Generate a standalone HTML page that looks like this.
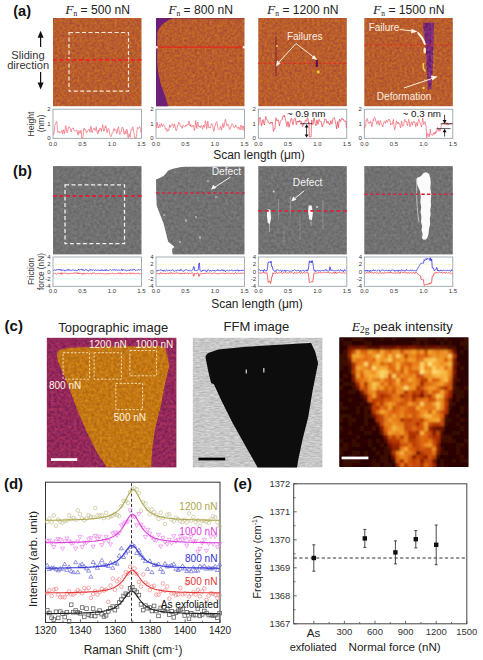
<!DOCTYPE html>
<html><head><meta charset="utf-8"><style>
html,body{margin:0;padding:0;background:#fff;width:483px;height:660px;overflow:hidden}
svg{display:block}
text{font-family:"Liberation Sans", sans-serif}
</style></head><body>
<svg width="483" height="660" viewBox="0 0 483 660">

<defs>
<filter id="nz" x="0" y="0" width="100%" height="100%" filterUnits="objectBoundingBox">
 <feTurbulence type="fractalNoise" baseFrequency="0.32" numOctaves="2" seed="4"/>
 <feColorMatrix type="matrix" values="0 0 0 0 0.55  0 0 0 0 0.12  0 0 0 0 0.2  2.4 0 0 0 -0.95"/>
 <feGaussianBlur stdDeviation="0.5"/>
</filter>
<filter id="nzY" x="0" y="0" width="100%" height="100%" filterUnits="objectBoundingBox">
 <feTurbulence type="fractalNoise" baseFrequency="0.3" numOctaves="2" seed="9"/>
 <feColorMatrix type="matrix" values="0 0 0 0 0.85  0 0 0 0 0.5  0 0 0 0 0.08  2.4 0 0 0 -0.95"/>
 <feGaussianBlur stdDeviation="0.5"/>
</filter>
<filter id="nzP" x="0" y="0" width="100%" height="100%" filterUnits="objectBoundingBox">
 <feTurbulence type="fractalNoise" baseFrequency="0.3" numOctaves="2" seed="13"/>
 <feColorMatrix type="matrix" values="0 0 0 0 0.75  0 0 0 0 0.2  0 0 0 0 0.45  2.4 0 0 0 -0.95"/>
 <feGaussianBlur stdDeviation="0.5"/>
</filter>
<filter id="nzG" x="0" y="0" width="100%" height="100%" filterUnits="objectBoundingBox">
 <feTurbulence type="fractalNoise" baseFrequency="0.35" numOctaves="2" seed="2"/>
 <feColorMatrix type="matrix" values="0 0 0 0 0.6  0 0 0 0 0.6  0 0 0 0 0.6  2 0 0 0 -0.8"/>
 <feGaussianBlur stdDeviation="0.6"/>
</filter>
<filter id="nzL" x="0" y="0" width="100%" height="100%" filterUnits="objectBoundingBox">
 <feTurbulence type="fractalNoise" baseFrequency="0.9 0.3" numOctaves="1" seed="5"/>
 <feColorMatrix type="matrix" values="0 0 0 0 0.55  0 0 0 0 0.55  0 0 0 0 0.55  1.6 0 0 0 -0.6"/>
</filter>
<filter id="bl"><feGaussianBlur stdDeviation="1.1"/></filter>
<filter id="afm" x="0" y="0" width="100%" height="100%" filterUnits="objectBoundingBox" color-interpolation-filters="sRGB"><feTurbulence type="fractalNoise" baseFrequency="0.4" numOctaves="2" seed="4"/><feColorMatrix type="matrix" values="-0.2306 0 0 0 0.8408  -0.2525 0 0 0 0.4910  0.1208 0 0 0 0.1161  0 0 0 0 1"/><feGaussianBlur stdDeviation="0.6"/><feComposite operator="in" in2="SourceGraphic"/></filter><filter id="gry" x="0" y="0" width="100%" height="100%" filterUnits="objectBoundingBox" color-interpolation-filters="sRGB"><feTurbulence type="fractalNoise" baseFrequency="0.35" numOctaves="2" seed="7"/><feColorMatrix type="matrix" values="0.1647 0 0 0 0.3608  0.1647 0 0 0 0.3608  0.1647 0 0 0 0.3608  0 0 0 0 1"/><feGaussianBlur stdDeviation="0.7"/><feComposite operator="in" in2="SourceGraphic"/></filter><filter id="mag" x="0" y="0" width="100%" height="100%" filterUnits="objectBoundingBox" color-interpolation-filters="sRGB"><feTurbulence type="fractalNoise" baseFrequency="0.35" numOctaves="2" seed="11"/><feColorMatrix type="matrix" values="-0.3529 0 0 0 0.7549  -0.1569 0 0 0 0.2353  -0.0784 0 0 0 0.3922  0 0 0 0 1"/><feGaussianBlur stdDeviation="0.5"/><feComposite operator="in" in2="SourceGraphic"/></filter><filter id="org" x="0" y="0" width="100%" height="100%" filterUnits="objectBoundingBox" color-interpolation-filters="sRGB"><feTurbulence type="fractalNoise" baseFrequency="0.35" numOctaves="2" seed="12"/><feColorMatrix type="matrix" values="-0.2353 0 0 0 0.8824  -0.2353 0 0 0 0.5882  -0.0784 0 0 0 0.1176  0 0 0 0 1"/><feGaussianBlur stdDeviation="0.5"/><feComposite operator="in" in2="SourceGraphic"/></filter><filter id="pur" x="0" y="0" width="100%" height="100%" filterUnits="objectBoundingBox" color-interpolation-filters="sRGB"><feTurbulence type="fractalNoise" baseFrequency="0.35" numOctaves="2" seed="17"/><feColorMatrix type="matrix" values="-0.3639 0 0 0 0.6565  -0.2384 0 0 0 0.2800  -0.2635 0 0 0 0.5984  0 0 0 0 1"/><feGaussianBlur stdDeviation="0.6"/><feComposite operator="in" in2="SourceGraphic"/></filter><filter id="lgr" x="0" y="0" width="100%" height="100%" filterUnits="objectBoundingBox" color-interpolation-filters="sRGB"><feTurbulence type="fractalNoise" baseFrequency="0.2 0.8" numOctaves="2" seed="5"/><feColorMatrix type="matrix" values="0.2667 0 0 0 0.6471  0.2667 0 0 0 0.6471  0.2667 0 0 0 0.6471  0 0 0 0 1"/><feGaussianBlur stdDeviation="0.4"/><feComposite operator="in" in2="SourceGraphic"/></filter>
<filter id="bl2"><feGaussianBlur stdDeviation="0.5"/></filter>
</defs>
<text x="13.2" y="15.6" font-size="14.6" font-weight="bold" fill="#111">(a)</text>
<text x="97.55" y="13.6" font-size="12.1" text-anchor="middle" fill="#222"><tspan font-family="Liberation Serif" font-style="italic" font-size="13.5">F</tspan><tspan font-family="Liberation Serif" font-size="7.5" dy="2.3">n</tspan><tspan dy="-2.3"> = 500 nN</tspan></text>
<rect x="53" y="18" width="88.5" height="88.2" fill="#b4582a" filter="url(#afm)"/>
<text x="200.55" y="13.6" font-size="12.1" text-anchor="middle" fill="#222"><tspan font-family="Liberation Serif" font-style="italic" font-size="13.5">F</tspan><tspan font-family="Liberation Serif" font-size="7.5" dy="2.3">n</tspan><tspan dy="-2.3"> = 800 nN</tspan></text>
<rect x="156" y="18" width="88.5" height="88.2" fill="#b4582a" filter="url(#afm)"/>
<text x="302.85" y="13.6" font-size="12.1" text-anchor="middle" fill="#222"><tspan font-family="Liberation Serif" font-style="italic" font-size="13.5">F</tspan><tspan font-family="Liberation Serif" font-size="7.5" dy="2.3">n</tspan><tspan dy="-2.3"> = 1200 nN</tspan></text>
<rect x="258.3" y="18" width="88.5" height="88.2" fill="#b4582a" filter="url(#afm)"/>
<text x="408.85" y="13.6" font-size="12.1" text-anchor="middle" fill="#222"><tspan font-family="Liberation Serif" font-style="italic" font-size="13.5">F</tspan><tspan font-family="Liberation Serif" font-size="7.5" dy="2.3">n</tspan><tspan dy="-2.3"> = 1500 nN</tspan></text>
<rect x="364.3" y="18" width="88.5" height="88.2" fill="#b4582a" filter="url(#afm)"/>
<rect x="69" y="32.5" width="59.5" height="58.7" fill="none" stroke="#f6ecdc" stroke-width="1.2" stroke-dasharray="4 2.5"/>
<line x1="53" y1="59.8" x2="141.5" y2="59.8" stroke="#ee2020" stroke-width="1.8" stroke-dasharray="4 2.5"/>
<rect x="156" y="18" width="88.5" height="1.2" fill="#8a3050" opacity="0.6"/>
<path d="M156,18 L173,18 C167,20.5 162,24 159.5,28 C158,30 157.5,32 157.3,34 L157.2,64 C158.5,76 161,86 163,90 C165,96 167,102 168,106.2 L156,106.2 Z" fill="#6c1e78"/>
<line x1="156" y1="47.2" x2="244.5" y2="47.2" stroke="#e8261a" stroke-width="1.2"/>
<circle cx="156.5" cy="47.2" r="1.3" fill="#fff"/><circle cx="244.0" cy="47.2" r="1.3" fill="#fff"/>
<line x1="258.3" y1="63.4" x2="346.8" y2="63.4" stroke="#e8261a" stroke-width="1.1" stroke-dasharray="3 2" opacity="0.85"/>
<line x1="276" y1="37" x2="276" y2="76" stroke="#7a2040" stroke-width="1.4" opacity="0.75"/>
<line x1="316.8" y1="60" x2="316.8" y2="67" stroke="#5a1050" stroke-width="2.2"/>
<circle cx="318.3" cy="72" r="1.4" fill="#f0d040"/><circle cx="277" cy="46" r="1" fill="#f0d040"/>
<text x="304.7" y="39.6" font-size="10" text-anchor="middle" fill="#fbeee0">Failures</text>
<path d="M296 43.5 L277.3 64 M296 43.5 L314.8 58" stroke="#fbeee0" stroke-width="1" fill="none"/>
<path d="M276 66.5 L277 60.5 L280.6 63.6 Z" fill="#fbeee0"/>
<path d="M317.3 60 L311.5 58.6 L314.2 55.2 Z" fill="#fbeee0"/>
<path d="M423.2 22.8 L434 22.5 L433.5 40 L433.5 54.4 L432.8 66 L432.3 78.6 L431 89.5 L428 89.5 L427.4 78.6 L426.5 66 L426.2 54.4 L425 42 L423.5 32 Z" fill="#74286f" filter="url(#pur)"/>
<line x1="364.3" y1="45" x2="452.8" y2="45" stroke="#e8261a" stroke-width="1.1" stroke-dasharray="3 2" opacity="0.9"/>
<path d="M417.8 31.5 C421.5 34.5 424.5 39 426 44.5 L424.3 45 C422.5 40 420 36.5 417.2 33.5 Z" fill="#fff8e0"/>
<ellipse cx="424.7" cy="50.5" rx="1.3" ry="3" fill="#fff2c0"/>
<path d="M423.5 63 C422.8 66 423 69 425.5 71.5" stroke="#f0d050" stroke-width="1.6" fill="none"/>
<circle cx="423.5" cy="88" r="1.2" fill="#f0d050"/><circle cx="424.8" cy="80" r="0.8" fill="#e8c040"/>
<path d="M433.5 50.7 C434.3 58 434.3 65 434 71.3" stroke="#d8b040" stroke-width="0.9" fill="none" stroke-dasharray="2 2.5" opacity="0.7"/>
<text x="368.7" y="30.6" font-size="10" fill="#fbeee0">Failure</text>
<path d="M399.5 29.5 L413 31" stroke="#fbeee0" stroke-width="1"/>
<path d="M417.5 31.5 L411.5 28.7 L411 33.5 Z" fill="#fbeee0"/>
<text x="404.1" y="99.9" font-size="10" text-anchor="middle" fill="#fbeee0">Deformation</text>
<path d="M404 88 L434 77.8" stroke="#fbeee0" stroke-width="1"/>
<path d="M437.7 76.6 L430.8 75.4 L432.4 80.4 Z" fill="#fbeee0"/>
<rect x="53" y="109.2" width="88.5" height="29.10000000000001" fill="#fff" stroke="#8e9aa0" stroke-width="0.8"/>
<text x="50.5" y="111.3" font-size="6" text-anchor="end" fill="#333" font-weight="normal" >2</text>
<text x="50.5" y="125.85" font-size="6" text-anchor="end" fill="#333" font-weight="normal" >1</text>
<text x="50.5" y="140.4" font-size="6" text-anchor="end" fill="#333" font-weight="normal" >0</text>
<text x="53.0" y="145.8" font-size="6" text-anchor="middle" fill="#333" font-weight="normal" >0.0</text>
<text x="82.5" y="145.8" font-size="6" text-anchor="middle" fill="#333" font-weight="normal" >0.5</text>
<text x="112.0" y="145.8" font-size="6" text-anchor="middle" fill="#333" font-weight="normal" >1.0</text>
<text x="141.5" y="145.8" font-size="6" text-anchor="middle" fill="#333" font-weight="normal" >1.5</text>
<polyline points="53.5,135.1 53.9,133.3 54.4,131.5 54.8,125.4 55.3,124.4 55.7,123.5 56.1,121.7 56.6,121.3 57.0,123.1 57.5,130.7 57.9,132.5 58.3,132.4 58.8,131.3 59.2,131.4 59.7,132.8 60.1,132.4 60.5,132.9 61.0,132.6 61.4,131.7 61.9,130.3 62.3,132.2 62.7,133.8 63.2,131.5 63.6,129.6 64.1,131.4 64.5,133.6 64.9,131.4 65.4,127.1 65.8,125.7 66.3,127.5 66.7,131.6 67.1,132.9 67.6,131.9 68.0,129.6 68.4,127.6 68.9,126.5 69.3,126.9 69.8,128.1 70.2,128.5 70.6,130.1 71.1,132.0 71.5,130.7 72.0,128.5 72.4,128.3 72.8,128.3 73.3,128.0 73.7,129.5 74.2,130.9 74.6,130.4 75.0,130.8 75.5,131.4 75.9,130.9 76.4,130.0 76.8,129.9 77.2,131.9 77.7,134.3 78.1,135.2 78.6,131.7 79.0,130.6 79.4,131.7 79.9,133.6 80.3,132.9 80.8,130.3 81.2,130.4 81.6,137.8 82.1,137.8 82.5,137.8 83.0,137.6 83.4,130.9 83.8,128.6 84.3,128.1 84.7,130.0 85.2,130.2 85.6,129.6 86.0,131.4 86.5,132.7 86.9,132.7 87.4,130.8 87.8,130.8 88.2,130.3 88.7,129.9 89.1,129.1 89.6,129.9 90.0,132.2 90.4,129.9 90.9,126.4 91.3,127.4 91.8,132.1 92.2,132.6 92.6,130.7 93.1,129.8 93.5,129.2 94.0,128.0 94.4,128.4 94.8,130.2 95.3,130.7 95.7,129.8 96.2,126.7 96.6,130.5 97.0,131.5 97.5,133.1 97.9,133.9 98.3,130.1 98.8,132.1 99.2,130.4 99.7,128.8 100.1,128.1 100.5,129.1 101.0,128.8 101.4,131.5 101.9,128.9 102.3,126.9 102.7,124.7 103.2,127.8 103.6,131.0 104.1,131.1 104.5,130.3 104.9,127.1 105.4,127.8 105.8,125.6 106.3,127.9 106.7,131.0 107.1,132.7 107.6,130.8 108.0,128.8 108.5,128.3 108.9,128.9 109.3,131.4 109.8,134.5 110.2,135.5 110.7,136.4 111.1,136.6 111.5,135.5 112.0,133.6 112.4,133.2 112.9,132.5 113.3,130.5 113.7,128.8 114.2,128.6 114.6,130.5 115.1,130.4 115.5,129.9 115.9,129.5 116.4,132.4 116.8,133.7 117.3,132.3 117.7,128.4 118.1,128.2 118.6,126.9 119.0,131.0 119.5,132.7 119.9,134.6 120.3,132.1 120.8,132.3 121.2,131.8 121.7,129.0 122.1,127.8 122.5,127.0 123.0,128.7 123.4,128.9 123.9,133.4 124.3,134.3 124.7,132.6 125.2,130.7 125.6,132.4 126.1,134.1 126.5,130.0 126.9,129.2 127.4,130.3 127.8,136.5 128.2,137.8 128.7,136.4 129.1,133.8 129.6,136.0 130.0,137.3 130.4,134.4 130.9,130.4 131.3,129.4 131.8,130.3 132.2,127.5 132.6,127.2 133.1,127.3 133.5,132.1 134.0,132.9 134.4,135.2 134.8,137.8 135.3,137.8 135.7,137.8 136.2,137.8 136.6,134.5 137.0,131.1 137.5,127.3 137.9,128.1 138.4,128.7 138.8,128.2 139.2,127.3 139.7,126.5 140.1,127.5 140.6,128.6 141.0,132.6" fill="none" stroke="#ee5a6a" stroke-width="0.65" stroke-linejoin="round"/>
<rect x="156" y="109.2" width="88.5" height="29.10000000000001" fill="#fff" stroke="#8e9aa0" stroke-width="0.8"/>
<text x="153.5" y="111.3" font-size="6" text-anchor="end" fill="#333" font-weight="normal" >2</text>
<text x="153.5" y="125.85" font-size="6" text-anchor="end" fill="#333" font-weight="normal" >1</text>
<text x="153.5" y="140.4" font-size="6" text-anchor="end" fill="#333" font-weight="normal" >0</text>
<text x="156.0" y="145.8" font-size="6" text-anchor="middle" fill="#333" font-weight="normal" >0.0</text>
<text x="185.5" y="145.8" font-size="6" text-anchor="middle" fill="#333" font-weight="normal" >0.5</text>
<text x="215.0" y="145.8" font-size="6" text-anchor="middle" fill="#333" font-weight="normal" >1.0</text>
<text x="244.5" y="145.8" font-size="6" text-anchor="middle" fill="#333" font-weight="normal" >1.5</text>
<polyline points="156.5,128.0 156.9,122.2 157.4,123.0 157.8,125.9 158.3,128.1 158.7,126.8 159.1,126.0 159.6,124.6 160.0,127.4 160.5,126.4 160.9,126.0 161.3,123.4 161.8,125.3 162.2,126.1 162.7,126.5 163.1,124.8 163.5,124.4 164.0,125.7 164.4,125.9 164.9,126.4 165.3,128.8 165.7,129.5 166.2,128.4 166.6,129.4 167.1,131.5 167.5,130.8 167.9,129.7 168.4,130.9 168.8,130.3 169.3,126.9 169.7,124.9 170.1,126.4 170.6,127.3 171.0,125.6 171.4,124.9 171.9,125.1 172.3,124.3 172.8,124.0 173.2,126.3 173.6,127.5 174.1,126.4 174.5,123.9 175.0,125.7 175.4,127.9 175.8,130.2 176.3,130.8 176.7,130.2 177.2,127.6 177.6,126.1 178.0,125.0 178.5,123.7 178.9,122.2 179.4,123.5 179.8,123.4 180.2,125.8 180.7,126.5 181.1,126.1 181.6,126.7 182.0,128.1 182.4,128.3 182.9,125.2 183.3,125.8 183.8,126.0 184.2,126.4 184.6,126.8 185.1,126.5 185.5,126.5 186.0,125.0 186.4,126.2 186.8,125.1 187.3,124.2 187.7,124.0 188.2,124.9 188.6,123.7 189.0,120.9 189.5,123.5 189.9,125.5 190.4,126.1 190.8,124.4 191.2,127.1 191.7,126.5 192.1,127.0 192.6,126.0 193.0,125.2 193.4,125.3 193.9,127.7 194.3,130.6 194.8,128.6 195.2,125.5 195.6,120.6 196.1,123.0 196.5,127.4 197.0,128.6 197.4,123.7 197.8,122.0 198.3,124.4 198.7,126.6 199.2,126.7 199.6,126.1 200.0,127.6 200.5,127.3 200.9,126.1 201.3,125.3 201.8,126.3 202.2,128.4 202.7,129.4 203.1,127.2 203.5,125.0 204.0,126.9 204.4,127.2 204.9,125.1 205.3,120.8 205.7,121.8 206.2,124.0 206.6,128.8 207.1,127.6 207.5,122.4 207.9,121.1 208.4,125.1 208.8,127.6 209.3,127.1 209.7,127.2 210.1,128.2 210.6,126.9 211.0,124.9 211.5,124.0 211.9,123.5 212.3,125.1 212.8,125.3 213.2,129.0 213.7,131.4 214.1,130.5 214.5,127.5 215.0,125.5 215.4,125.3 215.9,122.8 216.3,122.1 216.7,121.7 217.2,123.5 217.6,126.0 218.1,128.5 218.5,129.1 218.9,129.5 219.4,129.6 219.8,128.8 220.3,126.8 220.7,126.3 221.1,129.0 221.6,130.1 222.0,128.6 222.5,124.5 222.9,123.3 223.3,124.6 223.8,127.5 224.2,125.7 224.7,122.7 225.1,119.9 225.5,119.2 226.0,121.2 226.4,124.4 226.9,126.0 227.3,124.2 227.7,123.9 228.2,124.3 228.6,124.9 229.1,127.6 229.5,128.8 229.9,129.5 230.4,127.6 230.8,127.6 231.2,126.1 231.7,124.7 232.1,123.6 232.6,124.2 233.0,125.1 233.4,126.2 233.9,127.1 234.3,127.7 234.8,126.8 235.2,126.2 235.6,124.9 236.1,126.9 236.5,126.6 237.0,127.4 237.4,127.4 237.8,128.8 238.3,128.3 238.7,127.1 239.2,127.2 239.6,128.2 240.0,130.0 240.5,127.4 240.9,125.0 241.4,126.0 241.8,128.2 242.2,129.8 242.7,126.6 243.1,127.1 243.6,125.9 244.0,131.0" fill="none" stroke="#ec5868" stroke-width="0.65" stroke-linejoin="round"/>
<rect x="258.3" y="109.2" width="88.5" height="29.10000000000001" fill="#fff" stroke="#8e9aa0" stroke-width="0.8"/>
<text x="255.8" y="111.3" font-size="6" text-anchor="end" fill="#333" font-weight="normal" >2</text>
<text x="255.8" y="125.85" font-size="6" text-anchor="end" fill="#333" font-weight="normal" >1</text>
<text x="255.8" y="140.4" font-size="6" text-anchor="end" fill="#333" font-weight="normal" >0</text>
<text x="258.3" y="145.8" font-size="6" text-anchor="middle" fill="#333" font-weight="normal" >0.0</text>
<text x="287.8" y="145.8" font-size="6" text-anchor="middle" fill="#333" font-weight="normal" >0.5</text>
<text x="317.3" y="145.8" font-size="6" text-anchor="middle" fill="#333" font-weight="normal" >1.0</text>
<text x="346.8" y="145.8" font-size="6" text-anchor="middle" fill="#333" font-weight="normal" >1.5</text>
<polyline points="258.8,125.2 259.2,118.8 259.7,118.0 260.1,117.2 260.6,119.4 261.0,122.4 261.4,126.0 261.9,124.8 262.3,122.2 262.8,120.0 263.2,119.6 263.6,123.2 264.1,124.1 264.5,125.0 265.0,120.6 265.4,118.5 265.8,116.5 266.3,118.8 266.7,119.6 267.2,119.7 267.6,120.1 268.0,122.0 268.5,123.0 268.9,123.2 269.4,123.6 269.8,123.8 270.2,123.8 270.7,122.2 271.1,123.3 271.6,122.3 272.0,123.0 272.4,122.3 272.9,125.1 273.3,131.4 273.7,130.5 274.2,128.5 274.6,128.8 275.1,128.7 275.5,119.7 275.9,117.7 276.4,119.2 276.8,120.8 277.3,120.8 277.7,119.8 278.1,119.9 278.6,120.2 279.0,124.0 279.5,125.9 279.9,124.0 280.3,121.6 280.8,120.9 281.2,120.0 281.7,120.0 282.1,119.6 282.5,118.0 283.0,115.7 283.4,116.0 283.9,116.7 284.3,115.2 284.7,116.0 285.2,118.3 285.6,120.5 286.1,121.7 286.5,124.4 286.9,126.6 287.4,124.7 287.8,121.5 288.3,122.3 288.7,126.1 289.1,127.3 289.6,124.8 290.0,122.4 290.5,121.0 290.9,118.9 291.3,118.2 291.8,118.8 292.2,121.6 292.7,124.2 293.1,124.7 293.5,121.8 294.0,119.1 294.4,118.7 294.9,118.6 295.3,118.4 295.7,121.4 296.2,124.5 296.6,124.5 297.1,121.0 297.5,121.9 297.9,121.9 298.4,122.1 298.8,121.1 299.3,122.2 299.7,120.4 300.1,121.8 300.6,121.8 301.0,121.6 301.5,121.1 301.9,123.2 302.3,125.9 302.8,126.6 303.2,125.3 303.6,123.0 304.1,123.0 304.5,123.3 305.0,122.2 305.4,120.3 305.8,119.8 306.3,120.6 306.7,121.3 307.2,118.2 307.6,117.7 308.0,118.8 308.5,123.2 308.9,121.9 309.4,136.8 309.8,136.8 310.2,136.8 310.7,136.8 311.1,136.8 311.6,120.4 312.0,120.2 312.4,124.0 312.9,124.7 313.3,122.9 313.8,117.9 314.2,118.0 314.6,119.9 315.1,123.4 315.5,124.6 316.0,125.8 316.4,123.1 316.8,120.0 317.3,120.4 317.7,124.5 318.2,123.8 318.6,121.4 319.0,119.3 319.5,120.8 319.9,121.5 320.4,121.0 320.8,121.4 321.2,121.4 321.7,124.1 322.1,126.1 322.6,127.0 323.0,123.9 323.4,123.7 323.9,123.3 324.3,121.1 324.8,118.7 325.2,119.1 325.6,119.5 326.1,119.3 326.5,121.3 327.0,123.3 327.4,121.7 327.8,121.1 328.3,121.8 328.7,123.5 329.2,123.3 329.6,125.0 330.0,124.4 330.5,122.3 330.9,120.5 331.4,122.5 331.8,124.1 332.2,123.5 332.7,120.1 333.1,118.6 333.5,118.1 334.0,117.8 334.4,117.5 334.9,119.8 335.3,121.8 335.7,123.5 336.2,125.9 336.6,128.9 337.1,124.9 337.5,121.6 337.9,123.7 338.4,127.7 338.8,123.5 339.3,119.7 339.7,119.1 340.1,121.3 340.6,121.6 341.0,120.4 341.5,118.4 341.9,118.6 342.3,119.5 342.8,118.7 343.2,118.8 343.7,120.2 344.1,121.1 344.5,121.6 345.0,120.9 345.4,120.7 345.9,121.2 346.3,127.9" fill="none" stroke="#e43848" stroke-width="0.65" stroke-linejoin="round"/>
<rect x="364.3" y="109.2" width="88.5" height="29.10000000000001" fill="#fff" stroke="#8e9aa0" stroke-width="0.8"/>
<text x="361.8" y="111.3" font-size="6" text-anchor="end" fill="#333" font-weight="normal" >2</text>
<text x="361.8" y="125.85" font-size="6" text-anchor="end" fill="#333" font-weight="normal" >1</text>
<text x="361.8" y="140.4" font-size="6" text-anchor="end" fill="#333" font-weight="normal" >0</text>
<text x="364.3" y="145.8" font-size="6" text-anchor="middle" fill="#333" font-weight="normal" >0.0</text>
<text x="393.8" y="145.8" font-size="6" text-anchor="middle" fill="#333" font-weight="normal" >0.5</text>
<text x="423.3" y="145.8" font-size="6" text-anchor="middle" fill="#333" font-weight="normal" >1.0</text>
<text x="452.8" y="145.8" font-size="6" text-anchor="middle" fill="#333" font-weight="normal" >1.5</text>
<polyline points="364.8,128.5 365.2,124.9 365.7,125.4 366.1,120.1 366.6,120.3 367.0,118.4 367.4,119.4 367.9,121.4 368.3,123.3 368.8,122.3 369.2,122.1 369.6,123.5 370.1,123.1 370.5,121.3 371.0,121.6 371.4,123.6 371.8,126.8 372.3,124.6 372.7,122.9 373.2,119.6 373.6,120.6 374.0,118.1 374.5,117.2 374.9,117.5 375.4,118.7 375.8,121.4 376.2,121.2 376.7,124.2 377.1,123.7 377.6,123.1 378.0,120.6 378.4,121.9 378.9,124.6 379.3,125.5 379.7,123.4 380.2,120.6 380.6,120.6 381.1,124.1 381.5,124.8 381.9,125.5 382.4,125.5 382.8,127.0 383.3,124.2 383.7,122.5 384.1,121.2 384.6,121.7 385.0,123.0 385.5,123.3 385.9,121.3 386.3,120.0 386.8,120.6 387.2,122.3 387.7,121.2 388.1,120.7 388.5,119.5 389.0,120.3 389.4,119.3 389.9,120.3 390.3,122.1 390.7,125.0 391.2,123.8 391.6,123.7 392.1,124.3 392.5,124.2 392.9,121.2 393.4,119.4 393.8,124.2 394.3,128.3 394.7,129.8 395.1,127.9 395.6,127.2 396.0,123.1 396.5,120.9 396.9,122.3 397.3,123.9 397.8,122.8 398.2,122.0 398.7,123.8 399.1,124.2 399.5,123.5 400.0,124.9 400.4,128.0 400.9,127.1 401.3,122.3 401.7,120.9 402.2,124.3 402.6,125.9 403.1,126.4 403.5,125.9 403.9,123.2 404.4,120.6 404.8,119.2 405.3,121.3 405.7,121.5 406.1,121.0 406.6,122.0 407.0,124.1 407.5,125.7 407.9,123.5 408.3,120.8 408.8,119.2 409.2,121.9 409.6,125.2 410.1,126.8 410.5,126.3 411.0,123.3 411.4,122.2 411.8,122.1 412.3,125.1 412.7,123.0 413.2,122.1 413.6,121.3 414.0,122.6 414.5,121.6 414.9,122.5 415.4,124.3 415.8,127.1 416.2,124.3 416.7,122.7 417.1,123.3 417.6,125.9 418.0,122.0 418.4,119.5 418.9,119.0 419.3,121.2 419.8,121.3 420.2,123.5 420.6,124.8 421.1,125.1 421.5,127.1 422.0,124.1 422.4,120.3 422.8,118.0 423.3,122.0 423.7,124.4 424.2,123.6 424.6,122.8 425.0,121.6 425.5,124.4 425.9,124.5 426.4,131.0 426.8,137.7 427.2,133.3 427.7,134.8 428.1,134.6 428.6,134.2 429.0,136.9 429.4,134.3 429.9,135.2 430.3,129.1 430.8,133.6 431.2,134.4 431.6,134.3 432.1,134.9 432.5,135.5 433.0,134.5 433.4,133.2 433.8,134.3 434.3,132.5 434.7,134.2 435.2,133.9 435.6,131.7 436.0,133.1 436.5,130.0 436.9,129.5 437.4,127.3 437.8,128.5 438.2,131.2 438.7,129.3 439.1,130.0 439.5,129.1 440.0,131.2 440.4,129.0 440.9,129.0 441.3,124.5 441.7,124.9 442.2,124.0 442.6,123.4 443.1,122.8 443.5,123.7 443.9,124.2 444.4,124.4 444.8,123.1 445.3,122.3 445.7,123.5 446.1,124.8 446.6,124.6 447.0,122.4 447.5,123.6 447.9,125.3 448.3,123.8 448.8,124.8 449.2,124.3 449.7,124.2 450.1,124.4 450.5,123.3 451.0,123.8 451.4,124.3 451.9,123.4 452.3,123.0" fill="none" stroke="#ec5868" stroke-width="0.65" stroke-linejoin="round"/>
<text x="306.2" y="116.8" font-size="9.8" text-anchor="middle" fill="#111" font-weight="normal" >~ 0.9 nm</text>
<line x1="300" y1="123.7" x2="312" y2="123.7" stroke="#111" stroke-width="0.7"/>
<line x1="306.6" y1="126" x2="306.6" y2="136" stroke="#111" stroke-width="0.8"/>
<path d="M306.6 124.2 l-2 3.2 h4 Z M306.6 137.6 l-2 -3.2 h4 Z" fill="#111"/>
<text x="421.8" y="116.8" font-size="9.8" text-anchor="middle" fill="#111" font-weight="normal" >~ 0.3 nm</text>
<line x1="440.7" y1="123.7" x2="452.5" y2="123.7" stroke="#111" stroke-width="0.7"/>
<line x1="436.8" y1="128.6" x2="450.5" y2="128.6" stroke="#111" stroke-width="0.7"/>
<path d="M444.6 123.5 l-2 -3.4 h4 Z M444.6 128.8 l-2 3.4 h4 Z" fill="#111"/>
<line x1="444.6" y1="114.8" x2="444.6" y2="121" stroke="#111" stroke-width="0.8"/><line x1="444.6" y1="131.5" x2="444.6" y2="136.5" stroke="#111" stroke-width="0.8"/>
<text x="0" y="0" font-size="8.6" text-anchor="middle" fill="#333" transform="translate(33.6,124) rotate(-90)">Height</text>
<text x="0" y="0" font-size="8.6" text-anchor="middle" fill="#333" transform="translate(43.6,123.5) rotate(-90)">(nm)</text>
<path d="M40.6 30.8 l-3 7 h6 Z" fill="#111"/><line x1="40.6" y1="36" x2="40.6" y2="47" stroke="#111" stroke-width="1.2"/>
<path d="M40.6 89.4 l-3 -7 h6 Z" fill="#111"/><line x1="40.6" y1="72" x2="40.6" y2="84" stroke="#111" stroke-width="1.2"/>
<text x="28" y="58.5" font-size="11.1" text-anchor="middle" fill="#333" font-weight="normal" >Sliding</text>
<text x="28.1" y="69.3" font-size="11.1" text-anchor="middle" fill="#333" font-weight="normal" >direction</text>
<text x="259" y="158.8" font-size="12" text-anchor="middle" fill="#222" font-weight="normal" >Scan length (μm)</text>
<text x="13" y="175.8" font-size="14.8" font-weight="bold" fill="#111">(b)</text>
<rect x="53" y="166.1" width="88.5" height="88.3" fill="#707070" filter="url(#gry)"/>
<rect x="156" y="166.1" width="88.5" height="88.3" fill="#707070" filter="url(#gry)"/>
<rect x="258.3" y="166.1" width="88.5" height="88.3" fill="#707070" filter="url(#gry)"/>
<rect x="364.3" y="166.1" width="88.5" height="88.3" fill="#707070" filter="url(#gry)"/>
<rect x="65" y="184.8" width="59.5" height="58.9" fill="none" stroke="#f2f2f2" stroke-width="1.3" stroke-dasharray="4 2.5"/>
<line x1="53" y1="196" x2="141.5" y2="196" stroke="#4f8a84" stroke-width="2.6" opacity="0.45"/>
<line x1="53" y1="196" x2="141.5" y2="196" stroke="#e0203a" stroke-width="1.8" stroke-dasharray="4 2.5"/>
<path d="M155.5,165.5 L245,165.5 L245,166.6 L185,166.7 C180,167 175,168 170.7,169.5 C168.5,170.3 167.5,171.3 166.6,172.4 C165,174.5 164,175.5 162.4,176.6 C160,178 158,179 155.5,179.7 Z" fill="#fff"/>
<path d="M155.5,179.7 L156,180 L156.3,195 L156.6,205 L158.3,210 L161,217 L163.6,223.6 L166,233 L168.2,241.8 L171,244 L174.5,247 L172,249 L172.7,255 L155.5,255 Z" fill="#fff"/>
<line x1="156" y1="193" x2="244.5" y2="193" stroke="#4f8a84" stroke-width="2.6" opacity="0.45"/>
<line x1="156" y1="193" x2="244.5" y2="193" stroke="#e0203a" stroke-width="1.6" stroke-dasharray="3.5 2.2"/>
<text x="226.4" y="175.3" font-size="10.2" text-anchor="middle" fill="#f4f4f4" font-weight="normal" >Defect</text>
<path d="M230.5 177 L213.5 188" stroke="#f4f4f4" stroke-width="1"/><path d="M211 189.8 l2.2 -5 l3.2 3.3 Z" fill="#f4f4f4"/>
<line x1="186" y1="219.1" x2="186" y2="222.1" stroke="#ddd" stroke-width="1"/>
<line x1="200" y1="236.1" x2="200" y2="239.1" stroke="#ddd" stroke-width="1"/>
<line x1="164" y1="214.1" x2="164" y2="216.1" stroke="#ddd" stroke-width="1"/>
<line x1="180" y1="241.1" x2="180" y2="243.1" stroke="#ddd" stroke-width="1"/>
<line x1="216" y1="196.1" x2="216" y2="198.1" stroke="#ddd" stroke-width="1"/>
<line x1="196" y1="216.1" x2="196" y2="218.1" stroke="#ddd" stroke-width="1"/>
<line x1="208" y1="180.1" x2="208" y2="182.1" stroke="#ddd" stroke-width="1"/>
<line x1="258.3" y1="210.9" x2="346.8" y2="210.9" stroke="#4f8a84" stroke-width="2.6" opacity="0.45"/>
<text x="307.6" y="186.2" font-size="10.2" text-anchor="middle" fill="#f4f4f4" font-weight="normal" >Defect</text>
<path d="M304.3 190.7 L293.5 199.5" stroke="#f4f4f4" stroke-width="1"/><path d="M291.2 201.6 l2 -5 l3.2 3.2 Z" fill="#f4f4f4"/>
<path d="M267.3 209.5 L270.3 209.5 L271.1 218 L269.8 224 L267.8 223 L266.90000000000003 216 Z" fill="#fafafa" filter="url(#bl2)"/>
<path d="M308.6 205.5 L311.6 205.5 L312.90000000000003 213 L311.90000000000003 220 L309.3 219.5 L308.1 212 Z" fill="#fafafa" filter="url(#bl2)"/>
<line x1="258.3" y1="210.9" x2="346.8" y2="210.9" stroke="#e0203a" stroke-width="1.8" stroke-dasharray="4 2.5"/>
<circle cx="273.7" cy="191.5" r="0.9" fill="#ddd"/><circle cx="317" cy="207" r="0.9" fill="#ddd"/>
<line x1="269.5" y1="222" x2="269.5" y2="232" stroke="#e8e8e8" stroke-width="0.9" opacity="0.5"/>
<line x1="311" y1="218" x2="311" y2="226" stroke="#e8e8e8" stroke-width="0.9" opacity="0.5"/>
<line x1="278.6" y1="199" x2="278.6" y2="219" stroke="#e8e8e8" stroke-width="0.9" opacity="0.3"/>
<line x1="323" y1="200" x2="323" y2="230" stroke="#e8e8e8" stroke-width="0.9" opacity="0.3"/>
<line x1="290.4" y1="196" x2="290.4" y2="214" stroke="#e8e8e8" stroke-width="0.9" opacity="0.3"/>
<line x1="300" y1="215" x2="300" y2="240" stroke="#e8e8e8" stroke-width="0.9" opacity="0.2"/>
<line x1="284" y1="225" x2="284" y2="245" stroke="#e8e8e8" stroke-width="0.9" opacity="0.2"/>
<line x1="364.3" y1="194.2" x2="452.8" y2="194.2" stroke="#4f8a84" stroke-width="2.6" opacity="0.45"/>
<path d="M425.2 172.3 L427.5 172.8 L429 174 L430.3 178 L430.8 183 L430.3 188 L431.3 194 L430.8 200 L431 206 L430.2 210 L430.7 214.5 L429.8 219 L430.2 224 L429 229 L428.5 234 L427.5 237.5 L426 239.5 L423.5 239.8 L422 238 L422.6 234 L421.5 230 L422.2 226 L421 222 L421.4 217 L420.6 212 L421.2 207 L420.3 202 L420.8 197 L420.2 192 L419.2 189 L417.6 186 L416.6 183 L416.4 179 L417.5 177.5 L419.5 177 L421.5 175.5 L423 173.5 Z" fill="#fbfbfb" filter="url(#bl2)"/>
<path d="M417 180 C416 195 417 210 419 222" stroke="#cfcfcf" stroke-width="0.8" fill="none"/>
<line x1="364.3" y1="194.2" x2="452.8" y2="194.2" stroke="#e0203a" stroke-width="1.6" stroke-dasharray="3.5 2.2"/>
<rect x="53" y="257.0" width="88.5" height="29.30000000000001" fill="#fff" stroke="#8e9aa0" stroke-width="0.8"/>
<text x="50.7" y="259.1" font-size="6" text-anchor="end" fill="#333" font-weight="normal" >4</text>
<text x="50.7" y="266.425" font-size="6" text-anchor="end" fill="#333" font-weight="normal" >2</text>
<text x="50.7" y="273.75" font-size="6" text-anchor="end" fill="#333" font-weight="normal" >0</text>
<text x="50.7" y="281.07500000000005" font-size="6" text-anchor="end" fill="#333" font-weight="normal" >-2</text>
<text x="50.7" y="288.40000000000003" font-size="6" text-anchor="end" fill="#333" font-weight="normal" >-4</text>
<text x="53.0" y="292.9" font-size="6" text-anchor="middle" fill="#333" font-weight="normal" >0.0</text>
<text x="82.5" y="292.9" font-size="6" text-anchor="middle" fill="#333" font-weight="normal" >0.5</text>
<text x="112.0" y="292.9" font-size="6" text-anchor="middle" fill="#333" font-weight="normal" >1.0</text>
<text x="141.5" y="292.9" font-size="6" text-anchor="middle" fill="#333" font-weight="normal" >1.5</text>
<line x1="53" y1="264.325" x2="141.5" y2="264.325" stroke="#f4f0b0" stroke-width="0.6"/>
<line x1="53" y1="278.97499999999997" x2="141.5" y2="278.97499999999997" stroke="#c8f0f0" stroke-width="0.6"/>
<polyline points="53.5,273.7 54.1,273.7 54.7,272.9 55.3,273.5 55.8,273.7 56.4,274.2 57.0,273.9 57.6,273.4 58.2,273.3 58.8,272.9 59.4,273.7 60.0,273.3 60.5,273.0 61.1,274.3 61.7,272.6 62.3,273.9 62.9,273.9 63.5,273.1 64.1,273.3 64.7,273.0 65.2,273.2 65.8,273.4 66.4,273.5 67.0,273.8 67.6,273.3 68.2,274.2 68.8,273.5 69.4,273.2 69.9,273.9 70.5,273.2 71.1,273.1 71.7,273.5 72.3,273.5 72.9,273.3 73.5,273.2 74.1,273.6 74.6,272.7 75.2,272.9 75.8,273.1 76.4,273.0 77.0,273.0 77.6,274.0 78.2,272.5 78.8,274.0 79.3,273.4 79.9,273.9 80.5,273.2 81.1,273.3 81.7,273.4 82.3,274.5 82.9,273.2 83.4,273.4 84.0,274.2 84.6,272.9 85.2,273.5 85.8,273.8 86.4,273.3 87.0,273.7 87.6,273.3 88.1,273.6 88.7,273.8 89.3,273.9 89.9,273.2 90.5,273.4 91.1,273.8 91.7,273.7 92.3,273.8 92.8,272.7 93.4,273.3 94.0,273.4 94.6,272.9 95.2,273.7 95.8,273.9 96.4,273.7 97.0,273.4 97.5,273.6 98.1,273.6 98.7,273.4 99.3,273.6 99.9,273.9 100.5,273.2 101.1,273.6 101.7,273.6 102.2,273.3 102.8,273.3 103.4,273.9 104.0,273.8 104.6,274.0 105.2,273.9 105.8,273.4 106.4,273.7 106.9,273.8 107.5,274.0 108.1,273.0 108.7,273.6 109.3,273.4 109.9,273.5 110.5,273.8 111.1,273.3 111.6,273.5 112.2,273.0 112.8,273.3 113.4,274.0 114.0,273.5 114.6,273.5 115.2,273.5 115.7,274.0 116.3,274.1 116.9,273.5 117.5,273.4 118.1,273.9 118.7,272.8 119.3,273.3 119.9,273.7 120.4,272.7 121.0,274.1 121.6,273.9 122.2,273.9 122.8,273.1 123.4,273.8 124.0,273.2 124.6,273.4 125.1,273.7 125.7,273.5 126.3,273.9 126.9,273.2 127.5,273.9 128.1,273.8 128.7,273.2 129.3,273.7 129.8,272.8 130.4,273.0 131.0,274.1 131.6,273.4 132.2,273.5 132.8,272.7 133.4,273.7 134.0,273.7 134.5,273.6 135.1,273.6 135.7,273.8 136.3,273.4 136.9,273.7 137.5,273.8 138.1,272.9 138.7,273.4 139.2,273.9 139.8,274.0 140.4,273.6 141.0,273.9" fill="none" stroke="#f03838" stroke-width="0.75" stroke-linejoin="round"/>
<polyline points="53.5,270.7 54.1,270.0 54.7,269.7 55.3,269.9 55.8,270.6 56.4,269.6 57.0,269.8 57.6,269.8 58.2,269.8 58.8,269.6 59.4,269.0 60.0,270.4 60.5,270.1 61.1,269.3 61.7,270.7 62.3,270.0 62.9,270.4 63.5,270.1 64.1,269.9 64.7,271.0 65.2,270.6 65.8,270.8 66.4,270.2 67.0,270.4 67.6,269.4 68.2,270.4 68.8,269.3 69.4,270.3 69.9,270.0 70.5,270.1 71.1,270.1 71.7,270.6 72.3,270.0 72.9,269.9 73.5,270.0 74.1,269.8 74.6,270.5 75.2,270.3 75.8,270.4 76.4,270.9 77.0,269.9 77.6,270.4 78.2,270.1 78.8,269.0 79.3,270.0 79.9,270.1 80.5,269.6 81.1,269.5 81.7,269.2 82.3,270.4 82.9,269.3 83.4,270.2 84.0,270.7 84.6,270.6 85.2,269.6 85.8,269.7 86.4,269.5 87.0,270.6 87.6,270.3 88.1,270.7 88.7,271.1 89.3,270.1 89.9,269.4 90.5,269.6 91.1,270.5 91.7,269.6 92.3,270.4 92.8,270.0 93.4,269.7 94.0,270.3 94.6,270.5 95.2,269.8 95.8,270.2 96.4,270.4 97.0,269.8 97.5,270.2 98.1,269.9 98.7,270.6 99.3,269.8 99.9,270.6 100.5,270.3 101.1,271.0 101.7,269.6 102.2,270.1 102.8,269.9 103.4,270.9 104.0,270.0 104.6,270.3 105.2,269.5 105.8,270.9 106.4,269.9 106.9,269.6 107.5,270.7 108.1,270.1 108.7,270.6 109.3,270.1 109.9,270.0 110.5,269.5 111.1,270.0 111.6,270.4 112.2,269.8 112.8,270.1 113.4,269.6 114.0,270.4 114.6,269.5 115.2,270.0 115.7,270.0 116.3,269.6 116.9,270.4 117.5,270.4 118.1,269.9 118.7,270.2 119.3,270.1 119.9,270.3 120.4,270.3 121.0,269.7 121.6,269.2 122.2,270.8 122.8,269.4 123.4,269.8 124.0,269.5 124.6,270.0 125.1,270.5 125.7,270.2 126.3,270.6 126.9,270.9 127.5,270.1 128.1,270.0 128.7,270.2 129.3,270.0 129.8,270.8 130.4,269.6 131.0,270.2 131.6,270.1 132.2,269.8 132.8,270.4 133.4,268.9 134.0,269.5 134.5,269.5 135.1,270.0 135.7,270.5 136.3,269.9 136.9,270.5 137.5,270.0 138.1,270.0 138.7,269.5 139.2,269.9 139.8,270.0 140.4,269.5 141.0,270.2" fill="none" stroke="#2a2ae8" stroke-width="0.75" stroke-linejoin="round"/>
<rect x="156" y="257.0" width="88.5" height="29.30000000000001" fill="#fff" stroke="#8e9aa0" stroke-width="0.8"/>
<text x="153.7" y="259.1" font-size="6" text-anchor="end" fill="#333" font-weight="normal" >4</text>
<text x="153.7" y="266.425" font-size="6" text-anchor="end" fill="#333" font-weight="normal" >2</text>
<text x="153.7" y="273.75" font-size="6" text-anchor="end" fill="#333" font-weight="normal" >0</text>
<text x="153.7" y="281.07500000000005" font-size="6" text-anchor="end" fill="#333" font-weight="normal" >-2</text>
<text x="153.7" y="288.40000000000003" font-size="6" text-anchor="end" fill="#333" font-weight="normal" >-4</text>
<text x="156.0" y="292.9" font-size="6" text-anchor="middle" fill="#333" font-weight="normal" >0.0</text>
<text x="185.5" y="292.9" font-size="6" text-anchor="middle" fill="#333" font-weight="normal" >0.5</text>
<text x="215.0" y="292.9" font-size="6" text-anchor="middle" fill="#333" font-weight="normal" >1.0</text>
<text x="244.5" y="292.9" font-size="6" text-anchor="middle" fill="#333" font-weight="normal" >1.5</text>
<line x1="156" y1="264.325" x2="244.5" y2="264.325" stroke="#f4f0b0" stroke-width="0.6"/>
<line x1="156" y1="278.97499999999997" x2="244.5" y2="278.97499999999997" stroke="#c8f0f0" stroke-width="0.6"/>
<polyline points="156.5,273.4 157.1,273.2 157.7,273.9 158.3,273.6 158.8,273.8 159.4,274.1 160.0,272.9 160.6,272.8 161.2,272.9 161.8,274.0 162.4,273.2 163.0,273.0 163.5,273.5 164.1,273.0 164.7,273.7 165.3,273.7 165.9,273.6 166.5,273.6 167.1,273.7 167.7,272.9 168.2,273.7 168.8,273.5 169.4,273.5 170.0,272.5 170.6,273.6 171.2,273.1 171.8,272.6 172.4,273.7 172.9,273.6 173.5,273.4 174.1,273.8 174.7,272.8 175.3,273.5 175.9,272.9 176.5,273.1 177.1,273.3 177.6,272.9 178.2,273.4 178.8,272.9 179.4,273.8 180.0,273.6 180.6,272.9 181.2,274.1 181.8,273.1 182.3,273.5 182.9,273.5 183.5,273.6 184.1,272.8 184.7,273.9 185.3,273.0 185.9,273.1 186.4,273.5 187.0,273.3 187.6,273.0 188.2,273.5 188.8,273.9 189.4,273.2 190.0,273.6 190.6,273.4 191.1,273.3 191.7,273.0 192.3,272.6 192.9,273.2 193.5,276.2 194.1,275.9 194.7,273.2 195.3,273.9 195.8,273.5 196.4,273.8 197.0,273.0 197.6,272.8 198.2,273.2 198.8,276.6 199.4,275.9 200.0,273.7 200.5,273.2 201.1,273.7 201.7,273.8 202.3,273.8 202.9,273.3 203.5,273.5 204.1,273.1 204.7,273.8 205.2,273.1 205.8,273.5 206.4,272.8 207.0,272.9 207.6,273.4 208.2,273.3 208.8,273.2 209.4,273.1 209.9,273.4 210.5,272.9 211.1,273.5 211.7,274.0 212.3,273.2 212.9,273.3 213.5,273.0 214.1,273.1 214.6,273.3 215.2,273.3 215.8,273.3 216.4,273.5 217.0,273.7 217.6,273.6 218.2,273.3 218.7,274.1 219.3,273.5 219.9,273.7 220.5,273.3 221.1,273.6 221.7,273.3 222.3,273.4 222.9,272.8 223.4,273.4 224.0,273.4 224.6,273.3 225.2,274.0 225.8,273.7 226.4,272.8 227.0,273.1 227.6,273.3 228.1,272.9 228.7,273.4 229.3,273.4 229.9,273.4 230.5,273.9 231.1,273.0 231.7,273.4 232.3,273.3 232.8,273.4 233.4,273.5 234.0,274.1 234.6,273.2 235.2,272.5 235.8,272.9 236.4,273.4 237.0,273.6 237.5,273.3 238.1,273.2 238.7,273.3 239.3,273.0 239.9,273.6 240.5,272.9 241.1,273.2 241.7,273.5 242.2,273.4 242.8,273.2 243.4,273.0 244.0,273.3" fill="none" stroke="#f03838" stroke-width="0.75" stroke-linejoin="round"/>
<polyline points="156.5,270.9 157.1,271.4 157.7,270.2 158.3,270.1 158.8,270.6 159.4,270.3 160.0,269.7 160.6,270.0 161.2,270.1 161.8,270.2 162.4,270.9 163.0,270.0 163.5,271.3 164.1,270.6 164.7,270.7 165.3,271.3 165.9,270.5 166.5,269.7 167.1,270.6 167.7,271.1 168.2,270.5 168.8,270.1 169.4,270.4 170.0,270.5 170.6,271.1 171.2,270.2 171.8,270.2 172.4,269.8 172.9,269.8 173.5,270.2 174.1,271.3 174.7,271.2 175.3,271.0 175.9,270.3 176.5,270.9 177.1,269.9 177.6,270.4 178.2,270.3 178.8,270.1 179.4,270.3 180.0,271.1 180.6,269.3 181.2,269.8 181.8,269.8 182.3,270.8 182.9,271.4 183.5,271.2 184.1,271.0 184.7,270.1 185.3,270.0 185.9,269.8 186.4,269.5 187.0,270.2 187.6,270.3 188.2,270.7 188.8,270.6 189.4,271.0 190.0,270.2 190.6,270.3 191.1,270.7 191.7,270.9 192.3,270.3 192.9,269.9 193.5,266.8 194.1,266.7 194.7,270.7 195.3,270.6 195.8,270.6 196.4,270.6 197.0,270.8 197.6,270.3 198.2,269.9 198.8,264.0 199.4,262.9 200.0,270.7 200.5,270.7 201.1,271.5 201.7,271.6 202.3,270.1 202.9,271.0 203.5,270.1 204.1,270.5 204.7,270.4 205.2,269.8 205.8,270.5 206.4,272.0 207.0,271.3 207.6,270.0 208.2,269.5 208.8,270.5 209.4,270.8 209.9,271.1 210.5,270.2 211.1,271.3 211.7,271.1 212.3,270.4 212.9,270.4 213.5,270.6 214.1,270.0 214.6,271.1 215.2,271.0 215.8,270.7 216.4,270.4 217.0,270.6 217.6,269.5 218.2,270.8 218.7,270.2 219.3,270.8 219.9,270.3 220.5,270.7 221.1,270.7 221.7,269.7 222.3,270.6 222.9,269.7 223.4,270.8 224.0,270.7 224.6,269.9 225.2,271.7 225.8,271.3 226.4,270.5 227.0,270.3 227.6,270.2 228.1,270.6 228.7,271.2 229.3,270.1 229.9,270.3 230.5,271.0 231.1,270.4 231.7,269.6 232.3,270.4 232.8,271.1 233.4,270.7 234.0,270.7 234.6,270.3 235.2,270.0 235.8,270.9 236.4,270.8 237.0,270.0 237.5,270.1 238.1,269.8 238.7,271.2 239.3,270.9 239.9,270.0 240.5,270.9 241.1,270.3 241.7,270.5 242.2,270.8 242.8,269.8 243.4,270.5 244.0,270.7" fill="none" stroke="#2a2ae8" stroke-width="0.75" stroke-linejoin="round"/>
<rect x="258.3" y="257.0" width="88.5" height="29.30000000000001" fill="#fff" stroke="#8e9aa0" stroke-width="0.8"/>
<text x="256.0" y="259.1" font-size="6" text-anchor="end" fill="#333" font-weight="normal" >4</text>
<text x="256.0" y="266.425" font-size="6" text-anchor="end" fill="#333" font-weight="normal" >2</text>
<text x="256.0" y="273.75" font-size="6" text-anchor="end" fill="#333" font-weight="normal" >0</text>
<text x="256.0" y="281.07500000000005" font-size="6" text-anchor="end" fill="#333" font-weight="normal" >-2</text>
<text x="256.0" y="288.40000000000003" font-size="6" text-anchor="end" fill="#333" font-weight="normal" >-4</text>
<text x="258.3" y="292.9" font-size="6" text-anchor="middle" fill="#333" font-weight="normal" >0.0</text>
<text x="287.8" y="292.9" font-size="6" text-anchor="middle" fill="#333" font-weight="normal" >0.5</text>
<text x="317.3" y="292.9" font-size="6" text-anchor="middle" fill="#333" font-weight="normal" >1.0</text>
<text x="346.8" y="292.9" font-size="6" text-anchor="middle" fill="#333" font-weight="normal" >1.5</text>
<line x1="258.3" y1="264.325" x2="346.8" y2="264.325" stroke="#f4f0b0" stroke-width="0.6"/>
<line x1="258.3" y1="278.97499999999997" x2="346.8" y2="278.97499999999997" stroke="#c8f0f0" stroke-width="0.6"/>
<polyline points="258.8,273.0 259.4,273.0 260.0,272.7 260.6,273.4 261.1,272.6 261.7,273.3 262.3,272.8 262.9,272.5 263.5,272.2 264.1,273.1 264.7,272.7 265.3,272.7 265.8,273.5 266.4,272.9 267.0,272.7 267.6,276.8 268.2,282.5 268.8,282.1 269.4,281.1 270.0,281.3 270.5,283.4 271.1,281.8 271.7,276.8 272.3,276.8 272.9,272.8 273.5,273.7 274.1,273.5 274.7,272.8 275.2,273.6 275.8,272.7 276.4,272.3 277.0,273.2 277.6,273.1 278.2,272.8 278.8,273.0 279.4,272.9 279.9,273.1 280.5,272.5 281.1,272.7 281.7,272.9 282.3,273.7 282.9,273.1 283.5,272.8 284.1,272.6 284.6,273.1 285.2,272.6 285.8,272.5 286.4,273.1 287.0,272.6 287.6,272.9 288.2,273.3 288.7,272.9 289.3,272.3 289.9,272.7 290.5,272.8 291.1,272.5 291.7,272.6 292.3,272.8 292.9,273.5 293.4,273.8 294.0,273.5 294.6,272.2 295.2,272.6 295.8,273.4 296.4,272.6 297.0,273.4 297.6,272.8 298.1,272.5 298.7,272.9 299.3,272.6 299.9,272.5 300.5,273.5 301.1,272.9 301.7,272.7 302.3,273.1 302.8,273.4 303.4,272.3 304.0,272.8 304.6,273.1 305.2,273.2 305.8,272.9 306.4,272.4 307.0,273.1 307.5,272.7 308.1,272.8 308.7,276.8 309.3,282.5 309.9,282.4 310.5,282.3 311.1,281.5 311.7,281.7 312.2,281.9 312.8,281.9 313.4,276.8 314.0,272.9 314.6,273.1 315.2,273.4 315.8,273.2 316.4,273.1 316.9,272.7 317.5,273.3 318.1,272.4 318.7,272.9 319.3,272.4 319.9,272.5 320.5,272.8 321.0,272.8 321.6,272.7 322.2,272.7 322.8,272.6 323.4,272.2 324.0,272.6 324.6,272.3 325.2,272.5 325.7,273.0 326.3,272.7 326.9,272.6 327.5,272.5 328.1,273.0 328.7,272.4 329.3,273.1 329.9,272.9 330.4,272.6 331.0,272.8 331.6,273.2 332.2,273.3 332.8,273.0 333.4,273.1 334.0,272.1 334.6,273.2 335.1,273.4 335.7,272.0 336.3,273.5 336.9,273.1 337.5,272.7 338.1,272.8 338.7,272.7 339.3,272.3 339.8,272.0 340.4,272.8 341.0,272.7 341.6,273.0 342.2,273.0 342.8,273.0 343.4,272.8 344.0,273.0 344.5,272.8 345.1,273.0 345.7,273.3 346.3,273.0" fill="none" stroke="#f03838" stroke-width="0.75" stroke-linejoin="round"/>
<polyline points="258.8,270.3 259.4,269.5 260.0,270.1 260.6,271.1 261.1,270.8 261.7,270.1 262.3,270.6 262.9,270.0 263.5,271.5 264.1,269.5 264.7,269.7 265.3,271.2 265.8,270.7 266.4,270.8 267.0,270.7 267.6,266.5 268.2,262.1 268.8,262.2 269.4,262.2 270.0,261.5 270.5,262.8 271.1,261.2 271.7,266.5 272.3,266.5 272.9,269.4 273.5,270.2 274.1,270.5 274.7,271.5 275.2,270.7 275.8,271.5 276.4,270.1 277.0,269.6 277.6,269.8 278.2,270.4 278.8,270.3 279.4,270.8 279.9,270.4 280.5,270.4 281.1,270.5 281.7,271.8 282.3,270.4 282.9,270.3 283.5,270.9 284.1,270.3 284.6,270.1 285.2,271.6 285.8,270.1 286.4,270.8 287.0,271.1 287.6,270.5 288.2,271.0 288.7,270.8 289.3,271.1 289.9,270.9 290.5,271.2 291.1,270.9 291.7,271.1 292.3,271.2 292.9,270.1 293.4,270.6 294.0,270.4 294.6,269.7 295.2,270.2 295.8,270.6 296.4,271.1 297.0,270.2 297.6,270.3 298.1,270.1 298.7,270.6 299.3,270.7 299.9,271.6 300.5,270.3 301.1,271.3 301.7,270.8 302.3,270.3 302.8,270.5 303.4,270.6 304.0,270.4 304.6,271.5 305.2,270.6 305.8,270.0 306.4,270.0 307.0,271.3 307.5,270.1 308.1,270.4 308.7,266.5 309.3,260.9 309.9,262.6 310.5,262.2 311.1,260.9 311.7,262.8 312.2,260.6 312.8,262.9 313.4,266.5 314.0,270.8 314.6,270.4 315.2,271.6 315.8,270.4 316.4,271.3 316.9,270.6 317.5,270.4 318.1,270.7 318.7,271.0 319.3,270.8 319.9,270.2 320.5,271.3 321.0,271.0 321.6,270.4 322.2,270.2 322.8,270.6 323.4,270.8 324.0,270.2 324.6,270.8 325.2,269.6 325.7,269.9 326.3,269.6 326.9,271.1 327.5,270.8 328.1,270.7 328.7,271.2 329.3,270.8 329.9,266.8 330.4,267.8 331.0,270.7 331.6,269.8 332.2,270.4 332.8,270.3 333.4,270.6 334.0,270.9 334.6,270.8 335.1,270.4 335.7,270.9 336.3,270.6 336.9,270.8 337.5,270.6 338.1,269.8 338.7,270.3 339.3,271.2 339.8,270.7 340.4,269.7 341.0,269.7 341.6,271.1 342.2,270.4 342.8,270.6 343.4,271.8 344.0,270.4 344.5,269.6 345.1,270.9 345.7,270.7 346.3,270.1" fill="none" stroke="#2a2ae8" stroke-width="0.75" stroke-linejoin="round"/>
<rect x="364.3" y="257.0" width="88.5" height="29.30000000000001" fill="#fff" stroke="#8e9aa0" stroke-width="0.8"/>
<text x="362.0" y="259.1" font-size="6" text-anchor="end" fill="#333" font-weight="normal" >4</text>
<text x="362.0" y="266.425" font-size="6" text-anchor="end" fill="#333" font-weight="normal" >2</text>
<text x="362.0" y="273.75" font-size="6" text-anchor="end" fill="#333" font-weight="normal" >0</text>
<text x="362.0" y="281.07500000000005" font-size="6" text-anchor="end" fill="#333" font-weight="normal" >-2</text>
<text x="362.0" y="288.40000000000003" font-size="6" text-anchor="end" fill="#333" font-weight="normal" >-4</text>
<text x="364.3" y="292.9" font-size="6" text-anchor="middle" fill="#333" font-weight="normal" >0.0</text>
<text x="393.8" y="292.9" font-size="6" text-anchor="middle" fill="#333" font-weight="normal" >0.5</text>
<text x="423.3" y="292.9" font-size="6" text-anchor="middle" fill="#333" font-weight="normal" >1.0</text>
<text x="452.8" y="292.9" font-size="6" text-anchor="middle" fill="#333" font-weight="normal" >1.5</text>
<line x1="364.3" y1="264.325" x2="452.8" y2="264.325" stroke="#f4f0b0" stroke-width="0.6"/>
<line x1="364.3" y1="278.97499999999997" x2="452.8" y2="278.97499999999997" stroke="#c8f0f0" stroke-width="0.6"/>
<polyline points="364.8,272.5 365.4,273.5 366.0,272.9 366.6,272.7 367.1,273.0 367.7,272.4 368.3,272.9 368.9,272.8 369.5,272.4 370.1,272.2 370.7,272.7 371.3,272.9 371.8,272.9 372.4,272.3 373.0,273.2 373.6,273.2 374.2,273.1 374.8,272.4 375.4,272.6 376.0,273.1 376.5,273.1 377.1,272.8 377.7,273.0 378.3,273.2 378.9,273.1 379.5,272.9 380.1,273.0 380.7,272.8 381.2,272.9 381.8,273.1 382.4,272.7 383.0,272.6 383.6,273.5 384.2,272.7 384.8,273.0 385.4,273.2 385.9,272.5 386.5,272.7 387.1,272.6 387.7,273.0 388.3,272.2 388.9,272.6 389.5,273.0 390.1,272.1 390.6,273.1 391.2,272.3 391.8,272.9 392.4,273.0 393.0,273.1 393.6,273.2 394.2,273.2 394.7,272.7 395.3,272.9 395.9,273.4 396.5,272.7 397.1,273.4 397.7,272.6 398.3,273.0 398.9,272.9 399.4,272.4 400.0,273.6 400.6,272.0 401.2,271.7 401.8,272.4 402.4,272.6 403.0,273.1 403.6,272.4 404.1,272.9 404.7,272.9 405.3,273.1 405.9,272.3 406.5,272.5 407.1,273.4 407.7,272.9 408.3,273.3 408.8,272.5 409.4,273.2 410.0,272.8 410.6,272.6 411.2,272.9 411.8,273.3 412.4,273.0 413.0,273.3 413.5,272.3 414.1,272.5 414.7,273.5 415.3,273.3 415.9,272.0 416.5,272.6 417.1,273.5 417.7,273.9 418.2,274.3 418.8,274.8 419.4,275.2 420.0,275.6 420.6,276.0 421.2,279.7 421.8,279.7 422.4,279.7 422.9,279.7 423.5,279.7 424.1,285.4 424.7,285.2 425.3,284.4 425.9,284.7 426.5,284.4 427.0,284.1 427.6,284.5 428.2,283.5 428.8,284.3 429.4,282.9 430.0,284.1 430.6,282.8 431.2,283.2 431.7,281.5 432.3,276.0 432.9,276.0 433.5,276.0 434.1,273.3 434.7,273.3 435.3,272.5 435.9,273.3 436.4,272.4 437.0,272.3 437.6,273.0 438.2,272.7 438.8,272.8 439.4,272.3 440.0,272.0 440.6,272.5 441.1,272.5 441.7,272.4 442.3,273.2 442.9,272.8 443.5,272.5 444.1,273.0 444.7,272.2 445.3,273.2 445.8,272.9 446.4,272.8 447.0,272.6 447.6,273.2 448.2,273.0 448.8,272.7 449.4,272.8 450.0,272.6 450.5,273.1 451.1,273.2 451.7,273.9 452.3,273.3" fill="none" stroke="#f03838" stroke-width="0.75" stroke-linejoin="round"/>
<polyline points="364.8,270.0 365.4,271.2 366.0,270.2 366.6,271.1 367.1,270.0 367.7,271.3 368.3,270.9 368.9,270.8 369.5,271.6 370.1,270.1 370.7,271.3 371.3,271.2 371.8,270.8 372.4,270.2 373.0,270.9 373.6,269.6 374.2,270.6 374.8,270.7 375.4,270.3 376.0,270.6 376.5,271.1 377.1,270.8 377.7,270.5 378.3,269.8 378.9,270.4 379.5,270.3 380.1,271.6 380.7,270.7 381.2,270.6 381.8,269.7 382.4,269.8 383.0,270.5 383.6,270.3 384.2,270.6 384.8,270.9 385.4,270.5 385.9,270.7 386.5,270.4 387.1,270.2 387.7,270.6 388.3,270.0 388.9,271.1 389.5,270.5 390.1,270.5 390.6,271.4 391.2,270.3 391.8,270.2 392.4,269.7 393.0,270.6 393.6,270.3 394.2,270.2 394.7,271.3 395.3,270.4 395.9,271.2 396.5,270.4 397.1,270.2 397.7,270.4 398.3,271.5 398.9,269.9 399.4,270.4 400.0,270.1 400.6,270.9 401.2,270.7 401.8,269.6 402.4,270.6 403.0,270.8 403.6,270.7 404.1,270.1 404.7,271.3 405.3,270.7 405.9,271.0 406.5,269.4 407.1,270.0 407.7,270.5 408.3,270.4 408.8,270.7 409.4,270.8 410.0,270.6 410.6,269.7 411.2,270.7 411.8,270.7 412.4,270.4 413.0,269.8 413.5,270.3 414.1,271.1 414.7,270.5 415.3,270.5 415.9,271.2 416.5,270.9 417.1,269.5 417.7,268.5 418.2,267.5 418.8,266.5 419.4,265.5 420.0,264.6 420.6,263.6 421.2,263.2 421.8,263.2 422.4,263.2 422.9,263.2 423.5,263.2 424.1,259.7 424.7,260.7 425.3,259.7 425.9,258.5 426.5,259.8 427.0,258.5 427.6,258.6 428.2,259.3 428.8,258.7 429.4,258.5 430.0,260.6 430.6,257.8 431.2,260.9 431.7,259.1 432.3,268.0 432.9,268.0 433.5,268.0 434.1,270.6 434.7,270.5 435.3,269.9 435.9,269.9 436.4,267.6 437.0,267.6 437.6,270.8 438.2,270.1 438.8,271.0 439.4,270.7 440.0,271.1 440.6,269.9 441.1,270.7 441.7,270.1 442.3,271.1 442.9,270.4 443.5,270.1 444.1,270.5 444.7,270.4 445.3,270.4 445.8,270.5 446.4,270.7 447.0,270.9 447.6,270.0 448.2,270.5 448.8,270.5 449.4,270.3 450.0,271.1 450.5,271.2 451.1,271.1 451.7,269.6 452.3,270.6" fill="none" stroke="#2a2ae8" stroke-width="0.75" stroke-linejoin="round"/>
<text x="0" y="0" font-size="8.3" text-anchor="middle" fill="#333" transform="translate(33.8,271.5) rotate(-90)">Friction</text>
<text x="0" y="0" font-size="8.3" text-anchor="middle" fill="#333" transform="translate(43.6,271.5) rotate(-90)">force (nN)</text>
<text x="257" y="307.6" font-size="12" text-anchor="middle" fill="#222" font-weight="normal" >Scan length (μm)</text>
<text x="4.6" y="331.2" font-size="15" font-weight="bold" fill="#111">(c)</text>
<text x="113.2" y="331.5" font-size="13" text-anchor="middle" fill="#222" font-weight="normal" >Topographic image</text>
<clipPath id="ctopo"><rect x="46.8" y="337.8" width="129.6" height="129.6"/></clipPath>
<rect x="46.8" y="337.8" width="129.6" height="129.6" fill="#962a5c" filter="url(#mag)"/>
<clipPath id="cfl"><path d="M56.7,354.7 C57.5,351.5 59,350 60.9,349.6 L69.3,347.7 L100.3,346.8 L128.5,346.3 L162.3,346.3 L165.1,347.7 L167.9,357.5 L169.3,366 L165.1,382.9 L160.9,405.4 L155.2,427.9 L152.4,447.6 L151,468 L107.4,468 L97.5,453.3 L86.2,430.8 L77.8,411 L69.3,388.5 L63.7,374.4 L58.1,361.8 Z"/></clipPath>
<g clip-path="url(#ctopo)"><rect x="46.8" y="337.8" width="129.6" height="129.6" fill="#c47a12" filter="url(#org)" clip-path="url(#cfl)"/></g>
<rect x="63.1" y="352.7" width="26.5" height="26.5" fill="none" stroke="#f8e4b8" stroke-width="0.9" stroke-dasharray="2.2 1.6"/>
<rect x="94.1" y="352.7" width="27.3" height="26.5" fill="none" stroke="#f8e4b8" stroke-width="0.9" stroke-dasharray="2.2 1.6"/>
<rect x="129.9" y="350.5" width="26.7" height="25.3" fill="none" stroke="#f8e4b8" stroke-width="0.9" stroke-dasharray="2.2 1.6"/>
<rect x="115.8" y="383.4" width="26.8" height="26.2" fill="none" stroke="#f8e4b8" stroke-width="0.9" stroke-dasharray="2.2 1.6"/>
<text x="49" y="388.5" font-size="10" text-anchor="start" fill="#fff3e0" font-weight="normal" >800 nN</text>
<text x="89" y="347.7" font-size="10" text-anchor="start" fill="#fff3e0" font-weight="normal" >1200 nN</text>
<text x="135.5" y="347.7" font-size="10" text-anchor="start" fill="#fff3e0" font-weight="normal" >1000 nN</text>
<text x="113.8" y="420.9" font-size="10" text-anchor="start" fill="#fff3e0" font-weight="normal" >500 nN</text>
<rect x="51" y="458.2" width="26.2" height="2.7" fill="#fff"/>
<text x="256.4" y="331.2" font-size="13" text-anchor="middle" fill="#222" font-weight="normal" >FFM image</text>
<rect x="192.8" y="337.8" width="129.6" height="129.6" fill="#c8c8c8" filter="url(#lgr)"/>
<path d="M205.5,357.5 C205.5,355 207,353.5 209.7,352.5 L218.2,349.6 L246.3,346.8 L274.5,344.9 L309.7,342.9 L311.1,342.9 L315.3,351.9 L318.1,363.2 L315.3,377.2 L312.5,391.3 L308.3,416.7 L302.6,439.2 L298.4,458.9 L297,467.4 L257.6,467.4 L246.3,447.6 L232.2,422.3 L221,399.8 L213.9,384.3 L211.1,382.9 L208.3,371.6 Z" fill="#0d0d0d"/>
<line x1="246.3" y1="369.5" x2="246.3" y2="373.5" stroke="#ccc" stroke-width="1.3"/><line x1="263.8" y1="368" x2="263.8" y2="372.5" stroke="#ccc" stroke-width="1.3"/>
<rect x="198.4" y="457.6" width="26.8" height="2.8" fill="#000"/>
<text x="402.3" y="331" font-size="13" text-anchor="middle" fill="#222"><tspan font-family="Liberation Serif" font-style="italic" font-size="13.5">E</tspan><tspan font-family="Liberation Serif" font-size="9.5" dy="2">2g</tspan><tspan dy="-2"> peak intensity</tspan></text>
<clipPath id="cram"><rect x="339.4" y="337.4" width="129.0" height="129.5"/></clipPath>
<rect x="339.4" y="337.4" width="129.0" height="129.5" fill="#1c0300"/>
<g clip-path="url(#cram)"><g filter="url(#bl)" shape-rendering="crispEdges"><rect x="339.4" y="337.4" width="4.6" height="4.6" fill="#340700"/><rect x="343.4" y="337.4" width="4.6" height="4.6" fill="#290500"/><rect x="347.5" y="337.4" width="4.6" height="4.6" fill="#280500"/><rect x="351.5" y="337.4" width="4.6" height="4.6" fill="#370700"/><rect x="355.5" y="337.4" width="4.6" height="4.6" fill="#370700"/><rect x="359.6" y="337.4" width="4.6" height="4.6" fill="#3b0800"/><rect x="363.6" y="337.4" width="4.6" height="4.6" fill="#280500"/><rect x="367.6" y="337.4" width="4.6" height="4.6" fill="#2a0500"/><rect x="371.6" y="337.4" width="4.6" height="4.6" fill="#280500"/><rect x="375.7" y="337.4" width="4.6" height="4.6" fill="#2a0500"/><rect x="379.7" y="337.4" width="4.6" height="4.6" fill="#360700"/><rect x="383.7" y="337.4" width="4.6" height="4.6" fill="#320600"/><rect x="387.8" y="337.4" width="4.6" height="4.6" fill="#2c0500"/><rect x="391.8" y="337.4" width="4.6" height="4.6" fill="#3c0800"/><rect x="395.8" y="337.4" width="4.6" height="4.6" fill="#2a0500"/><rect x="399.9" y="337.4" width="4.6" height="4.6" fill="#290500"/><rect x="403.9" y="337.4" width="4.6" height="4.6" fill="#270500"/><rect x="407.9" y="337.4" width="4.6" height="4.6" fill="#270500"/><rect x="412.0" y="337.4" width="4.6" height="4.6" fill="#270500"/><rect x="416.0" y="337.4" width="4.6" height="4.6" fill="#3d0800"/><rect x="420.0" y="337.4" width="4.6" height="4.6" fill="#370700"/><rect x="424.1" y="337.4" width="4.6" height="4.6" fill="#390800"/><rect x="428.1" y="337.4" width="4.6" height="4.6" fill="#2f0600"/><rect x="432.1" y="337.4" width="4.6" height="4.6" fill="#270500"/><rect x="436.1" y="337.4" width="4.6" height="4.6" fill="#3c0800"/><rect x="440.2" y="337.4" width="4.6" height="4.6" fill="#2f0600"/><rect x="444.2" y="337.4" width="4.6" height="4.6" fill="#340700"/><rect x="448.2" y="337.4" width="4.6" height="4.6" fill="#2f0600"/><rect x="452.3" y="337.4" width="4.6" height="4.6" fill="#270500"/><rect x="456.3" y="337.4" width="4.6" height="4.6" fill="#2c0500"/><rect x="460.3" y="337.4" width="4.6" height="4.6" fill="#2e0600"/><rect x="464.4" y="337.4" width="4.6" height="4.6" fill="#3f0900"/><rect x="339.4" y="341.4" width="4.6" height="4.6" fill="#2e0600"/><rect x="343.4" y="341.4" width="4.6" height="4.6" fill="#350700"/><rect x="347.5" y="341.4" width="4.6" height="4.6" fill="#3e0900"/><rect x="351.5" y="341.4" width="4.6" height="4.6" fill="#2a0500"/><rect x="355.5" y="341.4" width="4.6" height="4.6" fill="#280500"/><rect x="359.6" y="341.4" width="4.6" height="4.6" fill="#300600"/><rect x="363.6" y="341.4" width="4.6" height="4.6" fill="#3f0900"/><rect x="367.6" y="341.4" width="4.6" height="4.6" fill="#3b0800"/><rect x="371.6" y="341.4" width="4.6" height="4.6" fill="#270500"/><rect x="375.7" y="341.4" width="4.6" height="4.6" fill="#300600"/><rect x="379.7" y="341.4" width="4.6" height="4.6" fill="#2a0500"/><rect x="383.7" y="341.4" width="4.6" height="4.6" fill="#2c0500"/><rect x="387.8" y="341.4" width="4.6" height="4.6" fill="#290500"/><rect x="391.8" y="341.4" width="4.6" height="4.6" fill="#2d0600"/><rect x="395.8" y="341.4" width="4.6" height="4.6" fill="#2a0500"/><rect x="399.9" y="341.4" width="4.6" height="4.6" fill="#2f0600"/><rect x="403.9" y="341.4" width="4.6" height="4.6" fill="#300600"/><rect x="407.9" y="341.4" width="4.6" height="4.6" fill="#2b0500"/><rect x="412.0" y="341.4" width="4.6" height="4.6" fill="#360700"/><rect x="416.0" y="341.4" width="4.6" height="4.6" fill="#400900"/><rect x="420.0" y="341.4" width="4.6" height="4.6" fill="#2d0500"/><rect x="424.1" y="341.4" width="4.6" height="4.6" fill="#350700"/><rect x="428.1" y="341.4" width="4.6" height="4.6" fill="#310600"/><rect x="432.1" y="341.4" width="4.6" height="4.6" fill="#290500"/><rect x="436.1" y="341.4" width="4.6" height="4.6" fill="#270500"/><rect x="440.2" y="341.4" width="4.6" height="4.6" fill="#340700"/><rect x="444.2" y="341.4" width="4.6" height="4.6" fill="#310600"/><rect x="448.2" y="341.4" width="4.6" height="4.6" fill="#390800"/><rect x="452.3" y="341.4" width="4.6" height="4.6" fill="#2d0500"/><rect x="456.3" y="341.4" width="4.6" height="4.6" fill="#2a0500"/><rect x="460.3" y="341.4" width="4.6" height="4.6" fill="#3f0900"/><rect x="464.4" y="341.4" width="4.6" height="4.6" fill="#3a0800"/><rect x="339.4" y="345.5" width="4.6" height="4.6" fill="#280500"/><rect x="343.4" y="345.5" width="4.6" height="4.6" fill="#2e0600"/><rect x="347.5" y="345.5" width="4.6" height="4.6" fill="#721700"/><rect x="351.5" y="345.5" width="4.6" height="4.6" fill="#791900"/><rect x="355.5" y="345.5" width="4.6" height="4.6" fill="#741800"/><rect x="359.6" y="345.5" width="4.6" height="4.6" fill="#7d1a00"/><rect x="363.6" y="345.5" width="4.6" height="4.6" fill="#711700"/><rect x="367.6" y="345.5" width="4.6" height="4.6" fill="#560e00"/><rect x="371.6" y="345.5" width="4.6" height="4.6" fill="#5f1100"/><rect x="375.7" y="345.5" width="4.6" height="4.6" fill="#4d0b00"/><rect x="379.7" y="345.5" width="4.6" height="4.6" fill="#7b1a00"/><rect x="383.7" y="345.5" width="4.6" height="4.6" fill="#6f1600"/><rect x="387.8" y="345.5" width="4.6" height="4.6" fill="#701600"/><rect x="391.8" y="345.5" width="4.6" height="4.6" fill="#6e1600"/><rect x="395.8" y="345.5" width="4.6" height="4.6" fill="#8e2000"/><rect x="399.9" y="345.5" width="4.6" height="4.6" fill="#741700"/><rect x="403.9" y="345.5" width="4.6" height="4.6" fill="#771900"/><rect x="407.9" y="345.5" width="4.6" height="4.6" fill="#881e00"/><rect x="412.0" y="345.5" width="4.6" height="4.6" fill="#8c1f00"/><rect x="416.0" y="345.5" width="4.6" height="4.6" fill="#751800"/><rect x="420.0" y="345.5" width="4.6" height="4.6" fill="#681400"/><rect x="424.1" y="345.5" width="4.6" height="4.6" fill="#6b1500"/><rect x="428.1" y="345.5" width="4.6" height="4.6" fill="#6e1500"/><rect x="432.1" y="345.5" width="4.6" height="4.6" fill="#771800"/><rect x="436.1" y="345.5" width="4.6" height="4.6" fill="#7b1a00"/><rect x="440.2" y="345.5" width="4.6" height="4.6" fill="#631200"/><rect x="444.2" y="345.5" width="4.6" height="4.6" fill="#671300"/><rect x="448.2" y="345.5" width="4.6" height="4.6" fill="#4b0b00"/><rect x="452.3" y="345.5" width="4.6" height="4.6" fill="#500c00"/><rect x="456.3" y="345.5" width="4.6" height="4.6" fill="#280500"/><rect x="460.3" y="345.5" width="4.6" height="4.6" fill="#310600"/><rect x="464.4" y="345.5" width="4.6" height="4.6" fill="#330700"/><rect x="339.4" y="349.5" width="4.6" height="4.6" fill="#2a0500"/><rect x="343.4" y="349.5" width="4.6" height="4.6" fill="#3e0800"/><rect x="347.5" y="349.5" width="4.6" height="4.6" fill="#942200"/><rect x="351.5" y="349.5" width="4.6" height="4.6" fill="#c94e09"/><rect x="355.5" y="349.5" width="4.6" height="4.6" fill="#f2a02a"/><rect x="359.6" y="349.5" width="4.6" height="4.6" fill="#de6610"/><rect x="363.6" y="349.5" width="4.6" height="4.6" fill="#dd630e"/><rect x="367.6" y="349.5" width="4.6" height="4.6" fill="#f19e29"/><rect x="371.6" y="349.5" width="4.6" height="4.6" fill="#e9841e"/><rect x="375.7" y="349.5" width="4.6" height="4.6" fill="#de6610"/><rect x="379.7" y="349.5" width="4.6" height="4.6" fill="#f4a932"/><rect x="383.7" y="349.5" width="4.6" height="4.6" fill="#e67c1a"/><rect x="387.8" y="349.5" width="4.6" height="4.6" fill="#de650f"/><rect x="391.8" y="349.5" width="4.6" height="4.6" fill="#eb8c21"/><rect x="395.8" y="349.5" width="4.6" height="4.6" fill="#ee9425"/><rect x="399.9" y="349.5" width="4.6" height="4.6" fill="#d1560b"/><rect x="403.9" y="349.5" width="4.6" height="4.6" fill="#eb8b21"/><rect x="407.9" y="349.5" width="4.6" height="4.6" fill="#eb8b21"/><rect x="412.0" y="349.5" width="4.6" height="4.6" fill="#f3a42c"/><rect x="416.0" y="349.5" width="4.6" height="4.6" fill="#e37517"/><rect x="420.0" y="349.5" width="4.6" height="4.6" fill="#ef9626"/><rect x="424.1" y="349.5" width="4.6" height="4.6" fill="#c84d09"/><rect x="428.1" y="349.5" width="4.6" height="4.6" fill="#f4a62f"/><rect x="432.1" y="349.5" width="4.6" height="4.6" fill="#ec8d22"/><rect x="436.1" y="349.5" width="4.6" height="4.6" fill="#e47818"/><rect x="440.2" y="349.5" width="4.6" height="4.6" fill="#ec8f23"/><rect x="444.2" y="349.5" width="4.6" height="4.6" fill="#ee9425"/><rect x="448.2" y="349.5" width="4.6" height="4.6" fill="#d3580c"/><rect x="452.3" y="349.5" width="4.6" height="4.6" fill="#741700"/><rect x="456.3" y="349.5" width="4.6" height="4.6" fill="#270500"/><rect x="460.3" y="349.5" width="4.6" height="4.6" fill="#350700"/><rect x="464.4" y="349.5" width="4.6" height="4.6" fill="#270500"/><rect x="339.4" y="353.6" width="4.6" height="4.6" fill="#3a0800"/><rect x="343.4" y="353.6" width="4.6" height="4.6" fill="#3a0800"/><rect x="347.5" y="353.6" width="4.6" height="4.6" fill="#a52800"/><rect x="351.5" y="353.6" width="4.6" height="4.6" fill="#f3a42c"/><rect x="355.5" y="353.6" width="4.6" height="4.6" fill="#f4a72f"/><rect x="359.6" y="353.6" width="4.6" height="4.6" fill="#ed9124"/><rect x="363.6" y="353.6" width="4.6" height="4.6" fill="#e27115"/><rect x="367.6" y="353.6" width="4.6" height="4.6" fill="#e67d1a"/><rect x="371.6" y="353.6" width="4.6" height="4.6" fill="#f09a28"/><rect x="375.7" y="353.6" width="4.6" height="4.6" fill="#fbcd60"/><rect x="379.7" y="353.6" width="4.6" height="4.6" fill="#f3a22b"/><rect x="383.7" y="353.6" width="4.6" height="4.6" fill="#e57a19"/><rect x="387.8" y="353.6" width="4.6" height="4.6" fill="#f6b541"/><rect x="391.8" y="353.6" width="4.6" height="4.6" fill="#e7801c"/><rect x="395.8" y="353.6" width="4.6" height="4.6" fill="#fbcd60"/><rect x="399.9" y="353.6" width="4.6" height="4.6" fill="#ef9726"/><rect x="403.9" y="353.6" width="4.6" height="4.6" fill="#bd4106"/><rect x="407.9" y="353.6" width="4.6" height="4.6" fill="#e9861e"/><rect x="412.0" y="353.6" width="4.6" height="4.6" fill="#e9851e"/><rect x="416.0" y="353.6" width="4.6" height="4.6" fill="#d95f0d"/><rect x="420.0" y="353.6" width="4.6" height="4.6" fill="#e16d13"/><rect x="424.1" y="353.6" width="4.6" height="4.6" fill="#d4590c"/><rect x="428.1" y="353.6" width="4.6" height="4.6" fill="#e8841d"/><rect x="432.1" y="353.6" width="4.6" height="4.6" fill="#ef9827"/><rect x="436.1" y="353.6" width="4.6" height="4.6" fill="#e9861f"/><rect x="440.2" y="353.6" width="4.6" height="4.6" fill="#ee9525"/><rect x="444.2" y="353.6" width="4.6" height="4.6" fill="#ec8e22"/><rect x="448.2" y="353.6" width="4.6" height="4.6" fill="#f9c657"/><rect x="452.3" y="353.6" width="4.6" height="4.6" fill="#b93d05"/><rect x="456.3" y="353.6" width="4.6" height="4.6" fill="#2a0500"/><rect x="460.3" y="353.6" width="4.6" height="4.6" fill="#290500"/><rect x="464.4" y="353.6" width="4.6" height="4.6" fill="#270500"/><rect x="339.4" y="357.6" width="4.6" height="4.6" fill="#370700"/><rect x="343.4" y="357.6" width="4.6" height="4.6" fill="#370700"/><rect x="347.5" y="357.6" width="4.6" height="4.6" fill="#711700"/><rect x="351.5" y="357.6" width="4.6" height="4.6" fill="#ea8920"/><rect x="355.5" y="357.6" width="4.6" height="4.6" fill="#e27115"/><rect x="359.6" y="357.6" width="4.6" height="4.6" fill="#e57b19"/><rect x="363.6" y="357.6" width="4.6" height="4.6" fill="#e16d13"/><rect x="367.6" y="357.6" width="4.6" height="4.6" fill="#e77f1b"/><rect x="371.6" y="357.6" width="4.6" height="4.6" fill="#dd630e"/><rect x="375.7" y="357.6" width="4.6" height="4.6" fill="#f6b23e"/><rect x="379.7" y="357.6" width="4.6" height="4.6" fill="#ed9324"/><rect x="383.7" y="357.6" width="4.6" height="4.6" fill="#f4a62e"/><rect x="387.8" y="357.6" width="4.6" height="4.6" fill="#facc5e"/><rect x="391.8" y="357.6" width="4.6" height="4.6" fill="#e57b19"/><rect x="395.8" y="357.6" width="4.6" height="4.6" fill="#ea881f"/><rect x="399.9" y="357.6" width="4.6" height="4.6" fill="#ee9626"/><rect x="403.9" y="357.6" width="4.6" height="4.6" fill="#e47818"/><rect x="407.9" y="357.6" width="4.6" height="4.6" fill="#f19c29"/><rect x="412.0" y="357.6" width="4.6" height="4.6" fill="#ef9827"/><rect x="416.0" y="357.6" width="4.6" height="4.6" fill="#e06a12"/><rect x="420.0" y="357.6" width="4.6" height="4.6" fill="#e57a19"/><rect x="424.1" y="357.6" width="4.6" height="4.6" fill="#f7b946"/><rect x="428.1" y="357.6" width="4.6" height="4.6" fill="#f8c050"/><rect x="432.1" y="357.6" width="4.6" height="4.6" fill="#fac85a"/><rect x="436.1" y="357.6" width="4.6" height="4.6" fill="#f3a22c"/><rect x="440.2" y="357.6" width="4.6" height="4.6" fill="#f09927"/><rect x="444.2" y="357.6" width="4.6" height="4.6" fill="#da600e"/><rect x="448.2" y="357.6" width="4.6" height="4.6" fill="#f09a28"/><rect x="452.3" y="357.6" width="4.6" height="4.6" fill="#8b1f00"/><rect x="456.3" y="357.6" width="4.6" height="4.6" fill="#280500"/><rect x="460.3" y="357.6" width="4.6" height="4.6" fill="#300600"/><rect x="464.4" y="357.6" width="4.6" height="4.6" fill="#290500"/><rect x="339.4" y="361.7" width="4.6" height="4.6" fill="#380700"/><rect x="343.4" y="361.7" width="4.6" height="4.6" fill="#3e0800"/><rect x="347.5" y="361.7" width="4.6" height="4.6" fill="#520c00"/><rect x="351.5" y="361.7" width="4.6" height="4.6" fill="#b13403"/><rect x="355.5" y="361.7" width="4.6" height="4.6" fill="#e57918"/><rect x="359.6" y="361.7" width="4.6" height="4.6" fill="#e9841e"/><rect x="363.6" y="361.7" width="4.6" height="4.6" fill="#fcd569"/><rect x="367.6" y="361.7" width="4.6" height="4.6" fill="#e37517"/><rect x="371.6" y="361.7" width="4.6" height="4.6" fill="#ee9525"/><rect x="375.7" y="361.7" width="4.6" height="4.6" fill="#f3a32c"/><rect x="379.7" y="361.7" width="4.6" height="4.6" fill="#d85e0d"/><rect x="383.7" y="361.7" width="4.6" height="4.6" fill="#e57918"/><rect x="387.8" y="361.7" width="4.6" height="4.6" fill="#dc620e"/><rect x="391.8" y="361.7" width="4.6" height="4.6" fill="#e7801c"/><rect x="395.8" y="361.7" width="4.6" height="4.6" fill="#f5ad37"/><rect x="399.9" y="361.7" width="4.6" height="4.6" fill="#e47718"/><rect x="403.9" y="361.7" width="4.6" height="4.6" fill="#d85e0d"/><rect x="407.9" y="361.7" width="4.6" height="4.6" fill="#d4590c"/><rect x="412.0" y="361.7" width="4.6" height="4.6" fill="#e77f1b"/><rect x="416.0" y="361.7" width="4.6" height="4.6" fill="#e67d1a"/><rect x="420.0" y="361.7" width="4.6" height="4.6" fill="#fbd063"/><rect x="424.1" y="361.7" width="4.6" height="4.6" fill="#f19d29"/><rect x="428.1" y="361.7" width="4.6" height="4.6" fill="#ffe47d"/><rect x="432.1" y="361.7" width="4.6" height="4.6" fill="#f4aa34"/><rect x="436.1" y="361.7" width="4.6" height="4.6" fill="#f4a52d"/><rect x="440.2" y="361.7" width="4.6" height="4.6" fill="#ec8f22"/><rect x="444.2" y="361.7" width="4.6" height="4.6" fill="#f29f2a"/><rect x="448.2" y="361.7" width="4.6" height="4.6" fill="#f7b643"/><rect x="452.3" y="361.7" width="4.6" height="4.6" fill="#8b1f00"/><rect x="456.3" y="361.7" width="4.6" height="4.6" fill="#3f0900"/><rect x="460.3" y="361.7" width="4.6" height="4.6" fill="#2b0500"/><rect x="464.4" y="361.7" width="4.6" height="4.6" fill="#2c0500"/><rect x="339.4" y="365.7" width="4.6" height="4.6" fill="#390800"/><rect x="343.4" y="365.7" width="4.6" height="4.6" fill="#290500"/><rect x="347.5" y="365.7" width="4.6" height="4.6" fill="#400900"/><rect x="351.5" y="365.7" width="4.6" height="4.6" fill="#ac3002"/><rect x="355.5" y="365.7" width="4.6" height="4.6" fill="#f4a52d"/><rect x="359.6" y="365.7" width="4.6" height="4.6" fill="#ef9827"/><rect x="363.6" y="365.7" width="4.6" height="4.6" fill="#ea881f"/><rect x="367.6" y="365.7" width="4.6" height="4.6" fill="#e27014"/><rect x="371.6" y="365.7" width="4.6" height="4.6" fill="#fcd76c"/><rect x="375.7" y="365.7" width="4.6" height="4.6" fill="#f2a12b"/><rect x="379.7" y="365.7" width="4.6" height="4.6" fill="#f5ab34"/><rect x="383.7" y="365.7" width="4.6" height="4.6" fill="#f4a52e"/><rect x="387.8" y="365.7" width="4.6" height="4.6" fill="#df6811"/><rect x="391.8" y="365.7" width="4.6" height="4.6" fill="#e06a12"/><rect x="395.8" y="365.7" width="4.6" height="4.6" fill="#f6b441"/><rect x="399.9" y="365.7" width="4.6" height="4.6" fill="#d85e0d"/><rect x="403.9" y="365.7" width="4.6" height="4.6" fill="#ed9023"/><rect x="407.9" y="365.7" width="4.6" height="4.6" fill="#df6810"/><rect x="412.0" y="365.7" width="4.6" height="4.6" fill="#ec9023"/><rect x="416.0" y="365.7" width="4.6" height="4.6" fill="#ed9123"/><rect x="420.0" y="365.7" width="4.6" height="4.6" fill="#fcd368"/><rect x="424.1" y="365.7" width="4.6" height="4.6" fill="#ea8920"/><rect x="428.1" y="365.7" width="4.6" height="4.6" fill="#ef9726"/><rect x="432.1" y="365.7" width="4.6" height="4.6" fill="#facb5d"/><rect x="436.1" y="365.7" width="4.6" height="4.6" fill="#f4a52d"/><rect x="440.2" y="365.7" width="4.6" height="4.6" fill="#f6b33f"/><rect x="444.2" y="365.7" width="4.6" height="4.6" fill="#e27215"/><rect x="448.2" y="365.7" width="4.6" height="4.6" fill="#f09927"/><rect x="452.3" y="365.7" width="4.6" height="4.6" fill="#781900"/><rect x="456.3" y="365.7" width="4.6" height="4.6" fill="#270500"/><rect x="460.3" y="365.7" width="4.6" height="4.6" fill="#3b0800"/><rect x="464.4" y="365.7" width="4.6" height="4.6" fill="#2a0500"/><rect x="339.4" y="369.8" width="4.6" height="4.6" fill="#280500"/><rect x="343.4" y="369.8" width="4.6" height="4.6" fill="#300600"/><rect x="347.5" y="369.8" width="4.6" height="4.6" fill="#360700"/><rect x="351.5" y="369.8" width="4.6" height="4.6" fill="#b93d05"/><rect x="355.5" y="369.8" width="4.6" height="4.6" fill="#eb8c21"/><rect x="359.6" y="369.8" width="4.6" height="4.6" fill="#e16e13"/><rect x="363.6" y="369.8" width="4.6" height="4.6" fill="#f5ad38"/><rect x="367.6" y="369.8" width="4.6" height="4.6" fill="#f2a02a"/><rect x="371.6" y="369.8" width="4.6" height="4.6" fill="#ec8f22"/><rect x="375.7" y="369.8" width="4.6" height="4.6" fill="#f7b846"/><rect x="379.7" y="369.8" width="4.6" height="4.6" fill="#fbd165"/><rect x="383.7" y="369.8" width="4.6" height="4.6" fill="#facb5d"/><rect x="387.8" y="369.8" width="4.6" height="4.6" fill="#ed9224"/><rect x="391.8" y="369.8" width="4.6" height="4.6" fill="#df6811"/><rect x="395.8" y="369.8" width="4.6" height="4.6" fill="#e7801b"/><rect x="399.9" y="369.8" width="4.6" height="4.6" fill="#d3590c"/><rect x="403.9" y="369.8" width="4.6" height="4.6" fill="#f19e29"/><rect x="407.9" y="369.8" width="4.6" height="4.6" fill="#e06911"/><rect x="412.0" y="369.8" width="4.6" height="4.6" fill="#dd620e"/><rect x="416.0" y="369.8" width="4.6" height="4.6" fill="#db600e"/><rect x="420.0" y="369.8" width="4.6" height="4.6" fill="#ffe47d"/><rect x="424.1" y="369.8" width="4.6" height="4.6" fill="#f5ae39"/><rect x="428.1" y="369.8" width="4.6" height="4.6" fill="#ef9827"/><rect x="432.1" y="369.8" width="4.6" height="4.6" fill="#fdda71"/><rect x="436.1" y="369.8" width="4.6" height="4.6" fill="#fbd063"/><rect x="440.2" y="369.8" width="4.6" height="4.6" fill="#f8c151"/><rect x="444.2" y="369.8" width="4.6" height="4.6" fill="#f6b23e"/><rect x="448.2" y="369.8" width="4.6" height="4.6" fill="#ea881f"/><rect x="452.3" y="369.8" width="4.6" height="4.6" fill="#861d00"/><rect x="456.3" y="369.8" width="4.6" height="4.6" fill="#300600"/><rect x="460.3" y="369.8" width="4.6" height="4.6" fill="#310600"/><rect x="464.4" y="369.8" width="4.6" height="4.6" fill="#2c0500"/><rect x="339.4" y="373.8" width="4.6" height="4.6" fill="#280500"/><rect x="343.4" y="373.8" width="4.6" height="4.6" fill="#3b0800"/><rect x="347.5" y="373.8" width="4.6" height="4.6" fill="#2a0500"/><rect x="351.5" y="373.8" width="4.6" height="4.6" fill="#811c00"/><rect x="355.5" y="373.8" width="4.6" height="4.6" fill="#f29f2a"/><rect x="359.6" y="373.8" width="4.6" height="4.6" fill="#d85d0d"/><rect x="363.6" y="373.8" width="4.6" height="4.6" fill="#f09a28"/><rect x="367.6" y="373.8" width="4.6" height="4.6" fill="#f5ae38"/><rect x="371.6" y="373.8" width="4.6" height="4.6" fill="#f4a52d"/><rect x="375.7" y="373.8" width="4.6" height="4.6" fill="#f6b340"/><rect x="379.7" y="373.8" width="4.6" height="4.6" fill="#fcd66c"/><rect x="383.7" y="373.8" width="4.6" height="4.6" fill="#f7bb49"/><rect x="387.8" y="373.8" width="4.6" height="4.6" fill="#ca4e09"/><rect x="391.8" y="373.8" width="4.6" height="4.6" fill="#fbce61"/><rect x="395.8" y="373.8" width="4.6" height="4.6" fill="#e06a11"/><rect x="399.9" y="373.8" width="4.6" height="4.6" fill="#ec8e22"/><rect x="403.9" y="373.8" width="4.6" height="4.6" fill="#e67c1a"/><rect x="407.9" y="373.8" width="4.6" height="4.6" fill="#e67c1a"/><rect x="412.0" y="373.8" width="4.6" height="4.6" fill="#ec8f23"/><rect x="416.0" y="373.8" width="4.6" height="4.6" fill="#c64b08"/><rect x="420.0" y="373.8" width="4.6" height="4.6" fill="#d1560b"/><rect x="424.1" y="373.8" width="4.6" height="4.6" fill="#eb8c21"/><rect x="428.1" y="373.8" width="4.6" height="4.6" fill="#ed9224"/><rect x="432.1" y="373.8" width="4.6" height="4.6" fill="#f5ab34"/><rect x="436.1" y="373.8" width="4.6" height="4.6" fill="#f7b845"/><rect x="440.2" y="373.8" width="4.6" height="4.6" fill="#f6b13c"/><rect x="444.2" y="373.8" width="4.6" height="4.6" fill="#f6b541"/><rect x="448.2" y="373.8" width="4.6" height="4.6" fill="#e8811c"/><rect x="452.3" y="373.8" width="4.6" height="4.6" fill="#711700"/><rect x="456.3" y="373.8" width="4.6" height="4.6" fill="#310600"/><rect x="460.3" y="373.8" width="4.6" height="4.6" fill="#290500"/><rect x="464.4" y="373.8" width="4.6" height="4.6" fill="#2b0500"/><rect x="339.4" y="377.9" width="4.6" height="4.6" fill="#330700"/><rect x="343.4" y="377.9" width="4.6" height="4.6" fill="#2e0600"/><rect x="347.5" y="377.9" width="4.6" height="4.6" fill="#270500"/><rect x="351.5" y="377.9" width="4.6" height="4.6" fill="#7d1b00"/><rect x="355.5" y="377.9" width="4.6" height="4.6" fill="#db610e"/><rect x="359.6" y="377.9" width="4.6" height="4.6" fill="#e57918"/><rect x="363.6" y="377.9" width="4.6" height="4.6" fill="#e7801c"/><rect x="367.6" y="377.9" width="4.6" height="4.6" fill="#f4a62f"/><rect x="371.6" y="377.9" width="4.6" height="4.6" fill="#e7811c"/><rect x="375.7" y="377.9" width="4.6" height="4.6" fill="#e37516"/><rect x="379.7" y="377.9" width="4.6" height="4.6" fill="#f09a28"/><rect x="383.7" y="377.9" width="4.6" height="4.6" fill="#de6610"/><rect x="387.8" y="377.9" width="4.6" height="4.6" fill="#d65b0c"/><rect x="391.8" y="377.9" width="4.6" height="4.6" fill="#e16e13"/><rect x="395.8" y="377.9" width="4.6" height="4.6" fill="#f6b541"/><rect x="399.9" y="377.9" width="4.6" height="4.6" fill="#d1560b"/><rect x="403.9" y="377.9" width="4.6" height="4.6" fill="#e37416"/><rect x="407.9" y="377.9" width="4.6" height="4.6" fill="#f4a932"/><rect x="412.0" y="377.9" width="4.6" height="4.6" fill="#ec8e22"/><rect x="416.0" y="377.9" width="4.6" height="4.6" fill="#e27014"/><rect x="420.0" y="377.9" width="4.6" height="4.6" fill="#bb3f05"/><rect x="424.1" y="377.9" width="4.6" height="4.6" fill="#ba3e05"/><rect x="428.1" y="377.9" width="4.6" height="4.6" fill="#ef9827"/><rect x="432.1" y="377.9" width="4.6" height="4.6" fill="#d75d0d"/><rect x="436.1" y="377.9" width="4.6" height="4.6" fill="#df6811"/><rect x="440.2" y="377.9" width="4.6" height="4.6" fill="#f2a02a"/><rect x="444.2" y="377.9" width="4.6" height="4.6" fill="#f8bd4c"/><rect x="448.2" y="377.9" width="4.6" height="4.6" fill="#df6710"/><rect x="452.3" y="377.9" width="4.6" height="4.6" fill="#4f0b00"/><rect x="456.3" y="377.9" width="4.6" height="4.6" fill="#3c0800"/><rect x="460.3" y="377.9" width="4.6" height="4.6" fill="#2a0500"/><rect x="464.4" y="377.9" width="4.6" height="4.6" fill="#310600"/><rect x="339.4" y="381.9" width="4.6" height="4.6" fill="#290500"/><rect x="343.4" y="381.9" width="4.6" height="4.6" fill="#3b0800"/><rect x="347.5" y="381.9" width="4.6" height="4.6" fill="#330700"/><rect x="351.5" y="381.9" width="4.6" height="4.6" fill="#420900"/><rect x="355.5" y="381.9" width="4.6" height="4.6" fill="#a72a00"/><rect x="359.6" y="381.9" width="4.6" height="4.6" fill="#e67c1a"/><rect x="363.6" y="381.9" width="4.6" height="4.6" fill="#b33703"/><rect x="367.6" y="381.9" width="4.6" height="4.6" fill="#ed9023"/><rect x="371.6" y="381.9" width="4.6" height="4.6" fill="#f9c353"/><rect x="375.7" y="381.9" width="4.6" height="4.6" fill="#f6b03b"/><rect x="379.7" y="381.9" width="4.6" height="4.6" fill="#e06b12"/><rect x="383.7" y="381.9" width="4.6" height="4.6" fill="#eb8c21"/><rect x="387.8" y="381.9" width="4.6" height="4.6" fill="#d0550b"/><rect x="391.8" y="381.9" width="4.6" height="4.6" fill="#e37416"/><rect x="395.8" y="381.9" width="4.6" height="4.6" fill="#f2a12b"/><rect x="399.9" y="381.9" width="4.6" height="4.6" fill="#e37517"/><rect x="403.9" y="381.9" width="4.6" height="4.6" fill="#e7801c"/><rect x="407.9" y="381.9" width="4.6" height="4.6" fill="#e47617"/><rect x="412.0" y="381.9" width="4.6" height="4.6" fill="#eb8c21"/><rect x="416.0" y="381.9" width="4.6" height="4.6" fill="#e37316"/><rect x="420.0" y="381.9" width="4.6" height="4.6" fill="#a02600"/><rect x="424.1" y="381.9" width="4.6" height="4.6" fill="#de650f"/><rect x="428.1" y="381.9" width="4.6" height="4.6" fill="#e16d13"/><rect x="432.1" y="381.9" width="4.6" height="4.6" fill="#e77f1b"/><rect x="436.1" y="381.9" width="4.6" height="4.6" fill="#ef9726"/><rect x="440.2" y="381.9" width="4.6" height="4.6" fill="#f19d29"/><rect x="444.2" y="381.9" width="4.6" height="4.6" fill="#e27115"/><rect x="448.2" y="381.9" width="4.6" height="4.6" fill="#d4590c"/><rect x="452.3" y="381.9" width="4.6" height="4.6" fill="#480a00"/><rect x="456.3" y="381.9" width="4.6" height="4.6" fill="#2c0500"/><rect x="460.3" y="381.9" width="4.6" height="4.6" fill="#280500"/><rect x="464.4" y="381.9" width="4.6" height="4.6" fill="#300600"/><rect x="339.4" y="386.0" width="4.6" height="4.6" fill="#3d0800"/><rect x="343.4" y="386.0" width="4.6" height="4.6" fill="#280500"/><rect x="347.5" y="386.0" width="4.6" height="4.6" fill="#270500"/><rect x="351.5" y="386.0" width="4.6" height="4.6" fill="#3c0800"/><rect x="355.5" y="386.0" width="4.6" height="4.6" fill="#751800"/><rect x="359.6" y="386.0" width="4.6" height="4.6" fill="#dc620e"/><rect x="363.6" y="386.0" width="4.6" height="4.6" fill="#c54a08"/><rect x="367.6" y="386.0" width="4.6" height="4.6" fill="#ed9123"/><rect x="371.6" y="386.0" width="4.6" height="4.6" fill="#f8c150"/><rect x="375.7" y="386.0" width="4.6" height="4.6" fill="#eb8a20"/><rect x="379.7" y="386.0" width="4.6" height="4.6" fill="#f2a02a"/><rect x="383.7" y="386.0" width="4.6" height="4.6" fill="#db610e"/><rect x="387.8" y="386.0" width="4.6" height="4.6" fill="#e57b19"/><rect x="391.8" y="386.0" width="4.6" height="4.6" fill="#db610e"/><rect x="395.8" y="386.0" width="4.6" height="4.6" fill="#e8811c"/><rect x="399.9" y="386.0" width="4.6" height="4.6" fill="#ef9626"/><rect x="403.9" y="386.0" width="4.6" height="4.6" fill="#fdda70"/><rect x="407.9" y="386.0" width="4.6" height="4.6" fill="#ee9425"/><rect x="412.0" y="386.0" width="4.6" height="4.6" fill="#ed9224"/><rect x="416.0" y="386.0" width="4.6" height="4.6" fill="#b23603"/><rect x="420.0" y="386.0" width="4.6" height="4.6" fill="#d2570b"/><rect x="424.1" y="386.0" width="4.6" height="4.6" fill="#e77f1b"/><rect x="428.1" y="386.0" width="4.6" height="4.6" fill="#ef9827"/><rect x="432.1" y="386.0" width="4.6" height="4.6" fill="#f09927"/><rect x="436.1" y="386.0" width="4.6" height="4.6" fill="#e16f14"/><rect x="440.2" y="386.0" width="4.6" height="4.6" fill="#bc4006"/><rect x="444.2" y="386.0" width="4.6" height="4.6" fill="#ac3002"/><rect x="448.2" y="386.0" width="4.6" height="4.6" fill="#d75c0d"/><rect x="452.3" y="386.0" width="4.6" height="4.6" fill="#4f0b00"/><rect x="456.3" y="386.0" width="4.6" height="4.6" fill="#340700"/><rect x="460.3" y="386.0" width="4.6" height="4.6" fill="#2e0600"/><rect x="464.4" y="386.0" width="4.6" height="4.6" fill="#3e0800"/><rect x="339.4" y="390.0" width="4.6" height="4.6" fill="#270500"/><rect x="343.4" y="390.0" width="4.6" height="4.6" fill="#320600"/><rect x="347.5" y="390.0" width="4.6" height="4.6" fill="#3d0800"/><rect x="351.5" y="390.0" width="4.6" height="4.6" fill="#350700"/><rect x="355.5" y="390.0" width="4.6" height="4.6" fill="#280500"/><rect x="359.6" y="390.0" width="4.6" height="4.6" fill="#741700"/><rect x="363.6" y="390.0" width="4.6" height="4.6" fill="#c64b08"/><rect x="367.6" y="390.0" width="4.6" height="4.6" fill="#e9871f"/><rect x="371.6" y="390.0" width="4.6" height="4.6" fill="#eb8b21"/><rect x="375.7" y="390.0" width="4.6" height="4.6" fill="#c94d09"/><rect x="379.7" y="390.0" width="4.6" height="4.6" fill="#cb500a"/><rect x="383.7" y="390.0" width="4.6" height="4.6" fill="#d0550b"/><rect x="387.8" y="390.0" width="4.6" height="4.6" fill="#e16d13"/><rect x="391.8" y="390.0" width="4.6" height="4.6" fill="#ca4f09"/><rect x="395.8" y="390.0" width="4.6" height="4.6" fill="#eb8c21"/><rect x="399.9" y="390.0" width="4.6" height="4.6" fill="#e8841d"/><rect x="403.9" y="390.0" width="4.6" height="4.6" fill="#b13403"/><rect x="407.9" y="390.0" width="4.6" height="4.6" fill="#dd630e"/><rect x="412.0" y="390.0" width="4.6" height="4.6" fill="#b93e05"/><rect x="416.0" y="390.0" width="4.6" height="4.6" fill="#c84d09"/><rect x="420.0" y="390.0" width="4.6" height="4.6" fill="#a32700"/><rect x="424.1" y="390.0" width="4.6" height="4.6" fill="#d1560b"/><rect x="428.1" y="390.0" width="4.6" height="4.6" fill="#eb8c21"/><rect x="432.1" y="390.0" width="4.6" height="4.6" fill="#d75c0d"/><rect x="436.1" y="390.0" width="4.6" height="4.6" fill="#df6710"/><rect x="440.2" y="390.0" width="4.6" height="4.6" fill="#f4a52d"/><rect x="444.2" y="390.0" width="4.6" height="4.6" fill="#d95f0d"/><rect x="448.2" y="390.0" width="4.6" height="4.6" fill="#a02600"/><rect x="452.3" y="390.0" width="4.6" height="4.6" fill="#390800"/><rect x="456.3" y="390.0" width="4.6" height="4.6" fill="#390800"/><rect x="460.3" y="390.0" width="4.6" height="4.6" fill="#370700"/><rect x="464.4" y="390.0" width="4.6" height="4.6" fill="#320600"/><rect x="339.4" y="394.1" width="4.6" height="4.6" fill="#320600"/><rect x="343.4" y="394.1" width="4.6" height="4.6" fill="#2d0600"/><rect x="347.5" y="394.1" width="4.6" height="4.6" fill="#280500"/><rect x="351.5" y="394.1" width="4.6" height="4.6" fill="#2a0500"/><rect x="355.5" y="394.1" width="4.6" height="4.6" fill="#280500"/><rect x="359.6" y="394.1" width="4.6" height="4.6" fill="#420900"/><rect x="363.6" y="394.1" width="4.6" height="4.6" fill="#781900"/><rect x="367.6" y="394.1" width="4.6" height="4.6" fill="#da5f0d"/><rect x="371.6" y="394.1" width="4.6" height="4.6" fill="#f19d29"/><rect x="375.7" y="394.1" width="4.6" height="4.6" fill="#c84d09"/><rect x="379.7" y="394.1" width="4.6" height="4.6" fill="#a72a00"/><rect x="383.7" y="394.1" width="4.6" height="4.6" fill="#b93d05"/><rect x="387.8" y="394.1" width="4.6" height="4.6" fill="#c24607"/><rect x="391.8" y="394.1" width="4.6" height="4.6" fill="#e57918"/><rect x="395.8" y="394.1" width="4.6" height="4.6" fill="#e47517"/><rect x="399.9" y="394.1" width="4.6" height="4.6" fill="#9f2600"/><rect x="403.9" y="394.1" width="4.6" height="4.6" fill="#c74c09"/><rect x="407.9" y="394.1" width="4.6" height="4.6" fill="#d2570b"/><rect x="412.0" y="394.1" width="4.6" height="4.6" fill="#a12700"/><rect x="416.0" y="394.1" width="4.6" height="4.6" fill="#ae3202"/><rect x="420.0" y="394.1" width="4.6" height="4.6" fill="#761800"/><rect x="424.1" y="394.1" width="4.6" height="4.6" fill="#c74c09"/><rect x="428.1" y="394.1" width="4.6" height="4.6" fill="#b03403"/><rect x="432.1" y="394.1" width="4.6" height="4.6" fill="#e37517"/><rect x="436.1" y="394.1" width="4.6" height="4.6" fill="#faca5c"/><rect x="440.2" y="394.1" width="4.6" height="4.6" fill="#f5aa34"/><rect x="444.2" y="394.1" width="4.6" height="4.6" fill="#c64a08"/><rect x="448.2" y="394.1" width="4.6" height="4.6" fill="#992400"/><rect x="452.3" y="394.1" width="4.6" height="4.6" fill="#2d0500"/><rect x="456.3" y="394.1" width="4.6" height="4.6" fill="#3d0800"/><rect x="460.3" y="394.1" width="4.6" height="4.6" fill="#390800"/><rect x="464.4" y="394.1" width="4.6" height="4.6" fill="#290500"/><rect x="339.4" y="398.1" width="4.6" height="4.6" fill="#270500"/><rect x="343.4" y="398.1" width="4.6" height="4.6" fill="#270500"/><rect x="347.5" y="398.1" width="4.6" height="4.6" fill="#3d0800"/><rect x="351.5" y="398.1" width="4.6" height="4.6" fill="#290500"/><rect x="355.5" y="398.1" width="4.6" height="4.6" fill="#290500"/><rect x="359.6" y="398.1" width="4.6" height="4.6" fill="#2b0500"/><rect x="363.6" y="398.1" width="4.6" height="4.6" fill="#580e00"/><rect x="367.6" y="398.1" width="4.6" height="4.6" fill="#dc610e"/><rect x="371.6" y="398.1" width="4.6" height="4.6" fill="#ba3e05"/><rect x="375.7" y="398.1" width="4.6" height="4.6" fill="#be4306"/><rect x="379.7" y="398.1" width="4.6" height="4.6" fill="#bc4106"/><rect x="383.7" y="398.1" width="4.6" height="4.6" fill="#d65c0d"/><rect x="387.8" y="398.1" width="4.6" height="4.6" fill="#d3590c"/><rect x="391.8" y="398.1" width="4.6" height="4.6" fill="#e37517"/><rect x="395.8" y="398.1" width="4.6" height="4.6" fill="#e77f1b"/><rect x="399.9" y="398.1" width="4.6" height="4.6" fill="#e16d13"/><rect x="403.9" y="398.1" width="4.6" height="4.6" fill="#cb500a"/><rect x="407.9" y="398.1" width="4.6" height="4.6" fill="#df6911"/><rect x="412.0" y="398.1" width="4.6" height="4.6" fill="#ae3102"/><rect x="416.0" y="398.1" width="4.6" height="4.6" fill="#df6710"/><rect x="420.0" y="398.1" width="4.6" height="4.6" fill="#e27014"/><rect x="424.1" y="398.1" width="4.6" height="4.6" fill="#e57a19"/><rect x="428.1" y="398.1" width="4.6" height="4.6" fill="#c94e09"/><rect x="432.1" y="398.1" width="4.6" height="4.6" fill="#ce530a"/><rect x="436.1" y="398.1" width="4.6" height="4.6" fill="#ef9726"/><rect x="440.2" y="398.1" width="4.6" height="4.6" fill="#e8841d"/><rect x="444.2" y="398.1" width="4.6" height="4.6" fill="#b23603"/><rect x="448.2" y="398.1" width="4.6" height="4.6" fill="#560e00"/><rect x="452.3" y="398.1" width="4.6" height="4.6" fill="#290500"/><rect x="456.3" y="398.1" width="4.6" height="4.6" fill="#3a0800"/><rect x="460.3" y="398.1" width="4.6" height="4.6" fill="#270500"/><rect x="464.4" y="398.1" width="4.6" height="4.6" fill="#280500"/><rect x="339.4" y="402.1" width="4.6" height="4.6" fill="#3d0800"/><rect x="343.4" y="402.1" width="4.6" height="4.6" fill="#280500"/><rect x="347.5" y="402.1" width="4.6" height="4.6" fill="#280500"/><rect x="351.5" y="402.1" width="4.6" height="4.6" fill="#2e0600"/><rect x="355.5" y="402.1" width="4.6" height="4.6" fill="#2c0500"/><rect x="359.6" y="402.1" width="4.6" height="4.6" fill="#390800"/><rect x="363.6" y="402.1" width="4.6" height="4.6" fill="#2e0600"/><rect x="367.6" y="402.1" width="4.6" height="4.6" fill="#4c0b00"/><rect x="371.6" y="402.1" width="4.6" height="4.6" fill="#ae3102"/><rect x="375.7" y="402.1" width="4.6" height="4.6" fill="#de640f"/><rect x="379.7" y="402.1" width="4.6" height="4.6" fill="#bc4006"/><rect x="383.7" y="402.1" width="4.6" height="4.6" fill="#e77f1b"/><rect x="387.8" y="402.1" width="4.6" height="4.6" fill="#f19d29"/><rect x="391.8" y="402.1" width="4.6" height="4.6" fill="#ea881f"/><rect x="395.8" y="402.1" width="4.6" height="4.6" fill="#d55b0c"/><rect x="399.9" y="402.1" width="4.6" height="4.6" fill="#c74c09"/><rect x="403.9" y="402.1" width="4.6" height="4.6" fill="#dd630e"/><rect x="407.9" y="402.1" width="4.6" height="4.6" fill="#ef9827"/><rect x="412.0" y="402.1" width="4.6" height="4.6" fill="#e67c1a"/><rect x="416.0" y="402.1" width="4.6" height="4.6" fill="#e06a12"/><rect x="420.0" y="402.1" width="4.6" height="4.6" fill="#facb5d"/><rect x="424.1" y="402.1" width="4.6" height="4.6" fill="#e47717"/><rect x="428.1" y="402.1" width="4.6" height="4.6" fill="#e27215"/><rect x="432.1" y="402.1" width="4.6" height="4.6" fill="#f09b28"/><rect x="436.1" y="402.1" width="4.6" height="4.6" fill="#faca5c"/><rect x="440.2" y="402.1" width="4.6" height="4.6" fill="#ec8d22"/><rect x="444.2" y="402.1" width="4.6" height="4.6" fill="#bc4006"/><rect x="448.2" y="402.1" width="4.6" height="4.6" fill="#500c00"/><rect x="452.3" y="402.1" width="4.6" height="4.6" fill="#3b0800"/><rect x="456.3" y="402.1" width="4.6" height="4.6" fill="#2a0500"/><rect x="460.3" y="402.1" width="4.6" height="4.6" fill="#270500"/><rect x="464.4" y="402.1" width="4.6" height="4.6" fill="#2f0600"/><rect x="339.4" y="406.2" width="4.6" height="4.6" fill="#350700"/><rect x="343.4" y="406.2" width="4.6" height="4.6" fill="#350700"/><rect x="347.5" y="406.2" width="4.6" height="4.6" fill="#2e0600"/><rect x="351.5" y="406.2" width="4.6" height="4.6" fill="#270500"/><rect x="355.5" y="406.2" width="4.6" height="4.6" fill="#370700"/><rect x="359.6" y="406.2" width="4.6" height="4.6" fill="#2e0600"/><rect x="363.6" y="406.2" width="4.6" height="4.6" fill="#330700"/><rect x="367.6" y="406.2" width="4.6" height="4.6" fill="#540d00"/><rect x="371.6" y="406.2" width="4.6" height="4.6" fill="#bb3f05"/><rect x="375.7" y="406.2" width="4.6" height="4.6" fill="#b23603"/><rect x="379.7" y="406.2" width="4.6" height="4.6" fill="#e16f14"/><rect x="383.7" y="406.2" width="4.6" height="4.6" fill="#d65c0d"/><rect x="387.8" y="406.2" width="4.6" height="4.6" fill="#f19e29"/><rect x="391.8" y="406.2" width="4.6" height="4.6" fill="#cc510a"/><rect x="395.8" y="406.2" width="4.6" height="4.6" fill="#de640f"/><rect x="399.9" y="406.2" width="4.6" height="4.6" fill="#e67d1a"/><rect x="403.9" y="406.2" width="4.6" height="4.6" fill="#e16e13"/><rect x="407.9" y="406.2" width="4.6" height="4.6" fill="#d45a0c"/><rect x="412.0" y="406.2" width="4.6" height="4.6" fill="#d2570b"/><rect x="416.0" y="406.2" width="4.6" height="4.6" fill="#f4a62f"/><rect x="420.0" y="406.2" width="4.6" height="4.6" fill="#e9851e"/><rect x="424.1" y="406.2" width="4.6" height="4.6" fill="#e37316"/><rect x="428.1" y="406.2" width="4.6" height="4.6" fill="#e47717"/><rect x="432.1" y="406.2" width="4.6" height="4.6" fill="#e57a19"/><rect x="436.1" y="406.2" width="4.6" height="4.6" fill="#f7b845"/><rect x="440.2" y="406.2" width="4.6" height="4.6" fill="#ea8920"/><rect x="444.2" y="406.2" width="4.6" height="4.6" fill="#b33603"/><rect x="448.2" y="406.2" width="4.6" height="4.6" fill="#330700"/><rect x="452.3" y="406.2" width="4.6" height="4.6" fill="#280500"/><rect x="456.3" y="406.2" width="4.6" height="4.6" fill="#280500"/><rect x="460.3" y="406.2" width="4.6" height="4.6" fill="#3b0800"/><rect x="464.4" y="406.2" width="4.6" height="4.6" fill="#310600"/><rect x="339.4" y="410.2" width="4.6" height="4.6" fill="#2f0600"/><rect x="343.4" y="410.2" width="4.6" height="4.6" fill="#280500"/><rect x="347.5" y="410.2" width="4.6" height="4.6" fill="#270500"/><rect x="351.5" y="410.2" width="4.6" height="4.6" fill="#290500"/><rect x="355.5" y="410.2" width="4.6" height="4.6" fill="#3d0800"/><rect x="359.6" y="410.2" width="4.6" height="4.6" fill="#270500"/><rect x="363.6" y="410.2" width="4.6" height="4.6" fill="#3f0900"/><rect x="367.6" y="410.2" width="4.6" height="4.6" fill="#2a0500"/><rect x="371.6" y="410.2" width="4.6" height="4.6" fill="#ae3202"/><rect x="375.7" y="410.2" width="4.6" height="4.6" fill="#e16d13"/><rect x="379.7" y="410.2" width="4.6" height="4.6" fill="#f4a52d"/><rect x="383.7" y="410.2" width="4.6" height="4.6" fill="#ec8f23"/><rect x="387.8" y="410.2" width="4.6" height="4.6" fill="#e27014"/><rect x="391.8" y="410.2" width="4.6" height="4.6" fill="#d95f0d"/><rect x="395.8" y="410.2" width="4.6" height="4.6" fill="#e16f14"/><rect x="399.9" y="410.2" width="4.6" height="4.6" fill="#e8811c"/><rect x="403.9" y="410.2" width="4.6" height="4.6" fill="#de640f"/><rect x="407.9" y="410.2" width="4.6" height="4.6" fill="#d65c0d"/><rect x="412.0" y="410.2" width="4.6" height="4.6" fill="#cf540b"/><rect x="416.0" y="410.2" width="4.6" height="4.6" fill="#de6610"/><rect x="420.0" y="410.2" width="4.6" height="4.6" fill="#ec8e22"/><rect x="424.1" y="410.2" width="4.6" height="4.6" fill="#f09c28"/><rect x="428.1" y="410.2" width="4.6" height="4.6" fill="#d4590c"/><rect x="432.1" y="410.2" width="4.6" height="4.6" fill="#f4a831"/><rect x="436.1" y="410.2" width="4.6" height="4.6" fill="#e27115"/><rect x="440.2" y="410.2" width="4.6" height="4.6" fill="#cb500a"/><rect x="444.2" y="410.2" width="4.6" height="4.6" fill="#ae3102"/><rect x="448.2" y="410.2" width="4.6" height="4.6" fill="#2b0500"/><rect x="452.3" y="410.2" width="4.6" height="4.6" fill="#2e0600"/><rect x="456.3" y="410.2" width="4.6" height="4.6" fill="#280500"/><rect x="460.3" y="410.2" width="4.6" height="4.6" fill="#330700"/><rect x="464.4" y="410.2" width="4.6" height="4.6" fill="#280500"/><rect x="339.4" y="414.3" width="4.6" height="4.6" fill="#3c0800"/><rect x="343.4" y="414.3" width="4.6" height="4.6" fill="#380700"/><rect x="347.5" y="414.3" width="4.6" height="4.6" fill="#330700"/><rect x="351.5" y="414.3" width="4.6" height="4.6" fill="#270500"/><rect x="355.5" y="414.3" width="4.6" height="4.6" fill="#2b0500"/><rect x="359.6" y="414.3" width="4.6" height="4.6" fill="#2c0500"/><rect x="363.6" y="414.3" width="4.6" height="4.6" fill="#380700"/><rect x="367.6" y="414.3" width="4.6" height="4.6" fill="#3f0900"/><rect x="371.6" y="414.3" width="4.6" height="4.6" fill="#6b1500"/><rect x="375.7" y="414.3" width="4.6" height="4.6" fill="#ad3102"/><rect x="379.7" y="414.3" width="4.6" height="4.6" fill="#c44908"/><rect x="383.7" y="414.3" width="4.6" height="4.6" fill="#e77e1b"/><rect x="387.8" y="414.3" width="4.6" height="4.6" fill="#e16e13"/><rect x="391.8" y="414.3" width="4.6" height="4.6" fill="#ee9626"/><rect x="395.8" y="414.3" width="4.6" height="4.6" fill="#e37215"/><rect x="399.9" y="414.3" width="4.6" height="4.6" fill="#eb8b21"/><rect x="403.9" y="414.3" width="4.6" height="4.6" fill="#de660f"/><rect x="407.9" y="414.3" width="4.6" height="4.6" fill="#e7801c"/><rect x="412.0" y="414.3" width="4.6" height="4.6" fill="#ce530a"/><rect x="416.0" y="414.3" width="4.6" height="4.6" fill="#e06c12"/><rect x="420.0" y="414.3" width="4.6" height="4.6" fill="#ed9124"/><rect x="424.1" y="414.3" width="4.6" height="4.6" fill="#f7b845"/><rect x="428.1" y="414.3" width="4.6" height="4.6" fill="#f7b642"/><rect x="432.1" y="414.3" width="4.6" height="4.6" fill="#ec8e22"/><rect x="436.1" y="414.3" width="4.6" height="4.6" fill="#ea881f"/><rect x="440.2" y="414.3" width="4.6" height="4.6" fill="#dc620e"/><rect x="444.2" y="414.3" width="4.6" height="4.6" fill="#510c00"/><rect x="448.2" y="414.3" width="4.6" height="4.6" fill="#290500"/><rect x="452.3" y="414.3" width="4.6" height="4.6" fill="#300600"/><rect x="456.3" y="414.3" width="4.6" height="4.6" fill="#350700"/><rect x="460.3" y="414.3" width="4.6" height="4.6" fill="#270500"/><rect x="464.4" y="414.3" width="4.6" height="4.6" fill="#280500"/><rect x="339.4" y="418.3" width="4.6" height="4.6" fill="#3b0800"/><rect x="343.4" y="418.3" width="4.6" height="4.6" fill="#2b0500"/><rect x="347.5" y="418.3" width="4.6" height="4.6" fill="#390800"/><rect x="351.5" y="418.3" width="4.6" height="4.6" fill="#3c0800"/><rect x="355.5" y="418.3" width="4.6" height="4.6" fill="#2b0500"/><rect x="359.6" y="418.3" width="4.6" height="4.6" fill="#290500"/><rect x="363.6" y="418.3" width="4.6" height="4.6" fill="#380700"/><rect x="367.6" y="418.3" width="4.6" height="4.6" fill="#280500"/><rect x="371.6" y="418.3" width="4.6" height="4.6" fill="#2d0600"/><rect x="375.7" y="418.3" width="4.6" height="4.6" fill="#ad3102"/><rect x="379.7" y="418.3" width="4.6" height="4.6" fill="#c24707"/><rect x="383.7" y="418.3" width="4.6" height="4.6" fill="#e27215"/><rect x="387.8" y="418.3" width="4.6" height="4.6" fill="#f19c29"/><rect x="391.8" y="418.3" width="4.6" height="4.6" fill="#e77f1b"/><rect x="395.8" y="418.3" width="4.6" height="4.6" fill="#e67b19"/><rect x="399.9" y="418.3" width="4.6" height="4.6" fill="#ab2f01"/><rect x="403.9" y="418.3" width="4.6" height="4.6" fill="#c44908"/><rect x="407.9" y="418.3" width="4.6" height="4.6" fill="#bd4106"/><rect x="412.0" y="418.3" width="4.6" height="4.6" fill="#cf540b"/><rect x="416.0" y="418.3" width="4.6" height="4.6" fill="#cf540b"/><rect x="420.0" y="418.3" width="4.6" height="4.6" fill="#bd4106"/><rect x="424.1" y="418.3" width="4.6" height="4.6" fill="#e47718"/><rect x="428.1" y="418.3" width="4.6" height="4.6" fill="#f09927"/><rect x="432.1" y="418.3" width="4.6" height="4.6" fill="#f2a12b"/><rect x="436.1" y="418.3" width="4.6" height="4.6" fill="#f4a932"/><rect x="440.2" y="418.3" width="4.6" height="4.6" fill="#c64b08"/><rect x="444.2" y="418.3" width="4.6" height="4.6" fill="#3f0900"/><rect x="448.2" y="418.3" width="4.6" height="4.6" fill="#330700"/><rect x="452.3" y="418.3" width="4.6" height="4.6" fill="#2f0600"/><rect x="456.3" y="418.3" width="4.6" height="4.6" fill="#2f0600"/><rect x="460.3" y="418.3" width="4.6" height="4.6" fill="#380700"/><rect x="464.4" y="418.3" width="4.6" height="4.6" fill="#320600"/><rect x="339.4" y="422.4" width="4.6" height="4.6" fill="#2d0600"/><rect x="343.4" y="422.4" width="4.6" height="4.6" fill="#280500"/><rect x="347.5" y="422.4" width="4.6" height="4.6" fill="#330700"/><rect x="351.5" y="422.4" width="4.6" height="4.6" fill="#290500"/><rect x="355.5" y="422.4" width="4.6" height="4.6" fill="#270500"/><rect x="359.6" y="422.4" width="4.6" height="4.6" fill="#270500"/><rect x="363.6" y="422.4" width="4.6" height="4.6" fill="#400900"/><rect x="367.6" y="422.4" width="4.6" height="4.6" fill="#2c0500"/><rect x="371.6" y="422.4" width="4.6" height="4.6" fill="#320600"/><rect x="375.7" y="422.4" width="4.6" height="4.6" fill="#550d00"/><rect x="379.7" y="422.4" width="4.6" height="4.6" fill="#bf4407"/><rect x="383.7" y="422.4" width="4.6" height="4.6" fill="#e8821d"/><rect x="387.8" y="422.4" width="4.6" height="4.6" fill="#e57918"/><rect x="391.8" y="422.4" width="4.6" height="4.6" fill="#ef9726"/><rect x="395.8" y="422.4" width="4.6" height="4.6" fill="#e8831d"/><rect x="399.9" y="422.4" width="4.6" height="4.6" fill="#e77e1b"/><rect x="403.9" y="422.4" width="4.6" height="4.6" fill="#c44908"/><rect x="407.9" y="422.4" width="4.6" height="4.6" fill="#cf540b"/><rect x="412.0" y="422.4" width="4.6" height="4.6" fill="#cf540b"/><rect x="416.0" y="422.4" width="4.6" height="4.6" fill="#a92c01"/><rect x="420.0" y="422.4" width="4.6" height="4.6" fill="#d95f0d"/><rect x="424.1" y="422.4" width="4.6" height="4.6" fill="#f4a62f"/><rect x="428.1" y="422.4" width="4.6" height="4.6" fill="#cc510a"/><rect x="432.1" y="422.4" width="4.6" height="4.6" fill="#b83c05"/><rect x="436.1" y="422.4" width="4.6" height="4.6" fill="#b63904"/><rect x="440.2" y="422.4" width="4.6" height="4.6" fill="#c54908"/><rect x="444.2" y="422.4" width="4.6" height="4.6" fill="#380800"/><rect x="448.2" y="422.4" width="4.6" height="4.6" fill="#300600"/><rect x="452.3" y="422.4" width="4.6" height="4.6" fill="#2b0500"/><rect x="456.3" y="422.4" width="4.6" height="4.6" fill="#340700"/><rect x="460.3" y="422.4" width="4.6" height="4.6" fill="#2c0500"/><rect x="464.4" y="422.4" width="4.6" height="4.6" fill="#2a0500"/><rect x="339.4" y="426.4" width="4.6" height="4.6" fill="#3c0800"/><rect x="343.4" y="426.4" width="4.6" height="4.6" fill="#2a0500"/><rect x="347.5" y="426.4" width="4.6" height="4.6" fill="#300600"/><rect x="351.5" y="426.4" width="4.6" height="4.6" fill="#280500"/><rect x="355.5" y="426.4" width="4.6" height="4.6" fill="#2d0600"/><rect x="359.6" y="426.4" width="4.6" height="4.6" fill="#370700"/><rect x="363.6" y="426.4" width="4.6" height="4.6" fill="#2c0500"/><rect x="367.6" y="426.4" width="4.6" height="4.6" fill="#300600"/><rect x="371.6" y="426.4" width="4.6" height="4.6" fill="#400900"/><rect x="375.7" y="426.4" width="4.6" height="4.6" fill="#2e0600"/><rect x="379.7" y="426.4" width="4.6" height="4.6" fill="#861e00"/><rect x="383.7" y="426.4" width="4.6" height="4.6" fill="#de650f"/><rect x="387.8" y="426.4" width="4.6" height="4.6" fill="#e9861e"/><rect x="391.8" y="426.4" width="4.6" height="4.6" fill="#f6b23e"/><rect x="395.8" y="426.4" width="4.6" height="4.6" fill="#f09b28"/><rect x="399.9" y="426.4" width="4.6" height="4.6" fill="#eb8d21"/><rect x="403.9" y="426.4" width="4.6" height="4.6" fill="#c64b08"/><rect x="407.9" y="426.4" width="4.6" height="4.6" fill="#c84d09"/><rect x="412.0" y="426.4" width="4.6" height="4.6" fill="#e16c13"/><rect x="416.0" y="426.4" width="4.6" height="4.6" fill="#ce530a"/><rect x="420.0" y="426.4" width="4.6" height="4.6" fill="#d2570b"/><rect x="424.1" y="426.4" width="4.6" height="4.6" fill="#f09a28"/><rect x="428.1" y="426.4" width="4.6" height="4.6" fill="#9f2600"/><rect x="432.1" y="426.4" width="4.6" height="4.6" fill="#771900"/><rect x="436.1" y="426.4" width="4.6" height="4.6" fill="#661300"/><rect x="440.2" y="426.4" width="4.6" height="4.6" fill="#711700"/><rect x="444.2" y="426.4" width="4.6" height="4.6" fill="#2a0500"/><rect x="448.2" y="426.4" width="4.6" height="4.6" fill="#2c0500"/><rect x="452.3" y="426.4" width="4.6" height="4.6" fill="#2c0500"/><rect x="456.3" y="426.4" width="4.6" height="4.6" fill="#2d0500"/><rect x="460.3" y="426.4" width="4.6" height="4.6" fill="#370700"/><rect x="464.4" y="426.4" width="4.6" height="4.6" fill="#2d0600"/><rect x="339.4" y="430.5" width="4.6" height="4.6" fill="#2c0500"/><rect x="343.4" y="430.5" width="4.6" height="4.6" fill="#270500"/><rect x="347.5" y="430.5" width="4.6" height="4.6" fill="#3f0900"/><rect x="351.5" y="430.5" width="4.6" height="4.6" fill="#290500"/><rect x="355.5" y="430.5" width="4.6" height="4.6" fill="#2d0500"/><rect x="359.6" y="430.5" width="4.6" height="4.6" fill="#280500"/><rect x="363.6" y="430.5" width="4.6" height="4.6" fill="#370700"/><rect x="367.6" y="430.5" width="4.6" height="4.6" fill="#390800"/><rect x="371.6" y="430.5" width="4.6" height="4.6" fill="#2e0600"/><rect x="375.7" y="430.5" width="4.6" height="4.6" fill="#2b0500"/><rect x="379.7" y="430.5" width="4.6" height="4.6" fill="#651300"/><rect x="383.7" y="430.5" width="4.6" height="4.6" fill="#cd520a"/><rect x="387.8" y="430.5" width="4.6" height="4.6" fill="#f2a12b"/><rect x="391.8" y="430.5" width="4.6" height="4.6" fill="#eb8a20"/><rect x="395.8" y="430.5" width="4.6" height="4.6" fill="#e9851e"/><rect x="399.9" y="430.5" width="4.6" height="4.6" fill="#f09927"/><rect x="403.9" y="430.5" width="4.6" height="4.6" fill="#de660f"/><rect x="407.9" y="430.5" width="4.6" height="4.6" fill="#af3202"/><rect x="412.0" y="430.5" width="4.6" height="4.6" fill="#b43804"/><rect x="416.0" y="430.5" width="4.6" height="4.6" fill="#b13403"/><rect x="420.0" y="430.5" width="4.6" height="4.6" fill="#f6b33e"/><rect x="424.1" y="430.5" width="4.6" height="4.6" fill="#de650f"/><rect x="428.1" y="430.5" width="4.6" height="4.6" fill="#c64b08"/><rect x="432.1" y="430.5" width="4.6" height="4.6" fill="#801c00"/><rect x="436.1" y="430.5" width="4.6" height="4.6" fill="#c14507"/><rect x="440.2" y="430.5" width="4.6" height="4.6" fill="#4a0a00"/><rect x="444.2" y="430.5" width="4.6" height="4.6" fill="#2c0500"/><rect x="448.2" y="430.5" width="4.6" height="4.6" fill="#2b0500"/><rect x="452.3" y="430.5" width="4.6" height="4.6" fill="#340700"/><rect x="456.3" y="430.5" width="4.6" height="4.6" fill="#390800"/><rect x="460.3" y="430.5" width="4.6" height="4.6" fill="#2b0500"/><rect x="464.4" y="430.5" width="4.6" height="4.6" fill="#2e0600"/><rect x="339.4" y="434.5" width="4.6" height="4.6" fill="#270500"/><rect x="343.4" y="434.5" width="4.6" height="4.6" fill="#2f0600"/><rect x="347.5" y="434.5" width="4.6" height="4.6" fill="#2a0500"/><rect x="351.5" y="434.5" width="4.6" height="4.6" fill="#270500"/><rect x="355.5" y="434.5" width="4.6" height="4.6" fill="#3a0800"/><rect x="359.6" y="434.5" width="4.6" height="4.6" fill="#270500"/><rect x="363.6" y="434.5" width="4.6" height="4.6" fill="#270500"/><rect x="367.6" y="434.5" width="4.6" height="4.6" fill="#280500"/><rect x="371.6" y="434.5" width="4.6" height="4.6" fill="#280500"/><rect x="375.7" y="434.5" width="4.6" height="4.6" fill="#2c0500"/><rect x="379.7" y="434.5" width="4.6" height="4.6" fill="#2b0500"/><rect x="383.7" y="434.5" width="4.6" height="4.6" fill="#751800"/><rect x="387.8" y="434.5" width="4.6" height="4.6" fill="#d2570b"/><rect x="391.8" y="434.5" width="4.6" height="4.6" fill="#bd4106"/><rect x="395.8" y="434.5" width="4.6" height="4.6" fill="#e06a12"/><rect x="399.9" y="434.5" width="4.6" height="4.6" fill="#b13503"/><rect x="403.9" y="434.5" width="4.6" height="4.6" fill="#e67d1a"/><rect x="407.9" y="434.5" width="4.6" height="4.6" fill="#af3202"/><rect x="412.0" y="434.5" width="4.6" height="4.6" fill="#a82b00"/><rect x="416.0" y="434.5" width="4.6" height="4.6" fill="#ce530a"/><rect x="420.0" y="434.5" width="4.6" height="4.6" fill="#e06b12"/><rect x="424.1" y="434.5" width="4.6" height="4.6" fill="#dd630e"/><rect x="428.1" y="434.5" width="4.6" height="4.6" fill="#c24707"/><rect x="432.1" y="434.5" width="4.6" height="4.6" fill="#aa2d01"/><rect x="436.1" y="434.5" width="4.6" height="4.6" fill="#ac3002"/><rect x="440.2" y="434.5" width="4.6" height="4.6" fill="#540d00"/><rect x="444.2" y="434.5" width="4.6" height="4.6" fill="#3d0800"/><rect x="448.2" y="434.5" width="4.6" height="4.6" fill="#3f0900"/><rect x="452.3" y="434.5" width="4.6" height="4.6" fill="#270500"/><rect x="456.3" y="434.5" width="4.6" height="4.6" fill="#290500"/><rect x="460.3" y="434.5" width="4.6" height="4.6" fill="#270500"/><rect x="464.4" y="434.5" width="4.6" height="4.6" fill="#2d0500"/><rect x="339.4" y="438.6" width="4.6" height="4.6" fill="#340700"/><rect x="343.4" y="438.6" width="4.6" height="4.6" fill="#270500"/><rect x="347.5" y="438.6" width="4.6" height="4.6" fill="#270500"/><rect x="351.5" y="438.6" width="4.6" height="4.6" fill="#3e0800"/><rect x="355.5" y="438.6" width="4.6" height="4.6" fill="#270500"/><rect x="359.6" y="438.6" width="4.6" height="4.6" fill="#2b0500"/><rect x="363.6" y="438.6" width="4.6" height="4.6" fill="#2d0600"/><rect x="367.6" y="438.6" width="4.6" height="4.6" fill="#350700"/><rect x="371.6" y="438.6" width="4.6" height="4.6" fill="#290500"/><rect x="375.7" y="438.6" width="4.6" height="4.6" fill="#380700"/><rect x="379.7" y="438.6" width="4.6" height="4.6" fill="#320600"/><rect x="383.7" y="438.6" width="4.6" height="4.6" fill="#4e0b00"/><rect x="387.8" y="438.6" width="4.6" height="4.6" fill="#a72a00"/><rect x="391.8" y="438.6" width="4.6" height="4.6" fill="#b83c05"/><rect x="395.8" y="438.6" width="4.6" height="4.6" fill="#b53904"/><rect x="399.9" y="438.6" width="4.6" height="4.6" fill="#df6710"/><rect x="403.9" y="438.6" width="4.6" height="4.6" fill="#e67d1a"/><rect x="407.9" y="438.6" width="4.6" height="4.6" fill="#b83c05"/><rect x="412.0" y="438.6" width="4.6" height="4.6" fill="#bb3f05"/><rect x="416.0" y="438.6" width="4.6" height="4.6" fill="#cb500a"/><rect x="420.0" y="438.6" width="4.6" height="4.6" fill="#df6911"/><rect x="424.1" y="438.6" width="4.6" height="4.6" fill="#d95f0d"/><rect x="428.1" y="438.6" width="4.6" height="4.6" fill="#e47818"/><rect x="432.1" y="438.6" width="4.6" height="4.6" fill="#c24707"/><rect x="436.1" y="438.6" width="4.6" height="4.6" fill="#a82b00"/><rect x="440.2" y="438.6" width="4.6" height="4.6" fill="#340700"/><rect x="444.2" y="438.6" width="4.6" height="4.6" fill="#3c0800"/><rect x="448.2" y="438.6" width="4.6" height="4.6" fill="#3f0900"/><rect x="452.3" y="438.6" width="4.6" height="4.6" fill="#340700"/><rect x="456.3" y="438.6" width="4.6" height="4.6" fill="#270500"/><rect x="460.3" y="438.6" width="4.6" height="4.6" fill="#290500"/><rect x="464.4" y="438.6" width="4.6" height="4.6" fill="#370700"/><rect x="339.4" y="442.6" width="4.6" height="4.6" fill="#2b0500"/><rect x="343.4" y="442.6" width="4.6" height="4.6" fill="#370700"/><rect x="347.5" y="442.6" width="4.6" height="4.6" fill="#310600"/><rect x="351.5" y="442.6" width="4.6" height="4.6" fill="#330700"/><rect x="355.5" y="442.6" width="4.6" height="4.6" fill="#3e0800"/><rect x="359.6" y="442.6" width="4.6" height="4.6" fill="#2c0500"/><rect x="363.6" y="442.6" width="4.6" height="4.6" fill="#280500"/><rect x="367.6" y="442.6" width="4.6" height="4.6" fill="#380700"/><rect x="371.6" y="442.6" width="4.6" height="4.6" fill="#290500"/><rect x="375.7" y="442.6" width="4.6" height="4.6" fill="#280500"/><rect x="379.7" y="442.6" width="4.6" height="4.6" fill="#3e0900"/><rect x="383.7" y="442.6" width="4.6" height="4.6" fill="#290500"/><rect x="387.8" y="442.6" width="4.6" height="4.6" fill="#771800"/><rect x="391.8" y="442.6" width="4.6" height="4.6" fill="#9d2500"/><rect x="395.8" y="442.6" width="4.6" height="4.6" fill="#9e2500"/><rect x="399.9" y="442.6" width="4.6" height="4.6" fill="#ca4f09"/><rect x="403.9" y="442.6" width="4.6" height="4.6" fill="#cf540b"/><rect x="407.9" y="442.6" width="4.6" height="4.6" fill="#e16f14"/><rect x="412.0" y="442.6" width="4.6" height="4.6" fill="#b83d05"/><rect x="416.0" y="442.6" width="4.6" height="4.6" fill="#c94e09"/><rect x="420.0" y="442.6" width="4.6" height="4.6" fill="#de640f"/><rect x="424.1" y="442.6" width="4.6" height="4.6" fill="#eb8b21"/><rect x="428.1" y="442.6" width="4.6" height="4.6" fill="#f09b28"/><rect x="432.1" y="442.6" width="4.6" height="4.6" fill="#cd520a"/><rect x="436.1" y="442.6" width="4.6" height="4.6" fill="#851d00"/><rect x="440.2" y="442.6" width="4.6" height="4.6" fill="#2a0500"/><rect x="444.2" y="442.6" width="4.6" height="4.6" fill="#2b0500"/><rect x="448.2" y="442.6" width="4.6" height="4.6" fill="#320600"/><rect x="452.3" y="442.6" width="4.6" height="4.6" fill="#2d0600"/><rect x="456.3" y="442.6" width="4.6" height="4.6" fill="#340700"/><rect x="460.3" y="442.6" width="4.6" height="4.6" fill="#3e0800"/><rect x="464.4" y="442.6" width="4.6" height="4.6" fill="#310600"/><rect x="339.4" y="446.7" width="4.6" height="4.6" fill="#380800"/><rect x="343.4" y="446.7" width="4.6" height="4.6" fill="#340700"/><rect x="347.5" y="446.7" width="4.6" height="4.6" fill="#2f0600"/><rect x="351.5" y="446.7" width="4.6" height="4.6" fill="#270500"/><rect x="355.5" y="446.7" width="4.6" height="4.6" fill="#290500"/><rect x="359.6" y="446.7" width="4.6" height="4.6" fill="#280500"/><rect x="363.6" y="446.7" width="4.6" height="4.6" fill="#270500"/><rect x="367.6" y="446.7" width="4.6" height="4.6" fill="#280500"/><rect x="371.6" y="446.7" width="4.6" height="4.6" fill="#380800"/><rect x="375.7" y="446.7" width="4.6" height="4.6" fill="#270500"/><rect x="379.7" y="446.7" width="4.6" height="4.6" fill="#310600"/><rect x="383.7" y="446.7" width="4.6" height="4.6" fill="#370700"/><rect x="387.8" y="446.7" width="4.6" height="4.6" fill="#580e00"/><rect x="391.8" y="446.7" width="4.6" height="4.6" fill="#922100"/><rect x="395.8" y="446.7" width="4.6" height="4.6" fill="#8d2000"/><rect x="399.9" y="446.7" width="4.6" height="4.6" fill="#e77e1b"/><rect x="403.9" y="446.7" width="4.6" height="4.6" fill="#f4a932"/><rect x="407.9" y="446.7" width="4.6" height="4.6" fill="#de640f"/><rect x="412.0" y="446.7" width="4.6" height="4.6" fill="#d0550b"/><rect x="416.0" y="446.7" width="4.6" height="4.6" fill="#c24707"/><rect x="420.0" y="446.7" width="4.6" height="4.6" fill="#d4590c"/><rect x="424.1" y="446.7" width="4.6" height="4.6" fill="#ca4f09"/><rect x="428.1" y="446.7" width="4.6" height="4.6" fill="#c84d09"/><rect x="432.1" y="446.7" width="4.6" height="4.6" fill="#ec8f23"/><rect x="436.1" y="446.7" width="4.6" height="4.6" fill="#8c1f00"/><rect x="440.2" y="446.7" width="4.6" height="4.6" fill="#3f0900"/><rect x="444.2" y="446.7" width="4.6" height="4.6" fill="#280500"/><rect x="448.2" y="446.7" width="4.6" height="4.6" fill="#2d0600"/><rect x="452.3" y="446.7" width="4.6" height="4.6" fill="#290500"/><rect x="456.3" y="446.7" width="4.6" height="4.6" fill="#380700"/><rect x="460.3" y="446.7" width="4.6" height="4.6" fill="#2d0500"/><rect x="464.4" y="446.7" width="4.6" height="4.6" fill="#270500"/><rect x="339.4" y="450.7" width="4.6" height="4.6" fill="#3f0900"/><rect x="343.4" y="450.7" width="4.6" height="4.6" fill="#270500"/><rect x="347.5" y="450.7" width="4.6" height="4.6" fill="#270500"/><rect x="351.5" y="450.7" width="4.6" height="4.6" fill="#360700"/><rect x="355.5" y="450.7" width="4.6" height="4.6" fill="#360700"/><rect x="359.6" y="450.7" width="4.6" height="4.6" fill="#280500"/><rect x="363.6" y="450.7" width="4.6" height="4.6" fill="#380700"/><rect x="367.6" y="450.7" width="4.6" height="4.6" fill="#2c0500"/><rect x="371.6" y="450.7" width="4.6" height="4.6" fill="#280500"/><rect x="375.7" y="450.7" width="4.6" height="4.6" fill="#3f0900"/><rect x="379.7" y="450.7" width="4.6" height="4.6" fill="#2a0500"/><rect x="383.7" y="450.7" width="4.6" height="4.6" fill="#3d0800"/><rect x="387.8" y="450.7" width="4.6" height="4.6" fill="#350700"/><rect x="391.8" y="450.7" width="4.6" height="4.6" fill="#b23603"/><rect x="395.8" y="450.7" width="4.6" height="4.6" fill="#e9861e"/><rect x="399.9" y="450.7" width="4.6" height="4.6" fill="#f6b13c"/><rect x="403.9" y="450.7" width="4.6" height="4.6" fill="#e37516"/><rect x="407.9" y="450.7" width="4.6" height="4.6" fill="#e7811c"/><rect x="412.0" y="450.7" width="4.6" height="4.6" fill="#db610e"/><rect x="416.0" y="450.7" width="4.6" height="4.6" fill="#681300"/><rect x="420.0" y="450.7" width="4.6" height="4.6" fill="#b53904"/><rect x="424.1" y="450.7" width="4.6" height="4.6" fill="#c84d09"/><rect x="428.1" y="450.7" width="4.6" height="4.6" fill="#cb500a"/><rect x="432.1" y="450.7" width="4.6" height="4.6" fill="#e27115"/><rect x="436.1" y="450.7" width="4.6" height="4.6" fill="#741800"/><rect x="440.2" y="450.7" width="4.6" height="4.6" fill="#3b0800"/><rect x="444.2" y="450.7" width="4.6" height="4.6" fill="#3f0900"/><rect x="448.2" y="450.7" width="4.6" height="4.6" fill="#2e0600"/><rect x="452.3" y="450.7" width="4.6" height="4.6" fill="#290500"/><rect x="456.3" y="450.7" width="4.6" height="4.6" fill="#390800"/><rect x="460.3" y="450.7" width="4.6" height="4.6" fill="#300600"/><rect x="464.4" y="450.7" width="4.6" height="4.6" fill="#2b0500"/><rect x="339.4" y="454.8" width="4.6" height="4.6" fill="#300600"/><rect x="343.4" y="454.8" width="4.6" height="4.6" fill="#280500"/><rect x="347.5" y="454.8" width="4.6" height="4.6" fill="#350700"/><rect x="351.5" y="454.8" width="4.6" height="4.6" fill="#390800"/><rect x="355.5" y="454.8" width="4.6" height="4.6" fill="#2b0500"/><rect x="359.6" y="454.8" width="4.6" height="4.6" fill="#2a0500"/><rect x="363.6" y="454.8" width="4.6" height="4.6" fill="#360700"/><rect x="367.6" y="454.8" width="4.6" height="4.6" fill="#280500"/><rect x="371.6" y="454.8" width="4.6" height="4.6" fill="#2a0500"/><rect x="375.7" y="454.8" width="4.6" height="4.6" fill="#280500"/><rect x="379.7" y="454.8" width="4.6" height="4.6" fill="#3c0800"/><rect x="383.7" y="454.8" width="4.6" height="4.6" fill="#370700"/><rect x="387.8" y="454.8" width="4.6" height="4.6" fill="#2d0600"/><rect x="391.8" y="454.8" width="4.6" height="4.6" fill="#741700"/><rect x="395.8" y="454.8" width="4.6" height="4.6" fill="#df6911"/><rect x="399.9" y="454.8" width="4.6" height="4.6" fill="#eb8a20"/><rect x="403.9" y="454.8" width="4.6" height="4.6" fill="#e7811c"/><rect x="407.9" y="454.8" width="4.6" height="4.6" fill="#d2580c"/><rect x="412.0" y="454.8" width="4.6" height="4.6" fill="#861d00"/><rect x="416.0" y="454.8" width="4.6" height="4.6" fill="#bc4106"/><rect x="420.0" y="454.8" width="4.6" height="4.6" fill="#af3202"/><rect x="424.1" y="454.8" width="4.6" height="4.6" fill="#871e00"/><rect x="428.1" y="454.8" width="4.6" height="4.6" fill="#d0550b"/><rect x="432.1" y="454.8" width="4.6" height="4.6" fill="#be4206"/><rect x="436.1" y="454.8" width="4.6" height="4.6" fill="#3d0800"/><rect x="440.2" y="454.8" width="4.6" height="4.6" fill="#280500"/><rect x="444.2" y="454.8" width="4.6" height="4.6" fill="#320600"/><rect x="448.2" y="454.8" width="4.6" height="4.6" fill="#280500"/><rect x="452.3" y="454.8" width="4.6" height="4.6" fill="#270500"/><rect x="456.3" y="454.8" width="4.6" height="4.6" fill="#330600"/><rect x="460.3" y="454.8" width="4.6" height="4.6" fill="#3e0800"/><rect x="464.4" y="454.8" width="4.6" height="4.6" fill="#2c0500"/><rect x="339.4" y="458.8" width="4.6" height="4.6" fill="#290500"/><rect x="343.4" y="458.8" width="4.6" height="4.6" fill="#3c0800"/><rect x="347.5" y="458.8" width="4.6" height="4.6" fill="#360700"/><rect x="351.5" y="458.8" width="4.6" height="4.6" fill="#3f0900"/><rect x="355.5" y="458.8" width="4.6" height="4.6" fill="#3b0800"/><rect x="359.6" y="458.8" width="4.6" height="4.6" fill="#2a0500"/><rect x="363.6" y="458.8" width="4.6" height="4.6" fill="#280500"/><rect x="367.6" y="458.8" width="4.6" height="4.6" fill="#2d0600"/><rect x="371.6" y="458.8" width="4.6" height="4.6" fill="#340700"/><rect x="375.7" y="458.8" width="4.6" height="4.6" fill="#290500"/><rect x="379.7" y="458.8" width="4.6" height="4.6" fill="#330700"/><rect x="383.7" y="458.8" width="4.6" height="4.6" fill="#410900"/><rect x="387.8" y="458.8" width="4.6" height="4.6" fill="#2f0600"/><rect x="391.8" y="458.8" width="4.6" height="4.6" fill="#3e0900"/><rect x="395.8" y="458.8" width="4.6" height="4.6" fill="#d75c0d"/><rect x="399.9" y="458.8" width="4.6" height="4.6" fill="#a92c01"/><rect x="403.9" y="458.8" width="4.6" height="4.6" fill="#e57b19"/><rect x="407.9" y="458.8" width="4.6" height="4.6" fill="#cd520a"/><rect x="412.0" y="458.8" width="4.6" height="4.6" fill="#bd4206"/><rect x="416.0" y="458.8" width="4.6" height="4.6" fill="#cf540b"/><rect x="420.0" y="458.8" width="4.6" height="4.6" fill="#861d00"/><rect x="424.1" y="458.8" width="4.6" height="4.6" fill="#c14607"/><rect x="428.1" y="458.8" width="4.6" height="4.6" fill="#c74c09"/><rect x="432.1" y="458.8" width="4.6" height="4.6" fill="#701600"/><rect x="436.1" y="458.8" width="4.6" height="4.6" fill="#290500"/><rect x="440.2" y="458.8" width="4.6" height="4.6" fill="#350700"/><rect x="444.2" y="458.8" width="4.6" height="4.6" fill="#2b0500"/><rect x="448.2" y="458.8" width="4.6" height="4.6" fill="#2b0500"/><rect x="452.3" y="458.8" width="4.6" height="4.6" fill="#340700"/><rect x="456.3" y="458.8" width="4.6" height="4.6" fill="#290500"/><rect x="460.3" y="458.8" width="4.6" height="4.6" fill="#340700"/><rect x="464.4" y="458.8" width="4.6" height="4.6" fill="#370700"/><rect x="339.4" y="462.9" width="4.6" height="4.6" fill="#280500"/><rect x="343.4" y="462.9" width="4.6" height="4.6" fill="#3a0800"/><rect x="347.5" y="462.9" width="4.6" height="4.6" fill="#330700"/><rect x="351.5" y="462.9" width="4.6" height="4.6" fill="#2d0600"/><rect x="355.5" y="462.9" width="4.6" height="4.6" fill="#320600"/><rect x="359.6" y="462.9" width="4.6" height="4.6" fill="#280500"/><rect x="363.6" y="462.9" width="4.6" height="4.6" fill="#290500"/><rect x="367.6" y="462.9" width="4.6" height="4.6" fill="#2e0600"/><rect x="371.6" y="462.9" width="4.6" height="4.6" fill="#380700"/><rect x="375.7" y="462.9" width="4.6" height="4.6" fill="#3f0900"/><rect x="379.7" y="462.9" width="4.6" height="4.6" fill="#270500"/><rect x="383.7" y="462.9" width="4.6" height="4.6" fill="#3d0800"/><rect x="387.8" y="462.9" width="4.6" height="4.6" fill="#350700"/><rect x="391.8" y="462.9" width="4.6" height="4.6" fill="#290500"/><rect x="395.8" y="462.9" width="4.6" height="4.6" fill="#932200"/><rect x="399.9" y="462.9" width="4.6" height="4.6" fill="#e37517"/><rect x="403.9" y="462.9" width="4.6" height="4.6" fill="#b03302"/><rect x="407.9" y="462.9" width="4.6" height="4.6" fill="#d55a0c"/><rect x="412.0" y="462.9" width="4.6" height="4.6" fill="#c64a08"/><rect x="416.0" y="462.9" width="4.6" height="4.6" fill="#ca4f09"/><rect x="420.0" y="462.9" width="4.6" height="4.6" fill="#ad3002"/><rect x="424.1" y="462.9" width="4.6" height="4.6" fill="#df6810"/><rect x="428.1" y="462.9" width="4.6" height="4.6" fill="#c44908"/><rect x="432.1" y="462.9" width="4.6" height="4.6" fill="#9c2500"/><rect x="436.1" y="462.9" width="4.6" height="4.6" fill="#2a0500"/><rect x="440.2" y="462.9" width="4.6" height="4.6" fill="#3a0800"/><rect x="444.2" y="462.9" width="4.6" height="4.6" fill="#300600"/><rect x="448.2" y="462.9" width="4.6" height="4.6" fill="#2d0600"/><rect x="452.3" y="462.9" width="4.6" height="4.6" fill="#280500"/><rect x="456.3" y="462.9" width="4.6" height="4.6" fill="#2d0500"/><rect x="460.3" y="462.9" width="4.6" height="4.6" fill="#2f0600"/><rect x="464.4" y="462.9" width="4.6" height="4.6" fill="#2d0600"/></g></g>
<rect x="341.6" y="456.6" width="26.8" height="2.7" fill="#fff"/>
<text x="3.9" y="488.5" font-size="15" font-weight="bold" fill="#111">(d)</text>
<rect x="45.5" y="482.2" width="174.5" height="140.3" fill="#fff" stroke="#333" stroke-width="1"/>
<line x1="131.5284999999999" y1="483.2" x2="131.5284999999999" y2="622.5" stroke="#333" stroke-width="1" stroke-dasharray="3 2.2"/>
<g fill="none" stroke="#c8c498" stroke-width="0.75"><circle cx="47.2" cy="521.9" r="1.8"/><circle cx="49.4" cy="518.6" r="1.8"/><circle cx="51.6" cy="522.5" r="1.8"/><circle cx="53.8" cy="515.5" r="1.8"/><circle cx="56.0" cy="525.8" r="1.8"/><circle cx="58.2" cy="519.5" r="1.8"/><circle cx="60.3" cy="521.9" r="1.8"/><circle cx="62.5" cy="522.7" r="1.8"/><circle cx="64.7" cy="520.8" r="1.8"/><circle cx="66.9" cy="520.6" r="1.8"/><circle cx="69.1" cy="515.3" r="1.8"/><circle cx="71.2" cy="519.2" r="1.8"/><circle cx="73.4" cy="517.9" r="1.8"/><circle cx="75.6" cy="519.7" r="1.8"/><circle cx="77.8" cy="510.4" r="1.8"/><circle cx="80.0" cy="514.2" r="1.8"/><circle cx="82.1" cy="518.4" r="1.8"/><circle cx="84.3" cy="520.2" r="1.8"/><circle cx="86.5" cy="518.5" r="1.8"/><circle cx="88.7" cy="515.3" r="1.8"/><circle cx="90.9" cy="516.9" r="1.8"/><circle cx="93.1" cy="517.3" r="1.8"/><circle cx="95.2" cy="508.1" r="1.8"/><circle cx="97.4" cy="515.6" r="1.8"/><circle cx="99.6" cy="515.4" r="1.8"/><circle cx="101.8" cy="515.3" r="1.8"/><circle cx="104.0" cy="518.2" r="1.8"/><circle cx="106.1" cy="512.8" r="1.8"/><circle cx="108.3" cy="517.5" r="1.8"/><circle cx="110.5" cy="516.3" r="1.8"/><circle cx="112.7" cy="515.7" r="1.8"/><circle cx="114.9" cy="513.9" r="1.8"/><circle cx="117.0" cy="515.0" r="1.8"/><circle cx="119.2" cy="516.3" r="1.8"/><circle cx="121.4" cy="506.2" r="1.8"/><circle cx="123.6" cy="501.0" r="1.8"/><circle cx="125.8" cy="501.0" r="1.8"/><circle cx="128.0" cy="502.8" r="1.8"/><circle cx="130.1" cy="492.1" r="1.8"/><circle cx="132.3" cy="489.1" r="1.8"/><circle cx="134.5" cy="488.1" r="1.8"/><circle cx="136.7" cy="489.3" r="1.8"/><circle cx="138.9" cy="493.2" r="1.8"/><circle cx="141.0" cy="510.8" r="1.8"/><circle cx="143.2" cy="502.3" r="1.8"/><circle cx="145.4" cy="503.6" r="1.8"/><circle cx="147.6" cy="509.2" r="1.8"/><circle cx="149.8" cy="514.4" r="1.8"/><circle cx="151.9" cy="509.7" r="1.8"/><circle cx="154.1" cy="512.1" r="1.8"/><circle cx="156.3" cy="515.2" r="1.8"/><circle cx="158.5" cy="519.0" r="1.8"/><circle cx="160.7" cy="512.6" r="1.8"/><circle cx="162.9" cy="517.9" r="1.8"/><circle cx="165.0" cy="523.8" r="1.8"/><circle cx="167.2" cy="514.7" r="1.8"/><circle cx="169.4" cy="514.3" r="1.8"/><circle cx="171.6" cy="519.7" r="1.8"/><circle cx="173.8" cy="521.2" r="1.8"/><circle cx="175.9" cy="517.7" r="1.8"/><circle cx="178.1" cy="519.1" r="1.8"/><circle cx="180.3" cy="521.2" r="1.8"/><circle cx="182.5" cy="522.0" r="1.8"/><circle cx="184.7" cy="519.7" r="1.8"/><circle cx="186.8" cy="522.3" r="1.8"/><circle cx="189.0" cy="513.5" r="1.8"/><circle cx="191.2" cy="520.5" r="1.8"/><circle cx="193.4" cy="516.9" r="1.8"/><circle cx="195.6" cy="522.2" r="1.8"/><circle cx="197.8" cy="520.3" r="1.8"/><circle cx="199.9" cy="525.7" r="1.8"/><circle cx="202.1" cy="520.8" r="1.8"/><circle cx="204.3" cy="520.9" r="1.8"/><circle cx="206.5" cy="521.5" r="1.8"/><circle cx="208.7" cy="523.0" r="1.8"/><circle cx="210.8" cy="519.4" r="1.8"/><circle cx="213.0" cy="516.4" r="1.8"/><circle cx="215.2" cy="517.3" r="1.8"/><circle cx="217.4" cy="522.2" r="1.8"/><circle cx="219.6" cy="526.3" r="1.8"/></g>
<polyline points="45.5,520.3 46.4,520.3 47.2,520.2 48.1,520.2 49.0,520.2 49.9,520.2 50.7,520.2 51.6,520.2 52.5,520.2 53.4,520.2 54.2,520.2 55.1,520.2 56.0,520.1 56.8,520.1 57.7,520.1 58.6,520.1 59.5,520.1 60.3,520.1 61.2,520.1 62.1,520.0 63.0,520.0 63.8,520.0 64.7,520.0 65.6,520.0 66.4,520.0 67.3,519.9 68.2,519.9 69.1,519.9 69.9,519.9 70.8,519.8 71.7,519.8 72.5,519.8 73.4,519.8 74.3,519.7 75.2,519.7 76.0,519.7 76.9,519.7 77.8,519.6 78.7,519.6 79.5,519.6 80.4,519.5 81.3,519.5 82.1,519.4 83.0,519.4 83.9,519.4 84.8,519.3 85.6,519.3 86.5,519.2 87.4,519.2 88.3,519.1 89.1,519.0 90.0,519.0 90.9,518.9 91.7,518.8 92.6,518.8 93.5,518.7 94.4,518.6 95.2,518.5 96.1,518.4 97.0,518.3 97.8,518.2 98.7,518.1 99.6,517.9 100.5,517.8 101.3,517.7 102.2,517.5 103.1,517.3 104.0,517.2 104.8,517.0 105.7,516.7 106.6,516.5 107.4,516.3 108.3,516.0 109.2,515.7 110.1,515.4 110.9,515.0 111.8,514.7 112.7,514.2 113.6,513.8 114.4,513.3 115.3,512.7 116.2,512.1 117.0,511.4 117.9,510.7 118.8,509.9 119.7,509.0 120.5,508.0 121.4,506.9 122.3,505.7 123.2,504.4 124.0,503.0 124.9,501.5 125.8,499.9 126.6,498.2 127.5,496.6 128.4,494.9 129.3,493.4 130.1,492.0 131.0,490.9 131.9,490.1 132.8,489.7 133.6,489.8 134.5,490.2 135.4,491.1 136.2,492.3 137.1,493.7 138.0,495.2 138.9,496.9 139.7,498.6 140.6,500.2 141.5,501.8 142.3,503.3 143.2,504.7 144.1,506.0 145.0,507.1 145.8,508.2 146.7,509.2 147.6,510.1 148.5,510.9 149.3,511.6 150.2,512.2 151.1,512.8 151.9,513.4 152.8,513.9 153.7,514.3 154.6,514.7 155.4,515.1 156.3,515.5 157.2,515.8 158.1,516.1 158.9,516.3 159.8,516.6 160.7,516.8 161.5,517.0 162.4,517.2 163.3,517.4 164.2,517.5 165.0,517.7 165.9,517.8 166.8,518.0 167.7,518.1 168.5,518.2 169.4,518.3 170.3,518.4 171.1,518.5 172.0,518.6 172.9,518.7 173.8,518.8 174.6,518.8 175.5,518.9 176.4,519.0 177.2,519.0 178.1,519.1 179.0,519.2 179.9,519.2 180.7,519.3 181.6,519.3 182.5,519.4 183.4,519.4 184.2,519.5 185.1,519.5 186.0,519.5 186.8,519.6 187.7,519.6 188.6,519.6 189.5,519.7 190.3,519.7 191.2,519.7 192.1,519.8 193.0,519.8 193.8,519.8 194.7,519.8 195.6,519.9 196.4,519.9 197.3,519.9 198.2,519.9 199.1,519.9 199.9,520.0 200.8,520.0 201.7,520.0 202.6,520.0 203.4,520.0 204.3,520.0 205.2,520.1 206.0,520.1 206.9,520.1 207.8,520.1 208.7,520.1 209.5,520.1 210.4,520.1 211.3,520.2 212.1,520.2 213.0,520.2 213.9,520.2 214.8,520.2 215.6,520.2 216.5,520.2 217.4,520.2 218.3,520.2 219.1,520.2 220.0,520.3" fill="none" stroke="#aca64a" stroke-width="1.1"/>
<text x="217.5" y="509.8" font-size="10.1" text-anchor="end" fill="#aca64a" font-weight="normal" >1200 nN</text>
<g fill="none" stroke="#ec8cea" stroke-width="0.75"><path d="M47.2,542.9 l2.1,-3.6 h-4.2 Z"/><path d="M49.4,542.7 l2.1,-3.6 h-4.2 Z"/><path d="M51.6,545.1 l2.1,-3.6 h-4.2 Z"/><path d="M53.8,549.1 l2.1,-3.6 h-4.2 Z"/><path d="M56.0,543.7 l2.1,-3.6 h-4.2 Z"/><path d="M58.2,541.0 l2.1,-3.6 h-4.2 Z"/><path d="M60.3,542.0 l2.1,-3.6 h-4.2 Z"/><path d="M62.5,550.7 l2.1,-3.6 h-4.2 Z"/><path d="M64.7,543.4 l2.1,-3.6 h-4.2 Z"/><path d="M66.9,540.6 l2.1,-3.6 h-4.2 Z"/><path d="M69.1,543.5 l2.1,-3.6 h-4.2 Z"/><path d="M71.2,545.5 l2.1,-3.6 h-4.2 Z"/><path d="M73.4,545.4 l2.1,-3.6 h-4.2 Z"/><path d="M75.6,550.7 l2.1,-3.6 h-4.2 Z"/><path d="M77.8,543.6 l2.1,-3.6 h-4.2 Z"/><path d="M80.0,538.9 l2.1,-3.6 h-4.2 Z"/><path d="M82.1,549.2 l2.1,-3.6 h-4.2 Z"/><path d="M84.3,545.0 l2.1,-3.6 h-4.2 Z"/><path d="M86.5,544.9 l2.1,-3.6 h-4.2 Z"/><path d="M88.7,541.4 l2.1,-3.6 h-4.2 Z"/><path d="M90.9,540.0 l2.1,-3.6 h-4.2 Z"/><path d="M93.1,548.8 l2.1,-3.6 h-4.2 Z"/><path d="M95.2,538.0 l2.1,-3.6 h-4.2 Z"/><path d="M97.4,540.8 l2.1,-3.6 h-4.2 Z"/><path d="M99.6,538.7 l2.1,-3.6 h-4.2 Z"/><path d="M101.8,547.2 l2.1,-3.6 h-4.2 Z"/><path d="M104.0,542.9 l2.1,-3.6 h-4.2 Z"/><path d="M106.1,538.9 l2.1,-3.6 h-4.2 Z"/><path d="M108.3,543.1 l2.1,-3.6 h-4.2 Z"/><path d="M110.5,546.5 l2.1,-3.6 h-4.2 Z"/><path d="M112.7,535.6 l2.1,-3.6 h-4.2 Z"/><path d="M114.9,534.6 l2.1,-3.6 h-4.2 Z"/><path d="M117.0,537.5 l2.1,-3.6 h-4.2 Z"/><path d="M119.2,534.9 l2.1,-3.6 h-4.2 Z"/><path d="M121.4,527.6 l2.1,-3.6 h-4.2 Z"/><path d="M123.6,526.2 l2.1,-3.6 h-4.2 Z"/><path d="M125.8,524.5 l2.1,-3.6 h-4.2 Z"/><path d="M128.0,523.7 l2.1,-3.6 h-4.2 Z"/><path d="M130.1,512.5 l2.1,-3.6 h-4.2 Z"/><path d="M132.3,518.6 l2.1,-3.6 h-4.2 Z"/><path d="M134.5,519.1 l2.1,-3.6 h-4.2 Z"/><path d="M136.7,527.4 l2.1,-3.6 h-4.2 Z"/><path d="M138.9,516.1 l2.1,-3.6 h-4.2 Z"/><path d="M141.0,526.9 l2.1,-3.6 h-4.2 Z"/><path d="M143.2,529.9 l2.1,-3.6 h-4.2 Z"/><path d="M145.4,539.1 l2.1,-3.6 h-4.2 Z"/><path d="M147.6,531.9 l2.1,-3.6 h-4.2 Z"/><path d="M149.8,535.7 l2.1,-3.6 h-4.2 Z"/><path d="M151.9,539.7 l2.1,-3.6 h-4.2 Z"/><path d="M154.1,542.0 l2.1,-3.6 h-4.2 Z"/><path d="M156.3,542.4 l2.1,-3.6 h-4.2 Z"/><path d="M158.5,536.9 l2.1,-3.6 h-4.2 Z"/><path d="M160.7,548.6 l2.1,-3.6 h-4.2 Z"/><path d="M162.9,539.9 l2.1,-3.6 h-4.2 Z"/><path d="M165.0,544.2 l2.1,-3.6 h-4.2 Z"/><path d="M167.2,546.3 l2.1,-3.6 h-4.2 Z"/><path d="M169.4,541.9 l2.1,-3.6 h-4.2 Z"/><path d="M171.6,545.3 l2.1,-3.6 h-4.2 Z"/><path d="M173.8,538.3 l2.1,-3.6 h-4.2 Z"/><path d="M175.9,543.3 l2.1,-3.6 h-4.2 Z"/><path d="M178.1,542.0 l2.1,-3.6 h-4.2 Z"/><path d="M180.3,538.6 l2.1,-3.6 h-4.2 Z"/><path d="M182.5,541.7 l2.1,-3.6 h-4.2 Z"/><path d="M184.7,540.5 l2.1,-3.6 h-4.2 Z"/><path d="M186.8,547.6 l2.1,-3.6 h-4.2 Z"/><path d="M189.0,541.4 l2.1,-3.6 h-4.2 Z"/><path d="M191.2,538.9 l2.1,-3.6 h-4.2 Z"/><path d="M193.4,543.7 l2.1,-3.6 h-4.2 Z"/><path d="M195.6,543.3 l2.1,-3.6 h-4.2 Z"/><path d="M197.8,553.7 l2.1,-3.6 h-4.2 Z"/><path d="M199.9,551.0 l2.1,-3.6 h-4.2 Z"/><path d="M202.1,545.2 l2.1,-3.6 h-4.2 Z"/><path d="M204.3,541.9 l2.1,-3.6 h-4.2 Z"/><path d="M206.5,552.9 l2.1,-3.6 h-4.2 Z"/><path d="M208.7,545.8 l2.1,-3.6 h-4.2 Z"/><path d="M210.8,538.6 l2.1,-3.6 h-4.2 Z"/><path d="M213.0,546.2 l2.1,-3.6 h-4.2 Z"/><path d="M215.2,538.6 l2.1,-3.6 h-4.2 Z"/><path d="M217.4,549.3 l2.1,-3.6 h-4.2 Z"/><path d="M219.6,546.3 l2.1,-3.6 h-4.2 Z"/></g>
<polyline points="45.5,542.8 46.4,542.8 47.2,542.8 48.1,542.8 49.0,542.8 49.9,542.7 50.7,542.7 51.6,542.7 52.5,542.7 53.4,542.7 54.2,542.7 55.1,542.7 56.0,542.7 56.8,542.7 57.7,542.6 58.6,542.6 59.5,542.6 60.3,542.6 61.2,542.6 62.1,542.6 63.0,542.6 63.8,542.5 64.7,542.5 65.6,542.5 66.4,542.5 67.3,542.5 68.2,542.4 69.1,542.4 69.9,542.4 70.8,542.4 71.7,542.4 72.5,542.3 73.4,542.3 74.3,542.3 75.2,542.3 76.0,542.2 76.9,542.2 77.8,542.2 78.7,542.1 79.5,542.1 80.4,542.1 81.3,542.0 82.1,542.0 83.0,542.0 83.9,541.9 84.8,541.9 85.6,541.8 86.5,541.8 87.4,541.7 88.3,541.7 89.1,541.6 90.0,541.5 90.9,541.5 91.7,541.4 92.6,541.3 93.5,541.2 94.4,541.2 95.2,541.1 96.1,541.0 97.0,540.9 97.8,540.8 98.7,540.6 99.6,540.5 100.5,540.4 101.3,540.2 102.2,540.1 103.1,539.9 104.0,539.7 104.8,539.5 105.7,539.3 106.6,539.1 107.4,538.9 108.3,538.6 109.2,538.3 110.1,538.0 110.9,537.6 111.8,537.2 112.7,536.8 113.6,536.4 114.4,535.9 115.3,535.3 116.2,534.7 117.0,534.0 117.9,533.2 118.8,532.4 119.7,531.5 120.5,530.5 121.4,529.4 122.3,528.2 123.2,526.9 124.0,525.5 124.9,524.0 125.8,522.5 126.6,520.9 127.5,519.4 128.4,517.9 129.3,516.6 130.1,515.5 131.0,514.7 131.9,514.3 132.8,514.2 133.6,514.6 134.5,515.3 135.4,516.4 136.2,517.6 137.1,519.1 138.0,520.6 138.9,522.2 139.7,523.7 140.6,525.2 141.5,526.6 142.3,528.0 143.2,529.2 144.1,530.3 145.0,531.3 145.8,532.2 146.7,533.1 147.6,533.9 148.5,534.5 149.3,535.2 150.2,535.7 151.1,536.3 151.9,536.7 152.8,537.2 153.7,537.6 154.6,537.9 155.4,538.2 156.3,538.5 157.2,538.8 158.1,539.1 158.9,539.3 159.8,539.5 160.7,539.7 161.5,539.9 162.4,540.1 163.3,540.2 164.2,540.4 165.0,540.5 165.9,540.6 166.8,540.7 167.7,540.8 168.5,541.0 169.4,541.0 170.3,541.1 171.1,541.2 172.0,541.3 172.9,541.4 173.8,541.5 174.6,541.5 175.5,541.6 176.4,541.6 177.2,541.7 178.1,541.8 179.0,541.8 179.9,541.9 180.7,541.9 181.6,541.9 182.5,542.0 183.4,542.0 184.2,542.1 185.1,542.1 186.0,542.1 186.8,542.2 187.7,542.2 188.6,542.2 189.5,542.3 190.3,542.3 191.2,542.3 192.1,542.3 193.0,542.4 193.8,542.4 194.7,542.4 195.6,542.4 196.4,542.4 197.3,542.5 198.2,542.5 199.1,542.5 199.9,542.5 200.8,542.5 201.7,542.6 202.6,542.6 203.4,542.6 204.3,542.6 205.2,542.6 206.0,542.6 206.9,542.6 207.8,542.7 208.7,542.7 209.5,542.7 210.4,542.7 211.3,542.7 212.1,542.7 213.0,542.7 213.9,542.7 214.8,542.7 215.6,542.7 216.5,542.8 217.4,542.8 218.3,542.8 219.1,542.8 220.0,542.8" fill="none" stroke="#e040dc" stroke-width="1.1"/>
<text x="217.5" y="534.7" font-size="10.1" text-anchor="end" fill="#e040dc" font-weight="normal" >1000 nN</text>
<g fill="none" stroke="#7474da" stroke-width="0.75"><path d="M47.2,563.2 l2.1,3.6 h-4.2 Z"/><path d="M49.4,566.9 l2.1,3.6 h-4.2 Z"/><path d="M51.6,565.8 l2.1,3.6 h-4.2 Z"/><path d="M53.8,565.7 l2.1,3.6 h-4.2 Z"/><path d="M56.0,567.1 l2.1,3.6 h-4.2 Z"/><path d="M58.2,568.2 l2.1,3.6 h-4.2 Z"/><path d="M60.3,566.6 l2.1,3.6 h-4.2 Z"/><path d="M62.5,566.5 l2.1,3.6 h-4.2 Z"/><path d="M64.7,562.0 l2.1,3.6 h-4.2 Z"/><path d="M66.9,567.8 l2.1,3.6 h-4.2 Z"/><path d="M69.1,564.7 l2.1,3.6 h-4.2 Z"/><path d="M71.2,569.1 l2.1,3.6 h-4.2 Z"/><path d="M73.4,570.1 l2.1,3.6 h-4.2 Z"/><path d="M75.6,560.1 l2.1,3.6 h-4.2 Z"/><path d="M77.8,570.1 l2.1,3.6 h-4.2 Z"/><path d="M80.0,563.2 l2.1,3.6 h-4.2 Z"/><path d="M82.1,561.9 l2.1,3.6 h-4.2 Z"/><path d="M84.3,564.5 l2.1,3.6 h-4.2 Z"/><path d="M86.5,566.3 l2.1,3.6 h-4.2 Z"/><path d="M88.7,568.6 l2.1,3.6 h-4.2 Z"/><path d="M90.9,574.6 l2.1,3.6 h-4.2 Z"/><path d="M93.1,559.9 l2.1,3.6 h-4.2 Z"/><path d="M95.2,563.4 l2.1,3.6 h-4.2 Z"/><path d="M97.4,565.7 l2.1,3.6 h-4.2 Z"/><path d="M99.6,562.4 l2.1,3.6 h-4.2 Z"/><path d="M101.8,558.1 l2.1,3.6 h-4.2 Z"/><path d="M104.0,562.8 l2.1,3.6 h-4.2 Z"/><path d="M106.1,563.0 l2.1,3.6 h-4.2 Z"/><path d="M108.3,563.9 l2.1,3.6 h-4.2 Z"/><path d="M110.5,560.6 l2.1,3.6 h-4.2 Z"/><path d="M112.7,565.7 l2.1,3.6 h-4.2 Z"/><path d="M114.9,560.8 l2.1,3.6 h-4.2 Z"/><path d="M117.0,561.5 l2.1,3.6 h-4.2 Z"/><path d="M119.2,553.5 l2.1,3.6 h-4.2 Z"/><path d="M121.4,546.2 l2.1,3.6 h-4.2 Z"/><path d="M123.6,554.9 l2.1,3.6 h-4.2 Z"/><path d="M125.8,550.5 l2.1,3.6 h-4.2 Z"/><path d="M128.0,548.6 l2.1,3.6 h-4.2 Z"/><path d="M130.1,544.5 l2.1,3.6 h-4.2 Z"/><path d="M132.3,542.4 l2.1,3.6 h-4.2 Z"/><path d="M134.5,544.0 l2.1,3.6 h-4.2 Z"/><path d="M136.7,550.9 l2.1,3.6 h-4.2 Z"/><path d="M138.9,548.0 l2.1,3.6 h-4.2 Z"/><path d="M141.0,552.5 l2.1,3.6 h-4.2 Z"/><path d="M143.2,555.8 l2.1,3.6 h-4.2 Z"/><path d="M145.4,559.0 l2.1,3.6 h-4.2 Z"/><path d="M147.6,566.9 l2.1,3.6 h-4.2 Z"/><path d="M149.8,558.8 l2.1,3.6 h-4.2 Z"/><path d="M151.9,570.1 l2.1,3.6 h-4.2 Z"/><path d="M154.1,562.8 l2.1,3.6 h-4.2 Z"/><path d="M156.3,563.0 l2.1,3.6 h-4.2 Z"/><path d="M158.5,561.9 l2.1,3.6 h-4.2 Z"/><path d="M160.7,566.9 l2.1,3.6 h-4.2 Z"/><path d="M162.9,569.8 l2.1,3.6 h-4.2 Z"/><path d="M165.0,561.4 l2.1,3.6 h-4.2 Z"/><path d="M167.2,564.3 l2.1,3.6 h-4.2 Z"/><path d="M169.4,564.0 l2.1,3.6 h-4.2 Z"/><path d="M171.6,563.1 l2.1,3.6 h-4.2 Z"/><path d="M173.8,561.8 l2.1,3.6 h-4.2 Z"/><path d="M175.9,566.7 l2.1,3.6 h-4.2 Z"/><path d="M178.1,567.9 l2.1,3.6 h-4.2 Z"/><path d="M180.3,566.5 l2.1,3.6 h-4.2 Z"/><path d="M182.5,563.8 l2.1,3.6 h-4.2 Z"/><path d="M184.7,566.4 l2.1,3.6 h-4.2 Z"/><path d="M186.8,569.0 l2.1,3.6 h-4.2 Z"/><path d="M189.0,567.3 l2.1,3.6 h-4.2 Z"/><path d="M191.2,569.2 l2.1,3.6 h-4.2 Z"/><path d="M193.4,565.3 l2.1,3.6 h-4.2 Z"/><path d="M195.6,568.7 l2.1,3.6 h-4.2 Z"/><path d="M197.8,568.3 l2.1,3.6 h-4.2 Z"/><path d="M199.9,564.1 l2.1,3.6 h-4.2 Z"/><path d="M202.1,565.6 l2.1,3.6 h-4.2 Z"/><path d="M204.3,563.8 l2.1,3.6 h-4.2 Z"/><path d="M206.5,566.6 l2.1,3.6 h-4.2 Z"/><path d="M208.7,565.6 l2.1,3.6 h-4.2 Z"/><path d="M210.8,566.4 l2.1,3.6 h-4.2 Z"/><path d="M213.0,566.1 l2.1,3.6 h-4.2 Z"/><path d="M215.2,564.2 l2.1,3.6 h-4.2 Z"/><path d="M217.4,567.9 l2.1,3.6 h-4.2 Z"/><path d="M219.6,562.4 l2.1,3.6 h-4.2 Z"/></g>
<polyline points="45.5,568.2 46.4,568.2 47.2,568.2 48.1,568.1 49.0,568.1 49.9,568.1 50.7,568.1 51.6,568.1 52.5,568.1 53.4,568.1 54.2,568.1 55.1,568.1 56.0,568.1 56.8,568.1 57.7,568.1 58.6,568.0 59.5,568.0 60.3,568.0 61.2,568.0 62.1,568.0 63.0,568.0 63.8,568.0 64.7,568.0 65.6,567.9 66.4,567.9 67.3,567.9 68.2,567.9 69.1,567.9 69.9,567.9 70.8,567.8 71.7,567.8 72.5,567.8 73.4,567.8 74.3,567.8 75.2,567.7 76.0,567.7 76.9,567.7 77.8,567.7 78.7,567.6 79.5,567.6 80.4,567.6 81.3,567.6 82.1,567.5 83.0,567.5 83.9,567.5 84.8,567.4 85.6,567.4 86.5,567.3 87.4,567.3 88.3,567.2 89.1,567.2 90.0,567.1 90.9,567.1 91.7,567.0 92.6,567.0 93.5,566.9 94.4,566.8 95.2,566.8 96.1,566.7 97.0,566.6 97.8,566.5 98.7,566.4 99.6,566.3 100.5,566.2 101.3,566.1 102.2,566.0 103.1,565.8 104.0,565.7 104.8,565.5 105.7,565.3 106.6,565.1 107.4,564.9 108.3,564.7 109.2,564.5 110.1,564.2 110.9,563.9 111.8,563.6 112.7,563.2 113.6,562.8 114.4,562.4 115.3,561.9 116.2,561.4 117.0,560.9 117.9,560.2 118.8,559.5 119.7,558.8 120.5,557.9 121.4,557.0 122.3,556.0 123.2,554.9 124.0,553.8 124.9,552.6 125.8,551.3 126.6,550.1 127.5,548.9 128.4,547.8 129.3,546.9 130.1,546.1 131.0,545.7 131.9,545.5 132.8,545.7 133.6,546.1 134.5,546.9 135.4,547.8 136.2,548.9 137.1,550.1 138.0,551.3 138.9,552.6 139.7,553.8 140.6,554.9 141.5,556.0 142.3,557.0 143.2,557.9 144.1,558.8 145.0,559.5 145.8,560.2 146.7,560.9 147.6,561.4 148.5,561.9 149.3,562.4 150.2,562.8 151.1,563.2 151.9,563.6 152.8,563.9 153.7,564.2 154.6,564.5 155.4,564.7 156.3,564.9 157.2,565.1 158.1,565.3 158.9,565.5 159.8,565.7 160.7,565.8 161.5,566.0 162.4,566.1 163.3,566.2 164.2,566.3 165.0,566.4 165.9,566.5 166.8,566.6 167.7,566.7 168.5,566.8 169.4,566.8 170.3,566.9 171.1,567.0 172.0,567.0 172.9,567.1 173.8,567.1 174.6,567.2 175.5,567.2 176.4,567.3 177.2,567.3 178.1,567.4 179.0,567.4 179.9,567.5 180.7,567.5 181.6,567.5 182.5,567.6 183.4,567.6 184.2,567.6 185.1,567.6 186.0,567.7 186.8,567.7 187.7,567.7 188.6,567.7 189.5,567.8 190.3,567.8 191.2,567.8 192.1,567.8 193.0,567.8 193.8,567.9 194.7,567.9 195.6,567.9 196.4,567.9 197.3,567.9 198.2,567.9 199.1,568.0 199.9,568.0 200.8,568.0 201.7,568.0 202.6,568.0 203.4,568.0 204.3,568.0 205.2,568.0 206.0,568.1 206.9,568.1 207.8,568.1 208.7,568.1 209.5,568.1 210.4,568.1 211.3,568.1 212.1,568.1 213.0,568.1 213.9,568.1 214.8,568.1 215.6,568.1 216.5,568.2 217.4,568.2 218.3,568.2 219.1,568.2 220.0,568.2" fill="none" stroke="#3434d0" stroke-width="1.1"/>
<text x="217.5" y="561.6" font-size="10.1" text-anchor="end" fill="#3434d0" font-weight="normal" >800 nN</text>
<g fill="none" stroke="#f08c8c" stroke-width="0.75"><circle cx="47.2" cy="593.2" r="1.8"/><circle cx="49.4" cy="590.1" r="1.8"/><circle cx="51.6" cy="595.9" r="1.8"/><circle cx="53.8" cy="589.6" r="1.8"/><circle cx="56.0" cy="588.9" r="1.8"/><circle cx="58.2" cy="594.5" r="1.8"/><circle cx="60.3" cy="597.2" r="1.8"/><circle cx="62.5" cy="597.0" r="1.8"/><circle cx="64.7" cy="597.3" r="1.8"/><circle cx="66.9" cy="594.0" r="1.8"/><circle cx="69.1" cy="591.4" r="1.8"/><circle cx="71.2" cy="594.5" r="1.8"/><circle cx="73.4" cy="594.5" r="1.8"/><circle cx="75.6" cy="592.7" r="1.8"/><circle cx="77.8" cy="590.0" r="1.8"/><circle cx="80.0" cy="591.7" r="1.8"/><circle cx="82.1" cy="593.1" r="1.8"/><circle cx="84.3" cy="588.2" r="1.8"/><circle cx="86.5" cy="590.8" r="1.8"/><circle cx="88.7" cy="587.8" r="1.8"/><circle cx="90.9" cy="597.9" r="1.8"/><circle cx="93.1" cy="594.1" r="1.8"/><circle cx="95.2" cy="591.0" r="1.8"/><circle cx="97.4" cy="594.5" r="1.8"/><circle cx="99.6" cy="591.7" r="1.8"/><circle cx="101.8" cy="588.9" r="1.8"/><circle cx="104.0" cy="590.5" r="1.8"/><circle cx="106.1" cy="589.6" r="1.8"/><circle cx="108.3" cy="601.9" r="1.8"/><circle cx="110.5" cy="585.5" r="1.8"/><circle cx="112.7" cy="578.6" r="1.8"/><circle cx="114.9" cy="589.7" r="1.8"/><circle cx="117.0" cy="581.3" r="1.8"/><circle cx="119.2" cy="579.4" r="1.8"/><circle cx="121.4" cy="586.7" r="1.8"/><circle cx="123.6" cy="576.5" r="1.8"/><circle cx="125.8" cy="572.0" r="1.8"/><circle cx="128.0" cy="573.5" r="1.8"/><circle cx="130.1" cy="566.8" r="1.8"/><circle cx="132.3" cy="572.7" r="1.8"/><circle cx="134.5" cy="568.5" r="1.8"/><circle cx="136.7" cy="574.0" r="1.8"/><circle cx="138.9" cy="581.9" r="1.8"/><circle cx="141.0" cy="586.6" r="1.8"/><circle cx="143.2" cy="574.5" r="1.8"/><circle cx="145.4" cy="582.6" r="1.8"/><circle cx="147.6" cy="584.5" r="1.8"/><circle cx="149.8" cy="590.1" r="1.8"/><circle cx="151.9" cy="586.6" r="1.8"/><circle cx="154.1" cy="585.8" r="1.8"/><circle cx="156.3" cy="594.7" r="1.8"/><circle cx="158.5" cy="594.6" r="1.8"/><circle cx="160.7" cy="590.9" r="1.8"/><circle cx="162.9" cy="583.5" r="1.8"/><circle cx="165.0" cy="590.6" r="1.8"/><circle cx="167.2" cy="586.5" r="1.8"/><circle cx="169.4" cy="598.6" r="1.8"/><circle cx="171.6" cy="593.4" r="1.8"/><circle cx="173.8" cy="593.1" r="1.8"/><circle cx="175.9" cy="595.0" r="1.8"/><circle cx="178.1" cy="594.6" r="1.8"/><circle cx="180.3" cy="588.0" r="1.8"/><circle cx="182.5" cy="594.4" r="1.8"/><circle cx="184.7" cy="593.5" r="1.8"/><circle cx="186.8" cy="583.5" r="1.8"/><circle cx="189.0" cy="596.6" r="1.8"/><circle cx="191.2" cy="594.0" r="1.8"/><circle cx="193.4" cy="592.2" r="1.8"/><circle cx="195.6" cy="594.5" r="1.8"/><circle cx="197.8" cy="589.8" r="1.8"/><circle cx="199.9" cy="596.3" r="1.8"/><circle cx="202.1" cy="591.4" r="1.8"/><circle cx="204.3" cy="588.3" r="1.8"/><circle cx="206.5" cy="600.0" r="1.8"/><circle cx="208.7" cy="595.7" r="1.8"/><circle cx="210.8" cy="593.1" r="1.8"/><circle cx="213.0" cy="593.8" r="1.8"/><circle cx="215.2" cy="594.8" r="1.8"/><circle cx="217.4" cy="598.1" r="1.8"/><circle cx="219.6" cy="595.5" r="1.8"/></g>
<polyline points="45.5,592.9 46.4,592.9 47.2,592.9 48.1,592.8 49.0,592.8 49.9,592.8 50.7,592.8 51.6,592.8 52.5,592.8 53.4,592.8 54.2,592.8 55.1,592.8 56.0,592.8 56.8,592.8 57.7,592.8 58.6,592.7 59.5,592.7 60.3,592.7 61.2,592.7 62.1,592.7 63.0,592.7 63.8,592.7 64.7,592.7 65.6,592.6 66.4,592.6 67.3,592.6 68.2,592.6 69.1,592.6 69.9,592.6 70.8,592.6 71.7,592.5 72.5,592.5 73.4,592.5 74.3,592.5 75.2,592.5 76.0,592.4 76.9,592.4 77.8,592.4 78.7,592.4 79.5,592.3 80.4,592.3 81.3,592.3 82.1,592.2 83.0,592.2 83.9,592.2 84.8,592.1 85.6,592.1 86.5,592.1 87.4,592.0 88.3,592.0 89.1,591.9 90.0,591.9 90.9,591.8 91.7,591.8 92.6,591.7 93.5,591.6 94.4,591.6 95.2,591.5 96.1,591.4 97.0,591.3 97.8,591.2 98.7,591.2 99.6,591.1 100.5,590.9 101.3,590.8 102.2,590.7 103.1,590.6 104.0,590.4 104.8,590.3 105.7,590.1 106.6,589.9 107.4,589.7 108.3,589.5 109.2,589.3 110.1,589.0 110.9,588.7 111.8,588.4 112.7,588.1 113.6,587.7 114.4,587.3 115.3,586.8 116.2,586.3 117.0,585.8 117.9,585.2 118.8,584.5 119.7,583.8 120.5,583.0 121.4,582.1 122.3,581.1 123.2,580.1 124.0,578.9 124.9,577.8 125.8,576.5 126.6,575.3 127.5,574.1 128.4,572.9 129.3,571.9 130.1,571.1 131.0,570.5 131.9,570.2 132.8,570.3 133.6,570.6 134.5,571.2 135.4,572.1 136.2,573.1 137.1,574.3 138.0,575.5 138.9,576.8 139.7,578.0 140.6,579.2 141.5,580.3 142.3,581.3 143.2,582.3 144.1,583.1 145.0,583.9 145.8,584.6 146.7,585.3 147.6,585.9 148.5,586.4 149.3,586.9 150.2,587.4 151.1,587.8 151.9,588.1 152.8,588.5 153.7,588.8 154.6,589.1 155.4,589.3 156.3,589.5 157.2,589.8 158.1,590.0 158.9,590.1 159.8,590.3 160.7,590.5 161.5,590.6 162.4,590.7 163.3,590.9 164.2,591.0 165.0,591.1 165.9,591.2 166.8,591.3 167.7,591.4 168.5,591.4 169.4,591.5 170.3,591.6 171.1,591.6 172.0,591.7 172.9,591.8 173.8,591.8 174.6,591.9 175.5,591.9 176.4,592.0 177.2,592.0 178.1,592.1 179.0,592.1 179.9,592.1 180.7,592.2 181.6,592.2 182.5,592.2 183.4,592.3 184.2,592.3 185.1,592.3 186.0,592.4 186.8,592.4 187.7,592.4 188.6,592.4 189.5,592.5 190.3,592.5 191.2,592.5 192.1,592.5 193.0,592.5 193.8,592.6 194.7,592.6 195.6,592.6 196.4,592.6 197.3,592.6 198.2,592.6 199.1,592.6 199.9,592.7 200.8,592.7 201.7,592.7 202.6,592.7 203.4,592.7 204.3,592.7 205.2,592.7 206.0,592.7 206.9,592.8 207.8,592.8 208.7,592.8 209.5,592.8 210.4,592.8 211.3,592.8 212.1,592.8 213.0,592.8 213.9,592.8 214.8,592.8 215.6,592.8 216.5,592.9 217.4,592.9 218.3,592.9 219.1,592.9 220.0,592.9" fill="none" stroke="#e83838" stroke-width="1.1"/>
<text x="217.5" y="585.2" font-size="10.1" text-anchor="end" fill="#e83838" font-weight="normal" >500 nN</text>
<g fill="none" stroke="#5a5a5a" stroke-width="0.75"><rect x="45.4" y="608.5" width="3.6" height="3.6"/><rect x="47.6" y="611.2" width="3.6" height="3.6"/><rect x="49.8" y="616.0" width="3.6" height="3.6"/><rect x="52.0" y="617.7" width="3.6" height="3.6"/><rect x="54.2" y="610.0" width="3.6" height="3.6"/><rect x="56.4" y="616.1" width="3.6" height="3.6"/><rect x="58.5" y="609.8" width="3.6" height="3.6"/><rect x="60.7" y="611.9" width="3.6" height="3.6"/><rect x="62.9" y="615.3" width="3.6" height="3.6"/><rect x="65.1" y="610.5" width="3.6" height="3.6"/><rect x="67.3" y="619.6" width="3.6" height="3.6"/><rect x="69.4" y="602.9" width="3.6" height="3.6"/><rect x="71.6" y="610.5" width="3.6" height="3.6"/><rect x="73.8" y="608.7" width="3.6" height="3.6"/><rect x="76.0" y="610.6" width="3.6" height="3.6"/><rect x="78.2" y="611.5" width="3.6" height="3.6"/><rect x="80.3" y="605.7" width="3.6" height="3.6"/><rect x="82.5" y="615.0" width="3.6" height="3.6"/><rect x="84.7" y="606.8" width="3.6" height="3.6"/><rect x="86.9" y="612.9" width="3.6" height="3.6"/><rect x="89.1" y="614.1" width="3.6" height="3.6"/><rect x="91.3" y="606.8" width="3.6" height="3.6"/><rect x="93.4" y="614.3" width="3.6" height="3.6"/><rect x="95.6" y="611.1" width="3.6" height="3.6"/><rect x="97.8" y="608.8" width="3.6" height="3.6"/><rect x="100.0" y="612.4" width="3.6" height="3.6"/><rect x="102.2" y="614.7" width="3.6" height="3.6"/><rect x="104.3" y="613.5" width="3.6" height="3.6"/><rect x="106.5" y="609.5" width="3.6" height="3.6"/><rect x="108.7" y="606.5" width="3.6" height="3.6"/><rect x="110.9" y="604.8" width="3.6" height="3.6"/><rect x="113.1" y="608.3" width="3.6" height="3.6"/><rect x="115.2" y="604.6" width="3.6" height="3.6"/><rect x="117.4" y="600.7" width="3.6" height="3.6"/><rect x="119.6" y="597.9" width="3.6" height="3.6"/><rect x="121.8" y="594.2" width="3.6" height="3.6"/><rect x="124.0" y="591.9" width="3.6" height="3.6"/><rect x="126.2" y="592.9" width="3.6" height="3.6"/><rect x="128.3" y="586.5" width="3.6" height="3.6"/><rect x="130.5" y="585.5" width="3.6" height="3.6"/><rect x="132.7" y="588.4" width="3.6" height="3.6"/><rect x="134.9" y="590.2" width="3.6" height="3.6"/><rect x="137.1" y="593.3" width="3.6" height="3.6"/><rect x="139.2" y="602.6" width="3.6" height="3.6"/><rect x="141.4" y="608.3" width="3.6" height="3.6"/><rect x="143.6" y="603.8" width="3.6" height="3.6"/><rect x="145.8" y="606.5" width="3.6" height="3.6"/><rect x="148.0" y="605.7" width="3.6" height="3.6"/><rect x="150.1" y="609.2" width="3.6" height="3.6"/><rect x="152.3" y="604.1" width="3.6" height="3.6"/><rect x="154.5" y="609.2" width="3.6" height="3.6"/><rect x="156.7" y="614.1" width="3.6" height="3.6"/><rect x="158.9" y="606.1" width="3.6" height="3.6"/><rect x="161.1" y="608.9" width="3.6" height="3.6"/><rect x="163.2" y="609.2" width="3.6" height="3.6"/><rect x="165.4" y="607.2" width="3.6" height="3.6"/><rect x="167.6" y="612.9" width="3.6" height="3.6"/><rect x="169.8" y="609.6" width="3.6" height="3.6"/><rect x="172.0" y="615.6" width="3.6" height="3.6"/><rect x="174.1" y="610.8" width="3.6" height="3.6"/><rect x="176.3" y="609.0" width="3.6" height="3.6"/><rect x="178.5" y="608.2" width="3.6" height="3.6"/><rect x="180.7" y="607.2" width="3.6" height="3.6"/><rect x="182.9" y="613.7" width="3.6" height="3.6"/><rect x="185.0" y="610.6" width="3.6" height="3.6"/><rect x="187.2" y="617.0" width="3.6" height="3.6"/><rect x="189.4" y="611.6" width="3.6" height="3.6"/><rect x="191.6" y="613.3" width="3.6" height="3.6"/><rect x="193.8" y="613.3" width="3.6" height="3.6"/><rect x="196.0" y="607.1" width="3.6" height="3.6"/><rect x="198.1" y="614.1" width="3.6" height="3.6"/><rect x="200.3" y="612.6" width="3.6" height="3.6"/><rect x="202.5" y="609.2" width="3.6" height="3.6"/><rect x="204.7" y="611.2" width="3.6" height="3.6"/><rect x="206.9" y="613.3" width="3.6" height="3.6"/><rect x="209.0" y="613.2" width="3.6" height="3.6"/><rect x="211.2" y="613.7" width="3.6" height="3.6"/><rect x="213.4" y="613.4" width="3.6" height="3.6"/><rect x="215.6" y="616.0" width="3.6" height="3.6"/><rect x="217.8" y="611.3" width="3.6" height="3.6"/></g>
<polyline points="45.5,613.7 46.4,613.7 47.2,613.7 48.1,613.6 49.0,613.6 49.9,613.6 50.7,613.6 51.6,613.6 52.5,613.6 53.4,613.6 54.2,613.6 55.1,613.6 56.0,613.6 56.8,613.6 57.7,613.5 58.6,613.5 59.5,613.5 60.3,613.5 61.2,613.5 62.1,613.5 63.0,613.5 63.8,613.5 64.7,613.4 65.6,613.4 66.4,613.4 67.3,613.4 68.2,613.4 69.1,613.4 69.9,613.4 70.8,613.3 71.7,613.3 72.5,613.3 73.4,613.3 74.3,613.3 75.2,613.2 76.0,613.2 76.9,613.2 77.8,613.2 78.7,613.1 79.5,613.1 80.4,613.1 81.3,613.0 82.1,613.0 83.0,613.0 83.9,612.9 84.8,612.9 85.6,612.9 86.5,612.8 87.4,612.8 88.3,612.7 89.1,612.7 90.0,612.6 90.9,612.6 91.7,612.5 92.6,612.4 93.5,612.4 94.4,612.3 95.2,612.2 96.1,612.2 97.0,612.1 97.8,612.0 98.7,611.9 99.6,611.8 100.5,611.7 101.3,611.5 102.2,611.4 103.1,611.3 104.0,611.1 104.8,610.9 105.7,610.8 106.6,610.6 107.4,610.3 108.3,610.1 109.2,609.9 110.1,609.6 110.9,609.3 111.8,608.9 112.7,608.6 113.6,608.2 114.4,607.7 115.3,607.2 116.2,606.7 117.0,606.1 117.9,605.4 118.8,604.7 119.7,603.9 120.5,603.1 121.4,602.1 122.3,601.1 123.2,600.0 124.0,598.8 124.9,597.6 125.8,596.3 126.6,595.1 127.5,593.9 128.4,592.9 129.3,592.0 130.1,591.4 131.0,591.1 131.9,591.0 132.8,591.3 133.6,591.9 134.5,592.7 135.4,593.7 136.2,594.9 137.1,596.1 138.0,597.3 138.9,598.6 139.7,599.7 140.6,600.9 141.5,601.9 142.3,602.9 143.2,603.8 144.1,604.6 145.0,605.3 145.8,606.0 146.7,606.6 147.6,607.1 148.5,607.6 149.3,608.1 150.2,608.5 151.1,608.9 151.9,609.2 152.8,609.5 153.7,609.8 154.6,610.1 155.4,610.3 156.3,610.5 157.2,610.7 158.1,610.9 158.9,611.1 159.8,611.2 160.7,611.4 161.5,611.5 162.4,611.6 163.3,611.7 164.2,611.9 165.0,612.0 165.9,612.0 166.8,612.1 167.7,612.2 168.5,612.3 169.4,612.4 170.3,612.4 171.1,612.5 172.0,612.6 172.9,612.6 173.8,612.7 174.6,612.7 175.5,612.8 176.4,612.8 177.2,612.9 178.1,612.9 179.0,612.9 179.9,613.0 180.7,613.0 181.6,613.0 182.5,613.1 183.4,613.1 184.2,613.1 185.1,613.2 186.0,613.2 186.8,613.2 187.7,613.2 188.6,613.3 189.5,613.3 190.3,613.3 191.2,613.3 192.1,613.3 193.0,613.4 193.8,613.4 194.7,613.4 195.6,613.4 196.4,613.4 197.3,613.4 198.2,613.4 199.1,613.5 199.9,613.5 200.8,613.5 201.7,613.5 202.6,613.5 203.4,613.5 204.3,613.5 205.2,613.5 206.0,613.6 206.9,613.6 207.8,613.6 208.7,613.6 209.5,613.6 210.4,613.6 211.3,613.6 212.1,613.6 213.0,613.6 213.9,613.6 214.8,613.6 215.6,613.6 216.5,613.7 217.4,613.7 218.3,613.7 219.1,613.7 220.0,613.7" fill="none" stroke="#202020" stroke-width="1.1"/>
<text x="218.5" y="608.0" font-size="10.1" text-anchor="end" fill="#111" font-weight="normal" >As exfoliated</text>
<line x1="45.5" y1="622.5" x2="45.5" y2="619.5" stroke="#333" stroke-width="0.8"/>
<text x="45.5" y="633.6" font-size="10" text-anchor="middle" fill="#222" font-weight="normal" >1320</text>
<line x1="63.0" y1="622.5" x2="63.0" y2="620.7" stroke="#333" stroke-width="0.8"/>
<line x1="80.4" y1="622.5" x2="80.4" y2="619.5" stroke="#333" stroke-width="0.8"/>
<text x="80.4" y="633.6" font-size="10" text-anchor="middle" fill="#222" font-weight="normal" >1340</text>
<line x1="97.8" y1="622.5" x2="97.8" y2="620.7" stroke="#333" stroke-width="0.8"/>
<line x1="115.3" y1="622.5" x2="115.3" y2="619.5" stroke="#333" stroke-width="0.8"/>
<text x="115.3" y="633.6" font-size="10" text-anchor="middle" fill="#222" font-weight="normal" >1360</text>
<line x1="132.8" y1="622.5" x2="132.8" y2="620.7" stroke="#333" stroke-width="0.8"/>
<line x1="150.2" y1="622.5" x2="150.2" y2="619.5" stroke="#333" stroke-width="0.8"/>
<text x="150.2" y="633.6" font-size="10" text-anchor="middle" fill="#222" font-weight="normal" >1380</text>
<line x1="167.7" y1="622.5" x2="167.7" y2="620.7" stroke="#333" stroke-width="0.8"/>
<line x1="185.1" y1="622.5" x2="185.1" y2="619.5" stroke="#333" stroke-width="0.8"/>
<text x="185.1" y="633.6" font-size="10" text-anchor="middle" fill="#222" font-weight="normal" >1400</text>
<line x1="202.6" y1="622.5" x2="202.6" y2="620.7" stroke="#333" stroke-width="0.8"/>
<line x1="220.0" y1="622.5" x2="220.0" y2="619.5" stroke="#333" stroke-width="0.8"/>
<text x="220.0" y="633.6" font-size="10" text-anchor="middle" fill="#222" font-weight="normal" >1420</text>
<text x="133" y="653.8" font-size="11.9" text-anchor="middle" fill="#222">Raman Shift (cm<tspan font-size="7" dy="-4">-1</tspan><tspan dy="4">)</tspan></text>
<text x="0" y="0" font-size="11.6" text-anchor="middle" fill="#222" transform="translate(36.6,559) rotate(-90)">Intensity (arb. unit)</text>
<text x="233.6" y="488.8" font-size="15" font-weight="bold" fill="#111">(e)</text>
<rect x="293.7" y="483.8" width="173.10000000000002" height="139.99999999999994" fill="#fff" stroke="#444" stroke-width="1"/>
<text x="290.3" y="627.1999999999999" font-size="9.4" text-anchor="end" fill="#333" font-weight="normal" >1367</text>
<line x1="293.7" y1="623.8" x2="296.7" y2="623.8" stroke="#444" stroke-width="0.8"/>
<line x1="293.7" y1="609.8" x2="295.5" y2="609.8" stroke="#444" stroke-width="0.8"/>
<text x="290.3" y="599.1999999999999" font-size="9.4" text-anchor="end" fill="#333" font-weight="normal" >1368</text>
<line x1="293.7" y1="595.8" x2="296.7" y2="595.8" stroke="#444" stroke-width="0.8"/>
<line x1="293.7" y1="581.8" x2="295.5" y2="581.8" stroke="#444" stroke-width="0.8"/>
<text x="290.3" y="571.1999999999999" font-size="9.4" text-anchor="end" fill="#333" font-weight="normal" >1369</text>
<line x1="293.7" y1="567.8" x2="296.7" y2="567.8" stroke="#444" stroke-width="0.8"/>
<line x1="293.7" y1="553.8" x2="295.5" y2="553.8" stroke="#444" stroke-width="0.8"/>
<text x="290.3" y="543.1999999999999" font-size="9.4" text-anchor="end" fill="#333" font-weight="normal" >1370</text>
<line x1="293.7" y1="539.8" x2="296.7" y2="539.8" stroke="#444" stroke-width="0.8"/>
<line x1="293.7" y1="525.8" x2="295.5" y2="525.8" stroke="#444" stroke-width="0.8"/>
<text x="290.3" y="515.2" font-size="9.4" text-anchor="end" fill="#333" font-weight="normal" >1371</text>
<line x1="293.7" y1="511.8" x2="296.7" y2="511.8" stroke="#444" stroke-width="0.8"/>
<line x1="293.7" y1="497.8" x2="295.5" y2="497.8" stroke="#444" stroke-width="0.8"/>
<text x="290.3" y="487.2" font-size="9.4" text-anchor="end" fill="#333" font-weight="normal" >1372</text>
<line x1="293.7" y1="483.8" x2="296.7" y2="483.8" stroke="#444" stroke-width="0.8"/>
<line x1="313.8" y1="623.8" x2="313.8" y2="620.8" stroke="#444" stroke-width="0.8"/>
<line x1="329.1" y1="623.8" x2="329.1" y2="622.0" stroke="#444" stroke-width="0.8"/>
<line x1="344.4" y1="623.8" x2="344.4" y2="620.8" stroke="#444" stroke-width="0.8"/>
<text x="344.4" y="635" font-size="9.5" text-anchor="middle" fill="#333" font-weight="normal" >300</text>
<line x1="359.7" y1="623.8" x2="359.7" y2="622.0" stroke="#444" stroke-width="0.8"/>
<line x1="375.0" y1="623.8" x2="375.0" y2="620.8" stroke="#444" stroke-width="0.8"/>
<text x="375.0" y="635" font-size="9.5" text-anchor="middle" fill="#333" font-weight="normal" >600</text>
<line x1="390.3" y1="623.8" x2="390.3" y2="622.0" stroke="#444" stroke-width="0.8"/>
<line x1="405.6" y1="623.8" x2="405.6" y2="620.8" stroke="#444" stroke-width="0.8"/>
<text x="405.6" y="635" font-size="9.5" text-anchor="middle" fill="#333" font-weight="normal" >900</text>
<line x1="420.9" y1="623.8" x2="420.9" y2="622.0" stroke="#444" stroke-width="0.8"/>
<line x1="436.2" y1="623.8" x2="436.2" y2="620.8" stroke="#444" stroke-width="0.8"/>
<text x="436.2" y="635" font-size="9.5" text-anchor="middle" fill="#333" font-weight="normal" >1200</text>
<line x1="451.5" y1="623.8" x2="451.5" y2="622.0" stroke="#444" stroke-width="0.8"/>
<line x1="466.8" y1="623.8" x2="466.8" y2="620.8" stroke="#444" stroke-width="0.8"/>
<text x="466.8" y="635" font-size="9.5" text-anchor="middle" fill="#333" font-weight="normal" >1500</text>
<line x1="293.7" y1="558.0" x2="466.8" y2="558.0" stroke="#333" stroke-width="1" stroke-dasharray="3.2 2.4"/>
<line x1="313.8" y1="544.8" x2="313.8" y2="571.2" stroke="#333" stroke-width="0.9"/>
<line x1="312.3" y1="544.8" x2="315.3" y2="544.8" stroke="#333" stroke-width="0.9"/>
<line x1="312.3" y1="571.2" x2="315.3" y2="571.2" stroke="#333" stroke-width="0.9"/>
<rect x="311.6" y="555.8" width="4.4" height="4.4" fill="#111"/>
<line x1="364.8" y1="529.4" x2="364.8" y2="547.4" stroke="#333" stroke-width="0.9"/>
<line x1="363.3" y1="529.4" x2="366.3" y2="529.4" stroke="#333" stroke-width="0.9"/>
<line x1="363.3" y1="547.4" x2="366.3" y2="547.4" stroke="#333" stroke-width="0.9"/>
<rect x="362.6" y="536.2" width="4.4" height="4.4" fill="#111"/>
<line x1="395.4" y1="540.9" x2="395.4" y2="563.9" stroke="#333" stroke-width="0.9"/>
<line x1="393.9" y1="540.9" x2="396.9" y2="540.9" stroke="#333" stroke-width="0.9"/>
<line x1="393.9" y1="563.9" x2="396.9" y2="563.9" stroke="#333" stroke-width="0.9"/>
<rect x="393.2" y="550.2" width="4.4" height="4.4" fill="#111"/>
<line x1="415.8" y1="530.6" x2="415.8" y2="547.9" stroke="#333" stroke-width="0.9"/>
<line x1="414.3" y1="530.6" x2="417.3" y2="530.6" stroke="#333" stroke-width="0.9"/>
<line x1="414.3" y1="547.9" x2="417.3" y2="547.9" stroke="#333" stroke-width="0.9"/>
<rect x="413.6" y="537.0" width="4.4" height="4.4" fill="#111"/>
<line x1="436.2" y1="525.0" x2="436.2" y2="564.7" stroke="#333" stroke-width="0.9"/>
<line x1="434.7" y1="525.0" x2="437.7" y2="525.0" stroke="#333" stroke-width="0.9"/>
<line x1="434.7" y1="564.7" x2="437.7" y2="564.7" stroke="#333" stroke-width="0.9"/>
<rect x="434.0" y="542.6" width="4.4" height="4.4" fill="#111"/>
<text x="313.5" y="637.2" font-size="11.6" text-anchor="middle" fill="#222" font-weight="normal" >As</text>
<text x="313.2" y="651" font-size="11" text-anchor="middle" fill="#222" font-weight="normal" >exfoliated</text>
<text x="394.6" y="651" font-size="11.6" text-anchor="middle" fill="#222" font-weight="normal" >Normal force (nN)</text>
<text x="0" y="0" font-size="11" text-anchor="middle" fill="#222" transform="translate(261,557) rotate(-90)">Frequency (cm<tspan font-size="7" dy="-4">-1</tspan><tspan dy="4">)</tspan></text>
</svg>
</body></html>
